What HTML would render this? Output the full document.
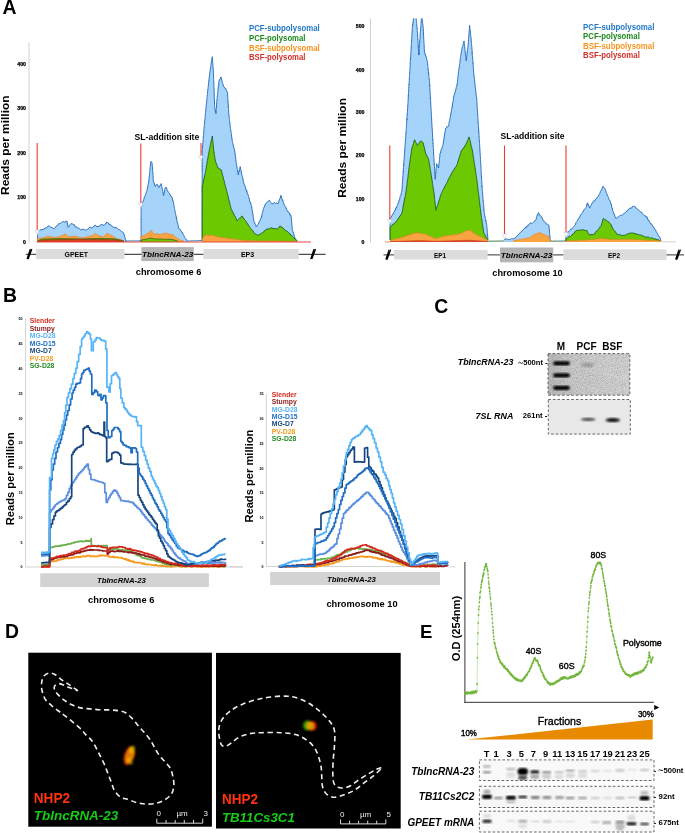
<!DOCTYPE html>
<html><head><meta charset="utf-8"><title>Figure</title>
<style>html,body{margin:0;padding:0;background:#fff;} svg{display:block;will-change:transform;} text{font-family:"Liberation Sans", sans-serif;}</style>
</head><body>
<svg width="685" height="833" viewBox="0 0 685 833" font-family='"Liberation Sans", sans-serif'>
<rect width="685" height="833" fill="#fff"/>
<text x="2.4" y="13.9" font-size="19.4" font-weight="bold" fill="#000">A</text>
<line x1="29" y1="42.5" x2="29" y2="242.5" stroke="#d0d0d0" stroke-width="1"/>
<text x="26" y="66.1" font-size="5.2" font-weight="bold" fill="#000" text-anchor="end" stroke="#000" stroke-width="0.25">400</text>
<text x="26" y="110.2" font-size="5.2" font-weight="bold" fill="#000" text-anchor="end" stroke="#000" stroke-width="0.25">300</text>
<text x="26" y="154.5" font-size="5.2" font-weight="bold" fill="#000" text-anchor="end" stroke="#000" stroke-width="0.25">200</text>
<text x="26" y="199.1" font-size="5.2" font-weight="bold" fill="#000" text-anchor="end" stroke="#000" stroke-width="0.25">100</text>
<text x="26" y="243.5" font-size="5.2" font-weight="bold" fill="#000" text-anchor="end" stroke="#000" stroke-width="0.25">0</text>
<text x="9.3" y="145.2" font-size="10.2" font-weight="bold" fill="#000" text-anchor="middle" textLength="99.5" lengthAdjust="spacingAndGlyphs" transform="rotate(-90 9.3 145.2)">Reads per million</text>
<text x="249" y="31.2" font-size="9.0" font-weight="bold" fill="#1f78c8" textLength="70.7" lengthAdjust="spacingAndGlyphs">PCF-subpolysomal</text>
<text x="249" y="40.9" font-size="9.0" font-weight="bold" fill="#1a8a1a" textLength="56.5" lengthAdjust="spacingAndGlyphs">PCF-polysomal</text>
<text x="249" y="50.599999999999994" font-size="9.0" font-weight="bold" fill="#f7941d" textLength="70.7" lengthAdjust="spacingAndGlyphs">BSF-subpolysomal</text>
<text x="249" y="60.3" font-size="9.0" font-weight="bold" fill="#d0302a" textLength="56.5" lengthAdjust="spacingAndGlyphs">BSF-polysomal</text>
<text x="134.5" y="139.5" font-size="8.6" font-weight="bold" fill="#000" textLength="64.8" lengthAdjust="spacingAndGlyphs">SL-addition site</text>
<path d="M37.5,242.0 L37.5,241.5 L37.5,239.8 L37.5,239.6 L37.5,238.4 L37.5,237.1 L37.5,235.5 L37.5,235.4 L37.5,234.3 L37.5,232.7 L37.5,231.6 L38.6,231.2 L39.7,230.3 L40.8,229.5 L41.9,229.9 L43.0,229.2 L44.1,229.1 L45.2,227.8 L46.3,228.1 L47.1,227.5 L48.0,225.9 L49.3,226.1 L50.6,227.3 L51.5,227.3 L52.4,227.5 L53.3,228.7 L54.2,228.7 L55.0,227.5 L55.9,226.9 L56.8,225.5 L57.7,225.2 L58.6,223.7 L59.4,223.6 L60.3,223.4 L61.2,222.9 L62.5,221.6 L63.8,221.7 L64.8,222.3 L65.9,221.1 L66.9,221.1 L67.1,221.5 L67.3,223.7 L67.6,223.6 L67.8,226.0 L68.0,226.2 L68.2,227.3 L68.8,226.5 L69.5,225.3 L70.2,224.6 L70.8,223.8 L72.1,223.7 L73.4,224.6 L74.3,224.6 L75.1,226.8 L76.0,226.9 L76.9,227.0 L77.8,228.4 L78.6,228.0 L79.5,229.0 L80.7,229.8 L81.8,229.7 L83.0,229.0 L84.2,229.7 L85.3,230.0 L86.5,229.9 L87.4,229.3 L88.3,228.8 L89.2,227.6 L90.5,227.2 L91.8,228.1 L92.7,227.2 L93.5,226.9 L94.4,225.5 L95.6,225.3 L96.7,226.8 L97.9,226.4 L99.1,226.5 L100.2,225.0 L101.4,224.6 L102.8,224.8 L104.1,225.5 L104.8,224.5 L105.4,223.6 L106.0,223.7 L106.7,222.0 L107.6,222.7 L108.4,222.9 L109.3,224.6 L110.5,224.5 L111.6,226.2 L112.8,226.4 L113.9,227.7 L115.0,227.2 L116.1,227.7 L117.2,228.1 L118.1,228.9 L119.0,229.9 L119.8,229.7 L120.7,230.8 L121.6,231.6 L122.4,232.0 L123.3,232.5 L123.7,233.8 L124.0,234.1 L124.4,235.1 L124.7,236.5 L125.1,237.8 L125.4,239.7 L125.7,239.9 L126.0,241.3 L126.0,242.0 Z" fill="#a6d3fa" stroke="none"/>
<path d="M37.5,241.5 L37.5,239.8 L37.5,239.6 L37.5,238.4 L37.5,237.1 L37.5,235.5 L37.5,235.4 L37.5,234.3 L37.5,232.7 L37.5,231.6 L38.6,231.2 L39.7,230.3 L40.8,229.5 L41.9,229.9 L43.0,229.2 L44.1,229.1 L45.2,227.8 L46.3,228.1 L47.1,227.5 L48.0,225.9 L49.3,226.1 L50.6,227.3 L51.5,227.3 L52.4,227.5 L53.3,228.7 L54.2,228.7 L55.0,227.5 L55.9,226.9 L56.8,225.5 L57.7,225.2 L58.6,223.7 L59.4,223.6 L60.3,223.4 L61.2,222.9 L62.5,221.6 L63.8,221.7 L64.8,222.3 L65.9,221.1 L66.9,221.1 L67.1,221.5 L67.3,223.7 L67.6,223.6 L67.8,226.0 L68.0,226.2 L68.2,227.3 L68.8,226.5 L69.5,225.3 L70.2,224.6 L70.8,223.8 L72.1,223.7 L73.4,224.6 L74.3,224.6 L75.1,226.8 L76.0,226.9 L76.9,227.0 L77.8,228.4 L78.6,228.0 L79.5,229.0 L80.7,229.8 L81.8,229.7 L83.0,229.0 L84.2,229.7 L85.3,230.0 L86.5,229.9 L87.4,229.3 L88.3,228.8 L89.2,227.6 L90.5,227.2 L91.8,228.1 L92.7,227.2 L93.5,226.9 L94.4,225.5 L95.6,225.3 L96.7,226.8 L97.9,226.4 L99.1,226.5 L100.2,225.0 L101.4,224.6 L102.8,224.8 L104.1,225.5 L104.8,224.5 L105.4,223.6 L106.0,223.7 L106.7,222.0 L107.6,222.7 L108.4,222.9 L109.3,224.6 L110.5,224.5 L111.6,226.2 L112.8,226.4 L113.9,227.7 L115.0,227.2 L116.1,227.7 L117.2,228.1 L118.1,228.9 L119.0,229.9 L119.8,229.7 L120.7,230.8 L121.6,231.6 L122.4,232.0 L123.3,232.5 L123.7,233.8 L124.0,234.1 L124.4,235.1 L124.7,236.5 L125.1,237.8 L125.4,239.7 L125.7,239.9 L126.0,241.3" fill="none" stroke="#1764b4" stroke-width="0.9" stroke-linejoin="round"/>
<path d="M37.5,242.0 L37.5,241.5 L37.5,240.1 L37.5,238.6 L38.6,238.3 L39.6,238.0 L40.7,237.8 L41.7,238.2 L42.8,237.8 L43.8,237.7 L44.9,237.0 L45.9,236.9 L47.0,236.5 L48.0,236.0 L49.0,236.5 L50.0,236.8 L51.0,236.5 L52.0,237.2 L53.0,237.4 L54.0,237.3 L55.0,237.4 L56.0,237.5 L57.0,236.9 L58.0,236.6 L59.0,236.2 L60.0,236.5 L61.0,235.7 L62.0,235.7 L63.2,234.8 L64.3,234.7 L65.5,233.9 L66.4,234.9 L67.2,235.4 L68.1,236.4 L69.0,236.9 L70.0,236.5 L71.0,236.6 L72.0,236.5 L73.0,236.5 L74.0,236.3 L75.0,236.1 L76.0,236.4 L77.0,236.5 L78.0,237.1 L79.0,237.4 L80.0,237.4 L81.0,237.4 L82.0,237.4 L83.0,237.8 L84.1,237.9 L85.1,237.3 L86.2,237.1 L87.2,236.3 L88.3,236.4 L89.5,235.9 L90.6,236.2 L91.8,235.7 L92.7,235.4 L93.5,234.9 L94.4,234.1 L95.3,233.4 L96.2,233.9 L97.0,234.6 L97.9,235.4 L98.8,235.7 L99.9,235.8 L100.9,236.2 L102.0,236.2 L103.0,236.9 L104.1,236.9 L104.8,235.6 L105.4,235.3 L106.0,234.6 L106.7,233.4 L107.8,233.4 L108.9,234.3 L110.0,234.8 L111.1,235.1 L112.0,235.9 L112.8,236.2 L113.7,236.5 L114.5,237.2 L115.4,237.8 L116.5,238.6 L117.6,239.0 L118.7,238.8 L119.8,239.5 L120.9,239.6 L122.0,240.1 L123.1,240.5 L124.2,241.3 L124.2,242.0 Z" fill="#f9a441" stroke="none"/>
<path d="M37.5,241.5 L37.5,240.1 L37.5,238.6 L38.6,238.3 L39.6,238.0 L40.7,237.8 L41.7,238.2 L42.8,237.8 L43.8,237.7 L44.9,237.0 L45.9,236.9 L47.0,236.5 L48.0,236.0 L49.0,236.5 L50.0,236.8 L51.0,236.5 L52.0,237.2 L53.0,237.4 L54.0,237.3 L55.0,237.4 L56.0,237.5 L57.0,236.9 L58.0,236.6 L59.0,236.2 L60.0,236.5 L61.0,235.7 L62.0,235.7 L63.2,234.8 L64.3,234.7 L65.5,233.9 L66.4,234.9 L67.2,235.4 L68.1,236.4 L69.0,236.9 L70.0,236.5 L71.0,236.6 L72.0,236.5 L73.0,236.5 L74.0,236.3 L75.0,236.1 L76.0,236.4 L77.0,236.5 L78.0,237.1 L79.0,237.4 L80.0,237.4 L81.0,237.4 L82.0,237.4 L83.0,237.8 L84.1,237.9 L85.1,237.3 L86.2,237.1 L87.2,236.3 L88.3,236.4 L89.5,235.9 L90.6,236.2 L91.8,235.7 L92.7,235.4 L93.5,234.9 L94.4,234.1 L95.3,233.4 L96.2,233.9 L97.0,234.6 L97.9,235.4 L98.8,235.7 L99.9,235.8 L100.9,236.2 L102.0,236.2 L103.0,236.9 L104.1,236.9 L104.8,235.6 L105.4,235.3 L106.0,234.6 L106.7,233.4 L107.8,233.4 L108.9,234.3 L110.0,234.8 L111.1,235.1 L112.0,235.9 L112.8,236.2 L113.7,236.5 L114.5,237.2 L115.4,237.8 L116.5,238.6 L117.6,239.0 L118.7,238.8 L119.8,239.5 L120.9,239.6 L122.0,240.1 L123.1,240.5 L124.2,241.3" fill="none" stroke="#e0802a" stroke-width="0.6" stroke-linejoin="round"/>
<path d="M37.5,242.0 L37.5,241.0 L42.0,239.0 L60.0,238.6 L80.0,239.0 L100.0,238.4 L115.0,238.8 L124.0,241.0 L124.0,242.0 Z" fill="#6cc800" stroke="none"/>
<path d="M37.5,241.0 L42.0,239.0 L60.0,238.6 L80.0,239.0 L100.0,238.4 L115.0,238.8 L124.0,241.0" fill="none" stroke="#0d4d1a" stroke-width="0.6" stroke-linejoin="round"/>
<path d="M37.5,242.0 L37.5,241.5 L42.0,240.0 L60.0,239.5 L80.0,239.3 L100.0,239.4 L115.0,239.8 L124.0,241.5 L124.0,242.0 Z" fill="#d9431f" stroke="none"/>
<path d="M37.5,241.5 L42.0,240.0 L60.0,239.5 L80.0,239.3 L100.0,239.4 L115.0,239.8 L124.0,241.5" fill="none" stroke="#8a2a10" stroke-width="0.6" stroke-linejoin="round"/>
<path d="M141.1,242.0 L141.1,242.0 L141.1,240.9 L141.1,239.4 L141.1,239.6 L141.1,238.3 L141.1,236.4 L141.1,236.0 L141.1,234.7 L141.1,234.0 L141.1,232.5 L141.1,231.4 L141.1,230.4 L141.1,229.8 L141.1,229.3 L141.1,228.0 L141.1,226.2 L141.1,226.3 L141.1,225.6 L141.1,224.4 L141.1,223.4 L141.1,221.1 L141.1,220.9 L141.1,219.2 L141.1,219.4 L141.1,217.4 L141.1,217.3 L141.1,215.5 L141.1,215.3 L141.1,213.6 L141.1,212.1 L141.1,211.7 L141.1,210.6 L141.1,210.6 L141.1,208.6 L141.1,207.9 L141.1,207.0 L141.1,205.9 L141.5,205.7 L141.9,203.3 L142.2,203.2 L142.6,202.1 L143.0,201.5 L143.4,200.2 L143.8,199.8 L144.2,197.6 L144.7,197.1 L145.1,195.6 L145.5,194.5 L145.9,193.4 L146.4,191.4 L146.8,191.0 L147.0,190.5 L147.2,189.8 L147.4,187.8 L147.7,186.7 L147.9,186.9 L148.1,184.4 L148.3,183.4 L148.5,183.1 L148.6,181.3 L148.7,181.6 L148.9,180.5 L149.0,178.9 L149.1,178.2 L149.2,176.1 L149.3,176.1 L149.5,174.8 L149.6,173.9 L149.7,172.8 L149.8,171.6 L149.9,170.6 L150.0,169.2 L150.1,167.9 L150.2,167.5 L150.3,166.2 L150.4,165.9 L150.5,165.0 L150.6,163.9 L150.7,162.4 L150.8,161.4 L152.0,162.5 L152.1,163.1 L152.2,164.4 L152.3,165.6 L152.4,166.8 L152.4,168.4 L152.5,168.0 L152.6,169.7 L152.7,170.7 L152.8,172.1 L152.9,172.8 L153.0,174.5 L153.0,175.3 L153.1,176.0 L153.1,177.2 L153.2,178.1 L153.2,179.4 L153.2,180.1 L153.3,180.8 L153.7,182.2 L154.1,182.6 L154.5,184.2 L154.9,186.1 L155.4,186.5 L155.9,185.2 L156.5,184.2 L157.7,184.8 L158.1,185.9 L158.4,187.2 L158.8,187.6 L159.4,187.2 L160.0,185.3 L160.6,185.3 L161.1,183.6 L161.3,183.8 L161.5,185.4 L161.8,186.4 L162.0,187.6 L162.2,188.8 L162.4,189.3 L162.7,191.2 L162.9,191.5 L163.1,193.0 L163.4,195.2 L163.6,195.6 L163.8,195.0 L164.0,193.4 L164.2,191.8 L164.5,192.1 L164.7,190.7 L164.9,188.8 L165.1,188.2 L166.2,187.1 L166.6,188.0 L167.0,189.6 L167.4,190.5 L168.2,192.0 L169.1,192.8 L169.6,193.5 L170.2,195.0 L171.1,196.7 L171.9,196.8 L172.1,197.5 L172.4,198.3 L172.6,200.3 L172.9,200.1 L173.1,202.0 L173.4,202.1 L173.6,203.6 L173.8,204.8 L174.0,205.2 L174.2,206.4 L174.4,208.4 L174.5,208.6 L174.7,209.6 L174.9,210.9 L175.1,211.3 L175.3,212.7 L175.5,213.1 L175.7,214.5 L175.9,215.3 L176.2,216.2 L176.4,218.5 L176.6,217.9 L176.8,220.2 L177.0,220.7 L177.2,222.4 L177.4,223.0 L177.7,222.9 L177.9,224.7 L178.1,224.9 L178.4,226.9 L178.6,228.0 L178.8,228.7 L179.5,229.0 L180.3,229.4 L181.0,231.0 L181.6,231.9 L182.2,232.0 L182.7,233.2 L183.3,234.4 L183.9,235.5 L184.4,237.3 L185.0,237.8 L185.6,238.5 L186.1,239.0 L186.7,240.6 L187.0,241.5 L187.0,242.0 Z" fill="#a6d3fa" stroke="none"/>
<path d="M141.1,242.0 L141.1,240.9 L141.1,239.4 L141.1,239.6 L141.1,238.3 L141.1,236.4 L141.1,236.0 L141.1,234.7 L141.1,234.0 L141.1,232.5 L141.1,231.4 L141.1,230.4 L141.1,229.8 L141.1,229.3 L141.1,228.0 L141.1,226.2 L141.1,226.3 L141.1,225.6 L141.1,224.4 L141.1,223.4 L141.1,221.1 L141.1,220.9 L141.1,219.2 L141.1,219.4 L141.1,217.4 L141.1,217.3 L141.1,215.5 L141.1,215.3 L141.1,213.6 L141.1,212.1 L141.1,211.7 L141.1,210.6 L141.1,210.6 L141.1,208.6 L141.1,207.9 L141.1,207.0 L141.1,205.9 L141.5,205.7 L141.9,203.3 L142.2,203.2 L142.6,202.1 L143.0,201.5 L143.4,200.2 L143.8,199.8 L144.2,197.6 L144.7,197.1 L145.1,195.6 L145.5,194.5 L145.9,193.4 L146.4,191.4 L146.8,191.0 L147.0,190.5 L147.2,189.8 L147.4,187.8 L147.7,186.7 L147.9,186.9 L148.1,184.4 L148.3,183.4 L148.5,183.1 L148.6,181.3 L148.7,181.6 L148.9,180.5 L149.0,178.9 L149.1,178.2 L149.2,176.1 L149.3,176.1 L149.5,174.8 L149.6,173.9 L149.7,172.8 L149.8,171.6 L149.9,170.6 L150.0,169.2 L150.1,167.9 L150.2,167.5 L150.3,166.2 L150.4,165.9 L150.5,165.0 L150.6,163.9 L150.7,162.4 L150.8,161.4 L152.0,162.5 L152.1,163.1 L152.2,164.4 L152.3,165.6 L152.4,166.8 L152.4,168.4 L152.5,168.0 L152.6,169.7 L152.7,170.7 L152.8,172.1 L152.9,172.8 L153.0,174.5 L153.0,175.3 L153.1,176.0 L153.1,177.2 L153.2,178.1 L153.2,179.4 L153.2,180.1 L153.3,180.8 L153.7,182.2 L154.1,182.6 L154.5,184.2 L154.9,186.1 L155.4,186.5 L155.9,185.2 L156.5,184.2 L157.7,184.8 L158.1,185.9 L158.4,187.2 L158.8,187.6 L159.4,187.2 L160.0,185.3 L160.6,185.3 L161.1,183.6 L161.3,183.8 L161.5,185.4 L161.8,186.4 L162.0,187.6 L162.2,188.8 L162.4,189.3 L162.7,191.2 L162.9,191.5 L163.1,193.0 L163.4,195.2 L163.6,195.6 L163.8,195.0 L164.0,193.4 L164.2,191.8 L164.5,192.1 L164.7,190.7 L164.9,188.8 L165.1,188.2 L166.2,187.1 L166.6,188.0 L167.0,189.6 L167.4,190.5 L168.2,192.0 L169.1,192.8 L169.6,193.5 L170.2,195.0 L171.1,196.7 L171.9,196.8 L172.1,197.5 L172.4,198.3 L172.6,200.3 L172.9,200.1 L173.1,202.0 L173.4,202.1 L173.6,203.6 L173.8,204.8 L174.0,205.2 L174.2,206.4 L174.4,208.4 L174.5,208.6 L174.7,209.6 L174.9,210.9 L175.1,211.3 L175.3,212.7 L175.5,213.1 L175.7,214.5 L175.9,215.3 L176.2,216.2 L176.4,218.5 L176.6,217.9 L176.8,220.2 L177.0,220.7 L177.2,222.4 L177.4,223.0 L177.7,222.9 L177.9,224.7 L178.1,224.9 L178.4,226.9 L178.6,228.0 L178.8,228.7 L179.5,229.0 L180.3,229.4 L181.0,231.0 L181.6,231.9 L182.2,232.0 L182.7,233.2 L183.3,234.4 L183.9,235.5 L184.4,237.3 L185.0,237.8 L185.6,238.5 L186.1,239.0 L186.7,240.6 L187.0,241.5" fill="none" stroke="#1764b4" stroke-width="0.9" stroke-linejoin="round"/>
<path d="M141.1,242.0 L141.1,242.0 L141.1,241.2 L141.1,240.1 L141.1,238.8 L141.1,237.4 L141.1,236.7 L142.1,236.0 L143.1,235.7 L144.1,235.4 L145.1,234.9 L145.9,234.1 L146.8,234.0 L147.7,233.5 L148.5,232.7 L149.3,232.3 L150.0,231.5 L150.8,230.4 L151.7,230.9 L152.5,232.1 L153.3,233.3 L154.2,234.4 L155.2,233.8 L156.1,234.1 L157.1,233.5 L158.2,234.0 L159.4,234.3 L160.5,234.4 L161.9,233.9 L163.4,233.8 L164.8,233.0 L166.2,233.0 L167.2,233.6 L168.2,233.8 L169.2,234.1 L170.2,234.4 L171.6,234.4 L173.1,234.4 L173.8,235.6 L174.6,236.1 L175.3,237.2 L176.3,237.6 L177.3,238.2 L178.3,238.8 L179.3,239.5 L180.5,240.1 L181.6,240.7 L182.8,240.5 L183.9,241.3 L183.9,242.0 Z" fill="#f9a441" stroke="none"/>
<path d="M141.1,242.0 L141.1,241.2 L141.1,240.1 L141.1,238.8 L141.1,237.4 L141.1,236.7 L142.1,236.0 L143.1,235.7 L144.1,235.4 L145.1,234.9 L145.9,234.1 L146.8,234.0 L147.7,233.5 L148.5,232.7 L149.3,232.3 L150.0,231.5 L150.8,230.4 L151.7,230.9 L152.5,232.1 L153.3,233.3 L154.2,234.4 L155.2,233.8 L156.1,234.1 L157.1,233.5 L158.2,234.0 L159.4,234.3 L160.5,234.4 L161.9,233.9 L163.4,233.8 L164.8,233.0 L166.2,233.0 L167.2,233.6 L168.2,233.8 L169.2,234.1 L170.2,234.4 L171.6,234.4 L173.1,234.4 L173.8,235.6 L174.6,236.1 L175.3,237.2 L176.3,237.6 L177.3,238.2 L178.3,238.8 L179.3,239.5 L180.5,240.1 L181.6,240.7 L182.8,240.5 L183.9,241.3" fill="none" stroke="#e0802a" stroke-width="0.6" stroke-linejoin="round"/>
<path d="M141.1,242.0 L141.1,242.0 L141.1,240.1 L147.4,238.9 L150.8,238.0 L154.2,238.9 L164.5,239.2 L172.5,239.5 L178.2,241.3 L178.2,242.0 Z" fill="#6cc800" stroke="none"/>
<path d="M141.1,242.0 L141.1,240.1 L147.4,238.9 L150.8,238.0 L154.2,238.9 L164.5,239.2 L172.5,239.5 L178.2,241.3" fill="none" stroke="#0d4d1a" stroke-width="0.6" stroke-linejoin="round"/>
<path d="M125.3,241 L141.1,240.8 M186.9,241 L202.2,240.6" stroke="#1764b4" stroke-width="0.8" fill="none"/>
<path d="M202.2,242.0 L202.2,241.0 L202.2,239.3 L202.2,239.0 L202.2,238.3 L202.2,236.5 L202.2,235.6 L202.2,234.2 L202.2,233.2 L202.2,233.0 L202.2,232.3 L202.2,231.2 L202.2,229.4 L202.2,228.3 L202.2,228.7 L202.2,227.0 L202.2,225.8 L202.2,225.3 L202.2,224.4 L202.2,223.0 L202.2,221.3 L202.2,221.5 L202.2,219.5 L202.2,218.2 L202.2,217.7 L202.2,217.0 L202.2,216.2 L202.2,214.4 L202.2,214.3 L202.2,213.0 L202.2,211.4 L202.2,211.6 L202.2,210.5 L202.2,209.7 L202.2,208.3 L202.2,206.5 L202.2,206.4 L202.2,205.6 L202.2,204.0 L202.2,203.7 L202.2,202.8 L202.2,200.8 L202.2,200.7 L202.2,199.7 L202.2,198.5 L202.2,196.1 L202.2,195.7 L202.2,195.1 L202.2,194.1 L202.2,193.4 L202.2,192.2 L202.2,190.4 L202.2,190.7 L202.2,189.0 L202.2,188.6 L202.2,186.4 L202.2,186.8 L202.2,185.0 L202.2,184.4 L202.2,183.3 L202.2,182.6 L202.2,180.7 L202.2,179.2 L202.2,178.8 L202.2,177.4 L202.2,177.0 L202.2,176.5 L202.2,174.7 L202.2,173.3 L202.2,172.1 L202.2,171.8 L202.2,171.1 L202.2,169.1 L202.2,169.2 L202.2,167.4 L202.2,166.2 L202.2,166.6 L202.2,165.0 L202.2,164.6 L202.2,162.9 L202.2,161.3 L202.2,160.5 L202.2,159.8 L202.2,159.1 L202.2,158.4 L202.2,157.3 L202.2,156.2 L202.2,154.5 L202.2,153.8 L202.2,152.7 L202.2,151.9 L202.2,150.9 L202.3,149.5 L202.4,148.9 L202.5,147.7 L202.5,146.0 L202.6,146.3 L202.7,144.9 L202.8,144.2 L202.9,143.1 L203.0,142.0 L203.1,141.5 L203.1,139.4 L203.2,138.4 L203.3,136.7 L203.4,136.8 L203.5,135.6 L203.6,134.6 L203.7,134.3 L203.7,131.9 L203.8,130.9 L203.9,130.7 L204.0,129.8 L204.1,128.2 L204.2,126.5 L204.3,126.0 L204.3,125.7 L204.4,124.2 L204.5,123.1 L204.6,122.1 L204.7,120.9 L204.8,120.3 L204.9,119.3 L205.0,118.4 L205.1,117.7 L205.2,116.5 L205.3,114.9 L205.4,113.7 L205.5,113.6 L205.6,112.6 L205.7,111.9 L205.8,109.6 L205.9,109.7 L206.0,108.8 L206.1,106.4 L206.2,105.8 L206.3,105.4 L206.4,103.6 L206.5,103.7 L206.6,101.8 L206.7,101.5 L206.8,99.8 L206.9,98.7 L207.0,97.7 L207.1,97.2 L207.2,96.6 L207.3,94.7 L207.4,94.5 L207.5,93.2 L207.6,91.9 L207.7,91.4 L207.8,89.9 L208.0,88.6 L208.1,87.4 L208.2,86.3 L208.3,86.3 L208.4,84.8 L208.5,83.3 L208.6,83.6 L208.8,82.1 L208.9,80.0 L209.0,80.2 L209.1,79.0 L209.2,77.7 L209.3,76.7 L209.4,76.5 L209.6,74.5 L209.7,73.9 L209.8,72.9 L209.9,71.6 L210.1,70.4 L210.2,69.4 L210.4,69.1 L210.5,67.9 L210.7,66.6 L210.9,65.7 L211.0,64.2 L211.2,64.1 L211.3,61.8 L211.5,61.9 L211.7,60.6 L211.8,59.2 L212.0,58.8 L212.1,57.8 L212.3,56.7 L212.4,57.0 L212.4,58.7 L212.5,59.2 L212.6,61.3 L212.7,61.5 L212.7,62.5 L212.8,63.3 L212.9,64.1 L212.9,65.3 L213.0,66.3 L213.1,68.1 L213.1,69.5 L213.2,69.5 L213.3,70.3 L213.4,72.0 L213.4,72.3 L213.5,74.0 L213.5,74.9 L213.6,76.5 L213.6,76.6 L213.6,78.4 L213.7,79.2 L213.7,79.4 L213.8,80.7 L213.8,82.3 L213.8,82.5 L213.9,83.7 L213.9,85.4 L213.9,86.8 L214.0,87.3 L214.0,88.6 L214.0,88.5 L214.1,90.0 L214.1,91.1 L214.2,93.1 L214.2,93.2 L214.2,94.9 L214.3,94.7 L214.3,96.5 L214.3,98.2 L214.4,99.0 L214.4,99.7 L214.4,100.0 L214.5,102.3 L214.5,101.9 L214.6,104.4 L214.6,105.1 L214.6,106.0 L214.7,106.7 L214.7,107.7 L214.9,108.1 L215.1,109.4 L215.3,111.0 L215.5,112.0 L215.7,112.5 L215.9,113.7 L216.0,113.2 L216.1,110.9 L216.1,110.2 L216.2,108.8 L216.3,108.2 L216.4,108.0 L216.5,106.9 L216.5,104.8 L216.6,104.0 L216.7,102.6 L216.8,102.5 L216.9,101.1 L216.9,99.7 L217.0,98.9 L217.1,98.1 L217.2,97.7 L217.3,96.0 L217.4,95.4 L217.5,94.3 L217.7,93.1 L217.8,92.2 L217.9,90.9 L218.0,89.6 L218.1,89.1 L218.2,87.8 L218.3,86.9 L218.4,85.6 L218.6,85.9 L218.7,84.1 L218.8,82.7 L218.9,81.4 L219.0,81.2 L219.5,79.6 L220.0,79.7 L220.5,77.7 L221.0,76.9 L221.3,78.2 L221.5,78.5 L221.8,80.2 L222.1,80.9 L222.3,82.4 L222.6,83.1 L222.9,83.8 L223.1,84.7 L223.4,86.1 L224.2,87.1 L225.0,88.3 L225.8,88.5 L226.2,90.0 L226.7,90.8 L227.1,91.7 L227.5,93.2 L227.6,94.9 L227.6,95.8 L227.7,95.6 L227.8,97.6 L227.8,98.7 L227.9,99.6 L227.9,101.1 L228.0,102.0 L228.1,101.9 L228.1,104.2 L228.2,104.1 L228.3,105.2 L228.3,107.2 L228.4,106.9 L228.4,108.3 L228.5,109.7 L228.6,110.1 L228.6,111.1 L228.7,112.5 L228.8,114.1 L228.9,114.8 L229.1,116.1 L229.2,117.2 L229.3,118.4 L229.4,119.5 L229.5,120.4 L229.6,121.7 L229.8,121.9 L229.9,123.3 L230.0,124.1 L230.1,125.9 L230.2,126.4 L230.4,127.1 L230.5,128.5 L230.6,129.3 L230.7,130.0 L230.9,130.7 L231.0,132.1 L231.2,132.7 L231.3,133.5 L231.4,134.6 L231.6,136.2 L231.7,137.7 L231.9,137.5 L232.0,139.5 L232.2,139.6 L232.3,141.3 L232.6,142.5 L232.9,143.4 L233.2,144.8 L233.5,146.1 L233.8,147.7 L234.1,148.4 L234.4,149.5 L234.7,150.9 L234.8,152.3 L235.0,152.3 L235.1,153.7 L235.2,155.3 L235.4,156.5 L235.5,157.8 L235.6,157.5 L235.8,159.2 L235.9,159.7 L236.0,161.3 L236.2,162.6 L236.3,163.0 L236.5,163.4 L236.6,164.7 L236.8,166.7 L237.0,166.7 L237.1,168.2 L237.3,169.5 L237.5,169.6 L237.6,171.5 L237.8,171.2 L238.0,172.7 L238.1,173.4 L238.3,175.0 L238.5,173.7 L238.8,172.4 L239.0,171.0 L239.2,171.3 L239.5,169.2 L239.7,168.8 L240.0,167.7 L240.2,166.6 L240.4,168.2 L240.6,169.3 L240.8,170.0 L241.1,170.2 L241.3,172.3 L241.5,172.2 L241.7,174.7 L241.9,175.0 L242.2,175.7 L242.4,176.7 L242.7,177.7 L243.0,179.1 L243.2,180.8 L243.5,182.0 L243.8,182.9 L244.0,183.9 L244.3,184.6 L244.7,185.1 L245.0,186.2 L245.4,187.1 L245.7,188.3 L246.1,190.0 L246.5,191.2 L246.8,190.6 L247.2,193.1 L247.5,194.0 L247.9,194.2 L248.2,195.1 L248.5,196.5 L248.8,197.7 L249.1,197.7 L249.4,199.4 L249.7,201.0 L250.0,201.8 L250.3,202.9 L250.6,202.5 L250.9,204.6 L251.2,205.2 L251.5,206.2 L251.7,207.9 L251.8,207.7 L252.0,209.4 L252.2,209.7 L252.4,211.9 L252.5,212.8 L252.7,212.7 L252.9,214.2 L253.0,214.9 L253.2,216.8 L253.4,217.8 L253.6,217.9 L253.7,220.4 L253.9,220.7 L254.3,222.5 L254.7,222.6 L255.1,223.8 L255.5,224.5 L255.9,225.9 L256.3,226.7 L256.9,225.6 L257.5,224.8 L258.1,224.4 L258.7,223.1 L259.2,221.6 L259.7,220.8 L260.1,220.7 L260.6,218.8 L261.1,218.3 L261.4,216.5 L261.6,216.9 L261.9,214.5 L262.2,213.9 L262.4,212.6 L262.7,211.5 L263.0,210.6 L263.2,209.8 L263.5,208.7 L264.0,207.1 L264.5,206.8 L264.9,205.0 L265.4,204.1 L265.9,203.8 L266.6,202.6 L267.3,201.9 L268.1,201.4 L268.8,200.6 L269.5,200.2 L270.1,201.7 L270.7,202.3 L271.3,202.9 L271.9,203.8 L273.1,203.7 L274.3,202.6 L275.5,203.3 L276.7,203.1 L277.9,203.8 L278.3,202.9 L278.7,202.1 L279.1,200.7 L279.4,200.0 L279.8,198.8 L280.2,198.2 L280.6,196.0 L281.0,195.4 L281.4,196.7 L281.7,198.3 L282.1,198.6 L282.4,200.3 L282.8,200.0 L283.2,202.1 L283.5,202.4 L283.9,203.8 L284.3,205.1 L284.8,205.5 L285.2,206.6 L285.7,207.0 L286.1,207.9 L286.6,209.8 L287.1,210.3 L287.5,211.0 L288.1,212.0 L288.7,212.0 L289.3,213.1 L289.9,215.1 L290.5,214.6 L291.1,215.9 L291.2,217.0 L291.3,218.3 L291.4,219.0 L291.5,220.1 L291.6,221.8 L291.7,222.5 L291.8,222.7 L291.8,224.0 L291.9,225.0 L292.0,226.5 L292.1,227.5 L292.2,227.8 L292.3,229.6 L292.4,230.3 L292.7,231.2 L293.1,231.5 L293.4,233.0 L293.8,234.2 L294.1,234.9 L294.5,236.8 L294.8,237.5 L295.4,239.2 L296.0,240.0 L296.6,240.3 L297.2,241.0 L297.2,242.0 Z" fill="#a6d3fa" stroke="none"/>
<path d="M202.2,241.0 L202.2,239.3 L202.2,239.0 L202.2,238.3 L202.2,236.5 L202.2,235.6 L202.2,234.2 L202.2,233.2 L202.2,233.0 L202.2,232.3 L202.2,231.2 L202.2,229.4 L202.2,228.3 L202.2,228.7 L202.2,227.0 L202.2,225.8 L202.2,225.3 L202.2,224.4 L202.2,223.0 L202.2,221.3 L202.2,221.5 L202.2,219.5 L202.2,218.2 L202.2,217.7 L202.2,217.0 L202.2,216.2 L202.2,214.4 L202.2,214.3 L202.2,213.0 L202.2,211.4 L202.2,211.6 L202.2,210.5 L202.2,209.7 L202.2,208.3 L202.2,206.5 L202.2,206.4 L202.2,205.6 L202.2,204.0 L202.2,203.7 L202.2,202.8 L202.2,200.8 L202.2,200.7 L202.2,199.7 L202.2,198.5 L202.2,196.1 L202.2,195.7 L202.2,195.1 L202.2,194.1 L202.2,193.4 L202.2,192.2 L202.2,190.4 L202.2,190.7 L202.2,189.0 L202.2,188.6 L202.2,186.4 L202.2,186.8 L202.2,185.0 L202.2,184.4 L202.2,183.3 L202.2,182.6 L202.2,180.7 L202.2,179.2 L202.2,178.8 L202.2,177.4 L202.2,177.0 L202.2,176.5 L202.2,174.7 L202.2,173.3 L202.2,172.1 L202.2,171.8 L202.2,171.1 L202.2,169.1 L202.2,169.2 L202.2,167.4 L202.2,166.2 L202.2,166.6 L202.2,165.0 L202.2,164.6 L202.2,162.9 L202.2,161.3 L202.2,160.5 L202.2,159.8 L202.2,159.1 L202.2,158.4 L202.2,157.3 L202.2,156.2 L202.2,154.5 L202.2,153.8 L202.2,152.7 L202.2,151.9 L202.2,150.9 L202.3,149.5 L202.4,148.9 L202.5,147.7 L202.5,146.0 L202.6,146.3 L202.7,144.9 L202.8,144.2 L202.9,143.1 L203.0,142.0 L203.1,141.5 L203.1,139.4 L203.2,138.4 L203.3,136.7 L203.4,136.8 L203.5,135.6 L203.6,134.6 L203.7,134.3 L203.7,131.9 L203.8,130.9 L203.9,130.7 L204.0,129.8 L204.1,128.2 L204.2,126.5 L204.3,126.0 L204.3,125.7 L204.4,124.2 L204.5,123.1 L204.6,122.1 L204.7,120.9 L204.8,120.3 L204.9,119.3 L205.0,118.4 L205.1,117.7 L205.2,116.5 L205.3,114.9 L205.4,113.7 L205.5,113.6 L205.6,112.6 L205.7,111.9 L205.8,109.6 L205.9,109.7 L206.0,108.8 L206.1,106.4 L206.2,105.8 L206.3,105.4 L206.4,103.6 L206.5,103.7 L206.6,101.8 L206.7,101.5 L206.8,99.8 L206.9,98.7 L207.0,97.7 L207.1,97.2 L207.2,96.6 L207.3,94.7 L207.4,94.5 L207.5,93.2 L207.6,91.9 L207.7,91.4 L207.8,89.9 L208.0,88.6 L208.1,87.4 L208.2,86.3 L208.3,86.3 L208.4,84.8 L208.5,83.3 L208.6,83.6 L208.8,82.1 L208.9,80.0 L209.0,80.2 L209.1,79.0 L209.2,77.7 L209.3,76.7 L209.4,76.5 L209.6,74.5 L209.7,73.9 L209.8,72.9 L209.9,71.6 L210.1,70.4 L210.2,69.4 L210.4,69.1 L210.5,67.9 L210.7,66.6 L210.9,65.7 L211.0,64.2 L211.2,64.1 L211.3,61.8 L211.5,61.9 L211.7,60.6 L211.8,59.2 L212.0,58.8 L212.1,57.8 L212.3,56.7 L212.4,57.0 L212.4,58.7 L212.5,59.2 L212.6,61.3 L212.7,61.5 L212.7,62.5 L212.8,63.3 L212.9,64.1 L212.9,65.3 L213.0,66.3 L213.1,68.1 L213.1,69.5 L213.2,69.5 L213.3,70.3 L213.4,72.0 L213.4,72.3 L213.5,74.0 L213.5,74.9 L213.6,76.5 L213.6,76.6 L213.6,78.4 L213.7,79.2 L213.7,79.4 L213.8,80.7 L213.8,82.3 L213.8,82.5 L213.9,83.7 L213.9,85.4 L213.9,86.8 L214.0,87.3 L214.0,88.6 L214.0,88.5 L214.1,90.0 L214.1,91.1 L214.2,93.1 L214.2,93.2 L214.2,94.9 L214.3,94.7 L214.3,96.5 L214.3,98.2 L214.4,99.0 L214.4,99.7 L214.4,100.0 L214.5,102.3 L214.5,101.9 L214.6,104.4 L214.6,105.1 L214.6,106.0 L214.7,106.7 L214.7,107.7 L214.9,108.1 L215.1,109.4 L215.3,111.0 L215.5,112.0 L215.7,112.5 L215.9,113.7 L216.0,113.2 L216.1,110.9 L216.1,110.2 L216.2,108.8 L216.3,108.2 L216.4,108.0 L216.5,106.9 L216.5,104.8 L216.6,104.0 L216.7,102.6 L216.8,102.5 L216.9,101.1 L216.9,99.7 L217.0,98.9 L217.1,98.1 L217.2,97.7 L217.3,96.0 L217.4,95.4 L217.5,94.3 L217.7,93.1 L217.8,92.2 L217.9,90.9 L218.0,89.6 L218.1,89.1 L218.2,87.8 L218.3,86.9 L218.4,85.6 L218.6,85.9 L218.7,84.1 L218.8,82.7 L218.9,81.4 L219.0,81.2 L219.5,79.6 L220.0,79.7 L220.5,77.7 L221.0,76.9 L221.3,78.2 L221.5,78.5 L221.8,80.2 L222.1,80.9 L222.3,82.4 L222.6,83.1 L222.9,83.8 L223.1,84.7 L223.4,86.1 L224.2,87.1 L225.0,88.3 L225.8,88.5 L226.2,90.0 L226.7,90.8 L227.1,91.7 L227.5,93.2 L227.6,94.9 L227.6,95.8 L227.7,95.6 L227.8,97.6 L227.8,98.7 L227.9,99.6 L227.9,101.1 L228.0,102.0 L228.1,101.9 L228.1,104.2 L228.2,104.1 L228.3,105.2 L228.3,107.2 L228.4,106.9 L228.4,108.3 L228.5,109.7 L228.6,110.1 L228.6,111.1 L228.7,112.5 L228.8,114.1 L228.9,114.8 L229.1,116.1 L229.2,117.2 L229.3,118.4 L229.4,119.5 L229.5,120.4 L229.6,121.7 L229.8,121.9 L229.9,123.3 L230.0,124.1 L230.1,125.9 L230.2,126.4 L230.4,127.1 L230.5,128.5 L230.6,129.3 L230.7,130.0 L230.9,130.7 L231.0,132.1 L231.2,132.7 L231.3,133.5 L231.4,134.6 L231.6,136.2 L231.7,137.7 L231.9,137.5 L232.0,139.5 L232.2,139.6 L232.3,141.3 L232.6,142.5 L232.9,143.4 L233.2,144.8 L233.5,146.1 L233.8,147.7 L234.1,148.4 L234.4,149.5 L234.7,150.9 L234.8,152.3 L235.0,152.3 L235.1,153.7 L235.2,155.3 L235.4,156.5 L235.5,157.8 L235.6,157.5 L235.8,159.2 L235.9,159.7 L236.0,161.3 L236.2,162.6 L236.3,163.0 L236.5,163.4 L236.6,164.7 L236.8,166.7 L237.0,166.7 L237.1,168.2 L237.3,169.5 L237.5,169.6 L237.6,171.5 L237.8,171.2 L238.0,172.7 L238.1,173.4 L238.3,175.0 L238.5,173.7 L238.8,172.4 L239.0,171.0 L239.2,171.3 L239.5,169.2 L239.7,168.8 L240.0,167.7 L240.2,166.6 L240.4,168.2 L240.6,169.3 L240.8,170.0 L241.1,170.2 L241.3,172.3 L241.5,172.2 L241.7,174.7 L241.9,175.0 L242.2,175.7 L242.4,176.7 L242.7,177.7 L243.0,179.1 L243.2,180.8 L243.5,182.0 L243.8,182.9 L244.0,183.9 L244.3,184.6 L244.7,185.1 L245.0,186.2 L245.4,187.1 L245.7,188.3 L246.1,190.0 L246.5,191.2 L246.8,190.6 L247.2,193.1 L247.5,194.0 L247.9,194.2 L248.2,195.1 L248.5,196.5 L248.8,197.7 L249.1,197.7 L249.4,199.4 L249.7,201.0 L250.0,201.8 L250.3,202.9 L250.6,202.5 L250.9,204.6 L251.2,205.2 L251.5,206.2 L251.7,207.9 L251.8,207.7 L252.0,209.4 L252.2,209.7 L252.4,211.9 L252.5,212.8 L252.7,212.7 L252.9,214.2 L253.0,214.9 L253.2,216.8 L253.4,217.8 L253.6,217.9 L253.7,220.4 L253.9,220.7 L254.3,222.5 L254.7,222.6 L255.1,223.8 L255.5,224.5 L255.9,225.9 L256.3,226.7 L256.9,225.6 L257.5,224.8 L258.1,224.4 L258.7,223.1 L259.2,221.6 L259.7,220.8 L260.1,220.7 L260.6,218.8 L261.1,218.3 L261.4,216.5 L261.6,216.9 L261.9,214.5 L262.2,213.9 L262.4,212.6 L262.7,211.5 L263.0,210.6 L263.2,209.8 L263.5,208.7 L264.0,207.1 L264.5,206.8 L264.9,205.0 L265.4,204.1 L265.9,203.8 L266.6,202.6 L267.3,201.9 L268.1,201.4 L268.8,200.6 L269.5,200.2 L270.1,201.7 L270.7,202.3 L271.3,202.9 L271.9,203.8 L273.1,203.7 L274.3,202.6 L275.5,203.3 L276.7,203.1 L277.9,203.8 L278.3,202.9 L278.7,202.1 L279.1,200.7 L279.4,200.0 L279.8,198.8 L280.2,198.2 L280.6,196.0 L281.0,195.4 L281.4,196.7 L281.7,198.3 L282.1,198.6 L282.4,200.3 L282.8,200.0 L283.2,202.1 L283.5,202.4 L283.9,203.8 L284.3,205.1 L284.8,205.5 L285.2,206.6 L285.7,207.0 L286.1,207.9 L286.6,209.8 L287.1,210.3 L287.5,211.0 L288.1,212.0 L288.7,212.0 L289.3,213.1 L289.9,215.1 L290.5,214.6 L291.1,215.9 L291.2,217.0 L291.3,218.3 L291.4,219.0 L291.5,220.1 L291.6,221.8 L291.7,222.5 L291.8,222.7 L291.8,224.0 L291.9,225.0 L292.0,226.5 L292.1,227.5 L292.2,227.8 L292.3,229.6 L292.4,230.3 L292.7,231.2 L293.1,231.5 L293.4,233.0 L293.8,234.2 L294.1,234.9 L294.5,236.8 L294.8,237.5 L295.4,239.2 L296.0,240.0 L296.6,240.3 L297.2,241.0" fill="none" stroke="#1764b4" stroke-width="0.9" stroke-linejoin="round"/>
<path d="M202.2,242.0 L202.2,241.0 L202.2,240.4 L202.2,239.0 L202.2,238.1 L202.2,237.4 L202.2,235.6 L202.2,234.9 L202.2,233.9 L202.2,232.8 L202.2,231.9 L202.2,230.6 L202.2,230.2 L202.2,229.5 L202.2,227.7 L202.2,226.7 L202.2,225.8 L202.2,225.3 L202.2,223.7 L202.2,223.3 L202.2,221.7 L202.2,221.1 L202.2,220.2 L202.2,219.2 L202.2,217.6 L202.2,217.5 L202.2,216.3 L202.2,215.0 L202.2,214.4 L202.2,213.1 L202.2,211.7 L202.2,210.9 L202.2,210.3 L202.2,209.0 L202.2,207.5 L202.2,206.7 L202.2,205.7 L202.2,205.1 L202.2,204.1 L202.2,202.9 L202.2,201.9 L202.2,201.5 L202.2,199.8 L202.2,199.2 L202.2,197.7 L202.2,197.0 L202.2,195.7 L202.2,194.6 L202.2,193.8 L202.2,192.6 L202.2,191.9 L202.2,191.2 L202.2,190.0 L202.2,189.3 L202.2,188.0 L202.2,187.0 L202.4,185.6 L202.6,185.3 L202.8,183.9 L203.0,183.3 L203.3,182.5 L203.5,181.1 L203.7,179.8 L203.9,179.0 L204.1,178.1 L204.3,176.9 L204.5,175.7 L204.7,175.0 L205.0,174.3 L205.2,173.5 L205.4,172.4 L205.6,171.6 L205.8,170.2 L206.0,169.5 L206.1,168.1 L206.3,167.3 L206.5,165.6 L206.7,165.4 L206.8,164.2 L207.0,162.8 L207.2,161.9 L207.3,160.7 L207.5,160.2 L207.7,158.8 L207.9,158.1 L208.0,157.3 L208.2,155.8 L208.4,155.1 L208.6,153.7 L208.8,152.6 L209.0,152.2 L209.2,151.2 L209.4,149.5 L209.6,148.7 L209.8,148.1 L210.0,147.1 L210.2,145.6 L210.4,144.7 L210.6,143.8 L210.8,143.1 L211.1,141.2 L211.3,140.2 L211.6,139.5 L211.8,138.6 L212.1,137.6 L212.3,136.0 L212.4,137.0 L212.5,138.3 L212.6,139.5 L212.7,139.8 L212.8,140.7 L212.9,141.8 L213.0,143.3 L213.1,143.6 L213.2,145.0 L213.3,146.4 L213.4,146.7 L213.5,148.1 L213.6,149.0 L213.7,150.5 L213.8,151.0 L214.0,152.1 L214.2,153.1 L214.3,154.6 L214.5,155.5 L214.7,156.0 L214.9,157.7 L215.0,158.4 L215.2,160.0 L215.4,160.6 L215.7,162.1 L216.1,162.7 L216.4,163.6 L216.8,164.4 L217.1,165.5 L217.5,166.5 L217.8,167.8 L218.7,168.1 L219.6,169.2 L220.5,169.2 L221.4,170.2 L221.7,171.4 L221.9,172.4 L222.2,173.6 L222.5,174.5 L222.7,176.0 L223.0,176.4 L223.3,177.3 L223.5,178.8 L223.8,179.8 L224.1,180.6 L224.4,182.4 L224.6,183.4 L224.9,184.3 L225.2,185.5 L225.5,185.9 L225.7,187.3 L226.0,188.2 L226.3,189.4 L226.6,190.3 L226.8,191.4 L227.1,192.6 L227.4,193.8 L227.6,194.3 L227.9,195.8 L228.2,196.5 L228.4,198.4 L228.7,199.0 L229.0,200.1 L229.2,201.2 L229.5,202.0 L229.8,203.5 L230.0,204.6 L230.3,205.9 L230.6,206.6 L230.8,207.4 L231.1,208.7 L231.5,209.7 L232.0,210.1 L232.4,211.6 L232.9,212.1 L233.3,213.4 L233.8,213.7 L234.2,215.1 L234.7,215.9 L235.2,216.5 L235.7,217.4 L236.1,218.5 L236.6,220.1 L237.1,220.7 L237.9,219.8 L238.7,219.1 L239.5,218.3 L240.3,217.8 L241.1,217.2 L241.9,215.9 L242.6,216.6 L243.3,218.0 L244.1,219.1 L244.8,220.0 L245.5,220.7 L246.1,221.4 L246.7,222.5 L247.3,223.7 L247.9,224.1 L248.5,225.2 L249.1,226.2 L249.7,227.4 L250.3,227.9 L251.0,228.5 L251.7,229.8 L252.4,230.2 L253.0,231.0 L253.7,232.2 L254.4,233.2 L255.1,233.9 L256.3,234.4 L257.5,235.1 L258.7,235.1 L259.6,234.2 L260.5,233.9 L261.4,233.3 L262.3,232.7 L263.1,231.9 L263.9,231.9 L264.7,230.5 L265.5,230.1 L266.3,229.2 L267.1,229.1 L268.3,228.9 L269.5,228.7 L270.7,227.9 L271.9,227.9 L273.1,228.6 L274.3,228.6 L275.5,228.5 L276.7,229.1 L277.6,228.7 L278.5,227.9 L279.4,226.5 L280.3,225.9 L281.2,227.1 L282.1,227.1 L283.0,228.1 L283.9,229.1 L284.7,229.6 L285.5,230.8 L286.3,230.7 L287.1,231.4 L287.9,231.8 L288.7,232.7 L289.5,233.8 L290.3,234.0 L291.1,235.4 L292.0,235.7 L292.8,236.7 L293.6,237.5 L294.3,238.6 L295.0,238.7 L295.8,239.6 L296.5,240.4 L297.2,241.0 L297.2,242.0 Z" fill="#6cc800" stroke="none"/>
<path d="M202.2,241.0 L202.2,240.4 L202.2,239.0 L202.2,238.1 L202.2,237.4 L202.2,235.6 L202.2,234.9 L202.2,233.9 L202.2,232.8 L202.2,231.9 L202.2,230.6 L202.2,230.2 L202.2,229.5 L202.2,227.7 L202.2,226.7 L202.2,225.8 L202.2,225.3 L202.2,223.7 L202.2,223.3 L202.2,221.7 L202.2,221.1 L202.2,220.2 L202.2,219.2 L202.2,217.6 L202.2,217.5 L202.2,216.3 L202.2,215.0 L202.2,214.4 L202.2,213.1 L202.2,211.7 L202.2,210.9 L202.2,210.3 L202.2,209.0 L202.2,207.5 L202.2,206.7 L202.2,205.7 L202.2,205.1 L202.2,204.1 L202.2,202.9 L202.2,201.9 L202.2,201.5 L202.2,199.8 L202.2,199.2 L202.2,197.7 L202.2,197.0 L202.2,195.7 L202.2,194.6 L202.2,193.8 L202.2,192.6 L202.2,191.9 L202.2,191.2 L202.2,190.0 L202.2,189.3 L202.2,188.0 L202.2,187.0 L202.4,185.6 L202.6,185.3 L202.8,183.9 L203.0,183.3 L203.3,182.5 L203.5,181.1 L203.7,179.8 L203.9,179.0 L204.1,178.1 L204.3,176.9 L204.5,175.7 L204.7,175.0 L205.0,174.3 L205.2,173.5 L205.4,172.4 L205.6,171.6 L205.8,170.2 L206.0,169.5 L206.1,168.1 L206.3,167.3 L206.5,165.6 L206.7,165.4 L206.8,164.2 L207.0,162.8 L207.2,161.9 L207.3,160.7 L207.5,160.2 L207.7,158.8 L207.9,158.1 L208.0,157.3 L208.2,155.8 L208.4,155.1 L208.6,153.7 L208.8,152.6 L209.0,152.2 L209.2,151.2 L209.4,149.5 L209.6,148.7 L209.8,148.1 L210.0,147.1 L210.2,145.6 L210.4,144.7 L210.6,143.8 L210.8,143.1 L211.1,141.2 L211.3,140.2 L211.6,139.5 L211.8,138.6 L212.1,137.6 L212.3,136.0 L212.4,137.0 L212.5,138.3 L212.6,139.5 L212.7,139.8 L212.8,140.7 L212.9,141.8 L213.0,143.3 L213.1,143.6 L213.2,145.0 L213.3,146.4 L213.4,146.7 L213.5,148.1 L213.6,149.0 L213.7,150.5 L213.8,151.0 L214.0,152.1 L214.2,153.1 L214.3,154.6 L214.5,155.5 L214.7,156.0 L214.9,157.7 L215.0,158.4 L215.2,160.0 L215.4,160.6 L215.7,162.1 L216.1,162.7 L216.4,163.6 L216.8,164.4 L217.1,165.5 L217.5,166.5 L217.8,167.8 L218.7,168.1 L219.6,169.2 L220.5,169.2 L221.4,170.2 L221.7,171.4 L221.9,172.4 L222.2,173.6 L222.5,174.5 L222.7,176.0 L223.0,176.4 L223.3,177.3 L223.5,178.8 L223.8,179.8 L224.1,180.6 L224.4,182.4 L224.6,183.4 L224.9,184.3 L225.2,185.5 L225.5,185.9 L225.7,187.3 L226.0,188.2 L226.3,189.4 L226.6,190.3 L226.8,191.4 L227.1,192.6 L227.4,193.8 L227.6,194.3 L227.9,195.8 L228.2,196.5 L228.4,198.4 L228.7,199.0 L229.0,200.1 L229.2,201.2 L229.5,202.0 L229.8,203.5 L230.0,204.6 L230.3,205.9 L230.6,206.6 L230.8,207.4 L231.1,208.7 L231.5,209.7 L232.0,210.1 L232.4,211.6 L232.9,212.1 L233.3,213.4 L233.8,213.7 L234.2,215.1 L234.7,215.9 L235.2,216.5 L235.7,217.4 L236.1,218.5 L236.6,220.1 L237.1,220.7 L237.9,219.8 L238.7,219.1 L239.5,218.3 L240.3,217.8 L241.1,217.2 L241.9,215.9 L242.6,216.6 L243.3,218.0 L244.1,219.1 L244.8,220.0 L245.5,220.7 L246.1,221.4 L246.7,222.5 L247.3,223.7 L247.9,224.1 L248.5,225.2 L249.1,226.2 L249.7,227.4 L250.3,227.9 L251.0,228.5 L251.7,229.8 L252.4,230.2 L253.0,231.0 L253.7,232.2 L254.4,233.2 L255.1,233.9 L256.3,234.4 L257.5,235.1 L258.7,235.1 L259.6,234.2 L260.5,233.9 L261.4,233.3 L262.3,232.7 L263.1,231.9 L263.9,231.9 L264.7,230.5 L265.5,230.1 L266.3,229.2 L267.1,229.1 L268.3,228.9 L269.5,228.7 L270.7,227.9 L271.9,227.9 L273.1,228.6 L274.3,228.6 L275.5,228.5 L276.7,229.1 L277.6,228.7 L278.5,227.9 L279.4,226.5 L280.3,225.9 L281.2,227.1 L282.1,227.1 L283.0,228.1 L283.9,229.1 L284.7,229.6 L285.5,230.8 L286.3,230.7 L287.1,231.4 L287.9,231.8 L288.7,232.7 L289.5,233.8 L290.3,234.0 L291.1,235.4 L292.0,235.7 L292.8,236.7 L293.6,237.5 L294.3,238.6 L295.0,238.7 L295.8,239.6 L296.5,240.4 L297.2,241.0" fill="none" stroke="#0d4d1a" stroke-width="0.8" stroke-linejoin="round"/>
<path d="M202.2,242.0 L202.2,241.0 L202.2,239.9 L202.2,238.7 L203.0,237.6 L203.8,236.8 L204.6,235.6 L205.6,235.4 L206.7,235.2 L207.7,235.0 L208.7,235.4 L209.7,235.3 L210.8,235.4 L211.8,235.1 L212.8,235.1 L213.9,235.8 L214.9,235.9 L215.9,236.2 L216.9,236.7 L218.0,236.7 L219.0,237.0 L220.0,237.1 L221.0,237.4 L222.0,237.1 L223.0,237.9 L224.0,237.7 L225.1,237.5 L226.1,238.0 L227.1,238.5 L228.1,238.7 L229.1,238.4 L230.1,238.4 L231.1,238.7 L232.1,239.2 L233.1,238.8 L234.1,238.7 L235.1,239.1 L236.1,239.4 L237.1,239.7 L238.1,239.3 L239.1,239.7 L240.1,240.2 L241.1,240.0 L242.1,240.0 L243.1,240.4 L244.1,240.6 L245.1,240.4 L246.2,240.6 L247.2,240.5 L248.2,240.8 L249.2,240.5 L250.2,240.9 L251.2,240.8 L252.3,240.8 L253.3,240.6 L254.3,240.7 L255.3,240.6 L256.3,240.3 L257.3,241.0 L258.4,241.0 L259.4,240.9 L260.4,241.0 L261.4,240.8 L262.4,241.2 L263.4,240.8 L264.5,241.2 L265.5,240.5 L266.5,240.8 L267.5,241.0 L268.5,241.2 L269.5,241.0 L270.6,241.2 L271.6,240.9 L272.6,241.1 L273.6,241.3 L274.6,241.1 L275.6,240.7 L276.7,241.2 L277.7,240.7 L278.7,241.0 L279.7,240.8 L280.7,241.4 L281.7,240.9 L282.8,241.4 L283.8,240.9 L284.8,241.0 L285.8,241.4 L286.8,241.6 L287.8,241.0 L288.9,241.4 L289.9,241.3 L290.9,241.5 L291.9,241.1 L292.9,241.0 L293.9,241.1 L295.0,241.8 L296.0,241.5 L297.0,241.5 L297.0,242.0 Z" fill="#f9a441" stroke="none"/>
<path d="M202.2,241.0 L202.2,239.9 L202.2,238.7 L203.0,237.6 L203.8,236.8 L204.6,235.6 L205.6,235.4 L206.7,235.2 L207.7,235.0 L208.7,235.4 L209.7,235.3 L210.8,235.4 L211.8,235.1 L212.8,235.1 L213.9,235.8 L214.9,235.9 L215.9,236.2 L216.9,236.7 L218.0,236.7 L219.0,237.0 L220.0,237.1 L221.0,237.4 L222.0,237.1 L223.0,237.9 L224.0,237.7 L225.1,237.5 L226.1,238.0 L227.1,238.5 L228.1,238.7 L229.1,238.4 L230.1,238.4 L231.1,238.7 L232.1,239.2 L233.1,238.8 L234.1,238.7 L235.1,239.1 L236.1,239.4 L237.1,239.7 L238.1,239.3 L239.1,239.7 L240.1,240.2 L241.1,240.0 L242.1,240.0 L243.1,240.4 L244.1,240.6 L245.1,240.4 L246.2,240.6 L247.2,240.5 L248.2,240.8 L249.2,240.5 L250.2,240.9 L251.2,240.8 L252.3,240.8 L253.3,240.6 L254.3,240.7 L255.3,240.6 L256.3,240.3 L257.3,241.0 L258.4,241.0 L259.4,240.9 L260.4,241.0 L261.4,240.8 L262.4,241.2 L263.4,240.8 L264.5,241.2 L265.5,240.5 L266.5,240.8 L267.5,241.0 L268.5,241.2 L269.5,241.0 L270.6,241.2 L271.6,240.9 L272.6,241.1 L273.6,241.3 L274.6,241.1 L275.6,240.7 L276.7,241.2 L277.7,240.7 L278.7,241.0 L279.7,240.8 L280.7,241.4 L281.7,240.9 L282.8,241.4 L283.8,240.9 L284.8,241.0 L285.8,241.4 L286.8,241.6 L287.8,241.0 L288.9,241.4 L289.9,241.3 L290.9,241.5 L291.9,241.1 L292.9,241.0 L293.9,241.1 L295.0,241.8 L296.0,241.5 L297.0,241.5" fill="none" stroke="#e0802a" stroke-width="0.6" stroke-linejoin="round"/>
<line x1="36.7" y1="242" x2="311" y2="242" stroke="#e2372a" stroke-width="0.9"/>
<line x1="37.2" y1="143" x2="37.2" y2="230" stroke="#ee3b30" stroke-width="1.1"/>
<path d="M35.0,230 L39.400000000000006,230 L37.2,235 Z" fill="#fff" stroke="#bbb" stroke-width="0.4"/>
<line x1="140.8" y1="143.5" x2="140.8" y2="203" stroke="#ee3b30" stroke-width="1.1"/>
<path d="M138.60000000000002,203 L143.0,203 L140.8,208 Z" fill="#fff" stroke="#bbb" stroke-width="0.4"/>
<line x1="201" y1="143" x2="201" y2="155.8" stroke="#ee3b30" stroke-width="1.1"/>
<path d="M198.8,155.8 L203.2,155.8 L201,160.8 Z" fill="#fff" stroke="#bbb" stroke-width="0.4"/>
<line x1="25.8" y1="254.3" x2="325.6" y2="254.3" stroke="#222" stroke-width="1"/>
<path d="M27.2,258.6 L30.2,249.5 M28.3,258.6 L31.7,249.5" stroke="#000" stroke-width="1.25" stroke-linecap="round"/>
<path d="M310.9,258.6 L313.9,249.5 M312.0,258.6 L315.4,249.5" stroke="#000" stroke-width="1.25" stroke-linecap="round"/>
<rect x="36" y="249" width="88.5" height="10" fill="#dcdcdc"/>
<rect x="141.3" y="247.1" width="52.5" height="14" fill="#b4b4b4"/>
<rect x="203.3" y="249" width="95.5" height="10" fill="#dcdcdc"/>
<text x="76.3" y="256.7" font-size="8.0" font-weight="bold" fill="#000" text-anchor="middle" textLength="23.4" lengthAdjust="spacingAndGlyphs">GPEET</text>
<text x="167.6" y="257.1" font-size="8.1" font-weight="bold" font-style="italic" fill="#000" text-anchor="middle" textLength="51.4" lengthAdjust="spacingAndGlyphs">TbIncRNA-23</text>
<text x="247.5" y="256.7" font-size="8.0" font-weight="bold" fill="#000" text-anchor="middle" textLength="13.2" lengthAdjust="spacingAndGlyphs">EP3</text>
<text x="168.6" y="275.3" font-size="9.2" font-weight="bold" fill="#000" text-anchor="middle" textLength="65.7" lengthAdjust="spacingAndGlyphs">chromosome 6</text>
<line x1="370.5" y1="18.6" x2="370.5" y2="242.5" stroke="#d0d0d0" stroke-width="1"/>
<text x="364.5" y="28.3" font-size="5.2" font-weight="bold" fill="#000" text-anchor="end" stroke="#000" stroke-width="0.25">500</text>
<text x="364.5" y="71.7" font-size="5.2" font-weight="bold" fill="#000" text-anchor="end" stroke="#000" stroke-width="0.25">400</text>
<text x="364.5" y="114.4" font-size="5.2" font-weight="bold" fill="#000" text-anchor="end" stroke="#000" stroke-width="0.25">300</text>
<text x="364.5" y="157.1" font-size="5.2" font-weight="bold" fill="#000" text-anchor="end" stroke="#000" stroke-width="0.25">200</text>
<text x="364.5" y="200.5" font-size="5.2" font-weight="bold" fill="#000" text-anchor="end" stroke="#000" stroke-width="0.25">100</text>
<text x="364.5" y="243.7" font-size="5.2" font-weight="bold" fill="#000" text-anchor="end" stroke="#000" stroke-width="0.25">0</text>
<text x="346.1" y="147.9" font-size="10.2" font-weight="bold" fill="#000" text-anchor="middle" textLength="99.8" lengthAdjust="spacingAndGlyphs" transform="rotate(-90 346.1 147.9)">Reads per million</text>
<text x="583.1" y="29.8" font-size="9.0" font-weight="bold" fill="#1f78c8" textLength="71.3" lengthAdjust="spacingAndGlyphs">PCF-subpolysomal</text>
<text x="583.1" y="39.3" font-size="9.0" font-weight="bold" fill="#1a8a1a" textLength="56.7" lengthAdjust="spacingAndGlyphs">PCF-polysomal</text>
<text x="583.1" y="48.8" font-size="9.0" font-weight="bold" fill="#f7941d" textLength="71.3" lengthAdjust="spacingAndGlyphs">BSF-subpolysomal</text>
<text x="583.1" y="58.3" font-size="9.0" font-weight="bold" fill="#d0302a" textLength="56.7" lengthAdjust="spacingAndGlyphs">BSF-polysomal</text>
<text x="500.5" y="139.2" font-size="8.6" font-weight="bold" fill="#000" textLength="64.1" lengthAdjust="spacingAndGlyphs">SL-addition site</text>
<clipPath id="cpA"><rect x="371" y="18.6" width="310" height="230"/></clipPath>
<g clip-path="url(#cpA)">
<path d="M390.1,242.0 L390.1,239.9 L390.1,239.1 L390.1,237.3 L390.1,237.2 L390.1,236.5 L390.1,234.3 L390.1,234.3 L390.1,233.4 L390.1,232.7 L390.1,230.9 L390.1,230.1 L390.1,228.5 L390.1,228.3 L390.1,226.5 L390.1,226.0 L390.1,225.0 L390.1,224.6 L390.1,223.2 L390.1,221.0 L390.1,220.2 L390.1,219.5 L390.1,218.7 L390.7,217.6 L391.2,217.2 L391.8,215.5 L392.4,215.1 L392.9,214.0 L393.5,213.1 L394.0,211.8 L394.4,211.5 L394.9,210.2 L395.4,210.1 L395.8,207.7 L396.3,208.1 L396.8,206.7 L397.2,205.5 L397.7,204.6 L398.1,202.8 L398.4,202.7 L398.8,202.0 L399.1,200.1 L399.4,199.7 L399.8,198.4 L400.1,196.6 L400.5,196.2 L400.8,195.7 L401.1,193.6 L401.3,192.7 L401.6,192.1 L401.9,190.5 L402.0,190.1 L402.0,189.1 L402.1,187.2 L402.2,187.0 L402.3,184.8 L402.3,184.5 L402.4,183.3 L402.5,183.0 L402.5,181.8 L402.6,180.6 L402.7,179.9 L402.8,178.1 L402.8,177.2 L402.9,175.6 L403.0,175.1 L403.0,173.8 L403.1,173.7 L403.2,171.6 L403.3,172.0 L403.3,170.4 L403.4,169.1 L403.5,167.6 L403.6,167.1 L403.6,166.3 L403.7,164.6 L403.8,165.0 L403.8,162.9 L403.9,162.0 L404.0,160.8 L404.1,159.9 L404.1,158.7 L404.2,158.7 L404.3,156.3 L404.3,155.8 L404.4,155.2 L404.5,154.0 L404.6,152.7 L404.6,152.0 L404.7,151.0 L404.8,149.2 L404.8,148.7 L404.9,147.9 L405.0,147.4 L405.0,145.8 L405.1,144.8 L405.2,144.2 L405.3,142.6 L405.3,142.0 L405.4,140.4 L405.5,140.1 L405.5,139.0 L405.6,138.2 L405.7,137.5 L405.7,136.4 L405.8,135.7 L405.9,133.4 L405.9,133.6 L406.0,131.8 L406.1,130.6 L406.1,129.8 L406.2,129.6 L406.3,128.6 L406.4,127.3 L406.4,125.5 L406.5,124.2 L406.6,123.3 L406.6,123.1 L406.7,122.1 L406.8,120.0 L406.8,118.9 L406.9,119.6 L407.0,117.5 L407.0,116.0 L407.1,115.7 L407.2,114.1 L407.3,114.3 L407.3,112.8 L407.4,111.9 L407.5,111.4 L407.5,109.1 L407.6,108.7 L407.7,107.2 L407.7,107.1 L407.8,105.8 L407.8,104.5 L407.9,103.4 L408.0,102.8 L408.0,102.3 L408.1,101.3 L408.1,100.2 L408.2,99.3 L408.3,96.9 L408.3,95.7 L408.4,96.0 L408.4,94.0 L408.5,93.4 L408.6,92.3 L408.6,92.2 L408.7,90.3 L408.7,88.7 L408.8,87.8 L408.9,88.0 L408.9,86.8 L409.0,84.6 L409.0,85.0 L409.1,83.0 L409.1,82.6 L409.2,81.3 L409.3,80.8 L409.3,79.1 L409.4,77.3 L409.4,77.2 L409.5,76.7 L409.6,74.9 L409.6,74.6 L409.7,72.9 L409.7,71.8 L409.8,70.8 L409.9,69.5 L409.9,69.0 L410.0,68.7 L410.0,67.1 L410.1,66.4 L410.2,64.3 L410.2,63.6 L410.3,63.0 L410.3,61.6 L410.4,60.8 L410.5,58.9 L410.5,59.4 L410.6,57.1 L410.6,57.0 L410.7,56.5 L410.8,54.3 L410.8,53.2 L410.9,52.3 L410.9,51.6 L411.0,51.3 L411.1,48.9 L411.1,48.0 L411.2,48.1 L411.2,46.0 L411.3,45.7 L411.4,44.7 L411.4,42.5 L411.5,41.5 L411.6,41.7 L411.6,41.0 L411.7,39.6 L411.7,38.1 L411.8,36.5 L411.9,36.2 L411.9,34.5 L412.0,33.8 L412.0,32.3 L412.1,32.1 L412.2,31.0 L412.2,29.6 L412.3,28.5 L412.3,27.2 L412.4,26.9 L412.5,25.1 L412.7,24.3 L412.8,24.7 L413.0,22.1 L413.1,22.3 L413.2,20.9 L413.4,20.1 L413.5,18.6 L413.7,18.8 L413.8,17.5 L414.0,15.8 L414.1,15.0 L416.0,15.0 L416.1,15.9 L416.2,17.8 L416.2,17.5 L416.3,19.8 L416.4,20.4 L416.5,21.3 L416.6,22.3 L416.7,23.4 L416.7,23.6 L416.8,24.9 L416.9,26.1 L417.0,26.9 L417.1,27.8 L417.2,29.9 L417.2,30.4 L417.3,32.0 L417.4,32.6 L417.5,33.4 L417.5,35.4 L417.6,35.2 L417.7,36.7 L417.7,37.6 L417.8,39.2 L417.9,39.1 L417.9,40.9 L418.0,41.7 L418.1,43.0 L418.1,43.4 L418.2,44.9 L418.3,46.7 L418.4,46.2 L418.4,48.7 L418.5,49.8 L418.6,49.9 L418.6,50.3 L418.7,52.0 L418.8,53.8 L418.8,53.2 L418.9,55.1 L419.0,54.5 L419.0,53.5 L419.1,51.4 L419.2,51.2 L419.2,49.4 L419.3,48.3 L419.3,48.0 L419.4,46.6 L419.5,46.2 L419.5,44.9 L419.6,43.4 L419.7,43.5 L419.7,41.0 L419.8,41.3 L419.9,39.4 L419.9,39.4 L420.0,37.9 L420.0,36.6 L420.1,35.2 L420.2,35.3 L420.2,34.2 L420.3,32.6 L420.4,32.3 L420.5,30.7 L420.5,30.2 L420.6,29.1 L420.7,27.7 L420.8,26.1 L420.9,25.5 L421.0,24.1 L421.0,23.8 L421.1,22.3 L421.2,21.8 L421.3,20.8 L421.4,19.6 L421.5,17.6 L421.5,16.8 L421.6,15.3 L421.7,15.0 L421.8,15.8 L422.0,16.6 L422.1,17.9 L422.2,19.8 L422.3,19.8 L422.5,22.2 L422.6,23.3 L422.7,24.1 L422.8,24.3 L423.0,25.5 L423.1,26.9 L423.2,27.8 L423.2,29.1 L423.3,30.7 L423.3,30.1 L423.4,31.3 L423.4,33.5 L423.5,33.2 L423.5,35.7 L423.6,35.5 L423.7,37.9 L423.7,38.0 L423.8,39.3 L423.8,40.7 L423.9,41.7 L423.9,42.0 L424.0,43.1 L424.1,44.7 L424.1,44.8 L424.2,45.9 L424.2,47.9 L424.3,48.9 L424.3,49.8 L424.4,50.0 L424.4,51.0 L424.5,52.3 L424.9,52.7 L425.2,55.0 L425.6,54.7 L425.9,56.0 L426.2,56.8 L426.6,58.6 L426.9,60.6 L427.3,60.8 L427.4,61.1 L427.5,62.4 L427.6,63.5 L427.7,65.2 L427.8,65.7 L427.9,66.4 L428.0,68.3 L428.1,69.7 L428.2,69.4 L428.3,70.3 L428.5,71.9 L428.6,73.8 L428.7,73.3 L428.8,74.5 L428.9,76.4 L429.0,77.6 L429.1,78.1 L429.2,78.4 L429.3,80.3 L429.4,80.6 L429.5,81.6 L429.6,83.3 L429.7,83.6 L429.7,86.1 L429.8,85.7 L429.8,87.4 L429.9,89.0 L429.9,89.0 L430.0,90.3 L430.1,92.0 L430.1,92.7 L430.2,93.1 L430.2,94.7 L430.3,96.5 L430.3,97.2 L430.4,98.5 L430.5,97.9 L430.5,99.0 L430.6,100.8 L430.6,101.0 L430.7,103.6 L430.8,103.5 L430.8,105.0 L430.9,106.5 L430.9,106.8 L431.0,108.4 L431.0,108.4 L431.1,109.9 L431.2,111.4 L431.2,112.0 L431.3,112.6 L431.3,114.7 L431.4,114.9 L431.4,116.9 L431.5,117.2 L431.6,117.9 L431.6,119.8 L431.7,119.6 L431.7,121.6 L431.8,123.1 L431.9,123.6 L431.9,124.2 L432.0,126.2 L432.0,127.2 L432.1,128.0 L432.2,128.0 L432.2,128.8 L432.3,130.7 L432.3,130.9 L432.4,131.8 L432.5,133.7 L432.5,135.4 L432.6,135.2 L432.7,137.2 L432.7,138.5 L432.8,139.5 L432.8,139.0 L432.9,140.1 L433.0,142.6 L433.0,143.6 L433.1,143.3 L433.1,144.3 L433.2,146.2 L433.3,146.2 L433.3,147.3 L433.4,148.4 L433.4,150.1 L433.5,151.0 L433.6,151.8 L433.6,153.6 L433.7,153.4 L433.7,155.7 L433.8,156.5 L433.9,156.9 L433.9,158.3 L434.0,159.4 L434.0,159.5 L434.1,161.8 L434.2,162.0 L434.2,163.2 L434.3,164.7 L434.4,164.3 L434.4,165.8 L434.5,166.4 L434.5,168.6 L434.6,168.7 L434.7,170.6 L434.7,171.6 L434.8,173.1 L434.8,172.7 L434.9,174.1 L435.0,175.7 L435.0,176.2 L435.1,176.7 L435.1,178.6 L435.2,179.3 L435.3,178.8 L435.4,177.1 L435.5,176.0 L435.6,174.5 L435.7,173.9 L435.8,173.6 L435.9,171.8 L435.9,171.8 L436.0,169.7 L436.1,168.9 L436.2,168.3 L436.3,167.5 L436.4,166.4 L436.5,164.6 L436.6,163.7 L437.1,164.7 L437.6,165.2 L438.1,167.0 L438.6,168.0 L438.7,167.5 L438.8,165.5 L438.9,164.7 L439.0,163.2 L439.1,162.9 L439.2,161.9 L439.3,161.8 L439.4,160.2 L439.5,159.6 L439.6,157.4 L439.7,156.8 L439.8,156.3 L439.9,154.2 L440.0,153.9 L440.4,153.0 L440.7,152.0 L441.1,149.9 L441.4,149.1 L441.8,149.1 L442.1,147.0 L442.4,146.7 L442.8,145.4 L443.0,144.3 L443.1,143.2 L443.3,143.1 L443.5,141.2 L443.6,141.1 L443.8,140.0 L444.0,138.5 L444.1,136.8 L444.3,136.2 L444.4,136.2 L444.6,134.1 L444.8,133.6 L444.9,132.0 L445.1,131.9 L445.3,130.8 L445.4,130.2 L445.6,128.5 L446.3,128.0 L447.1,126.4 L447.8,126.9 L448.5,125.7 L448.7,124.8 L448.9,124.4 L449.1,122.7 L449.3,121.4 L449.5,120.6 L449.7,119.8 L449.9,119.0 L450.1,117.9 L450.3,117.3 L450.5,115.7 L450.7,114.1 L450.9,114.2 L451.1,113.0 L451.3,111.6 L451.5,110.0 L451.6,109.5 L451.8,109.2 L452.0,107.7 L452.1,106.0 L452.3,106.2 L452.5,105.0 L452.6,103.1 L452.8,102.9 L452.9,102.2 L453.1,100.7 L453.3,100.4 L453.4,98.7 L453.6,96.8 L453.8,96.9 L453.9,96.2 L454.1,94.6 L454.5,94.3 L454.8,92.9 L455.1,92.2 L455.5,90.9 L455.9,89.3 L456.2,87.6 L456.5,86.7 L456.9,86.2 L457.0,84.4 L457.1,84.9 L457.3,83.7 L457.4,82.9 L457.5,81.7 L457.6,80.1 L457.7,79.3 L457.8,77.4 L458.0,76.6 L458.1,76.0 L458.2,74.4 L458.3,73.9 L458.4,73.2 L458.5,71.6 L458.7,70.7 L458.8,69.5 L458.9,69.2 L459.0,68.1 L459.2,67.7 L459.3,66.0 L459.5,65.4 L459.6,64.4 L459.8,63.5 L459.9,62.4 L460.1,60.9 L460.2,59.1 L460.4,58.3 L460.5,57.4 L460.7,56.5 L460.8,55.9 L461.0,54.7 L461.1,53.3 L461.3,52.0 L461.4,52.0 L461.6,51.4 L461.7,49.5 L462.0,48.8 L462.3,46.8 L462.6,46.6 L462.9,45.8 L463.1,44.3 L463.4,43.4 L463.7,42.7 L464.0,41.0 L464.1,42.0 L464.2,43.4 L464.3,43.6 L464.5,45.7 L464.6,46.3 L464.7,46.7 L464.8,48.5 L464.9,49.9 L465.0,50.3 L465.2,51.1 L465.3,52.8 L465.4,54.3 L465.5,55.3 L465.6,55.3 L465.7,56.6 L465.9,57.5 L466.0,58.1 L466.1,59.8 L466.2,60.8 L466.3,59.4 L466.4,58.8 L466.6,58.4 L466.7,56.9 L466.8,56.7 L466.9,54.3 L467.0,53.3 L467.1,52.1 L467.3,52.2 L467.4,50.5 L467.5,49.4 L467.6,49.1 L467.7,48.7 L467.8,47.3 L468.0,46.7 L468.1,45.6 L468.2,43.9 L468.3,42.9 L468.4,41.4 L468.4,41.3 L468.5,39.3 L468.6,38.1 L468.7,37.6 L468.7,37.2 L468.8,35.9 L468.9,34.5 L469.0,33.0 L469.1,32.1 L469.1,31.8 L469.2,30.6 L469.3,29.7 L469.4,29.0 L469.4,27.7 L469.5,27.1 L469.6,25.5 L469.7,27.2 L469.8,27.6 L469.9,28.4 L470.1,29.6 L470.2,30.2 L470.3,31.1 L470.4,33.1 L470.5,33.7 L470.6,34.0 L470.7,35.7 L470.8,36.6 L471.0,37.2 L471.1,38.1 L471.2,40.2 L471.3,41.0 L471.4,42.5 L471.5,43.6 L471.5,44.2 L471.6,44.6 L471.7,46.4 L471.8,46.8 L471.9,47.7 L471.9,48.9 L472.0,49.6 L472.1,50.6 L472.2,53.1 L472.2,52.6 L472.3,55.2 L472.4,55.7 L472.5,56.8 L472.6,56.8 L472.6,58.8 L472.7,59.0 L472.8,60.5 L472.9,61.5 L473.0,63.3 L473.0,62.9 L473.1,63.8 L473.2,65.8 L473.3,66.7 L473.3,68.0 L473.4,68.0 L473.5,69.5 L473.6,71.2 L473.7,72.0 L473.7,72.5 L473.8,73.0 L473.9,74.9 L474.0,75.1 L474.1,77.6 L474.2,77.6 L474.4,78.2 L474.5,79.6 L474.6,80.5 L474.7,82.1 L474.8,82.3 L474.9,84.1 L475.1,85.3 L475.2,86.1 L475.3,87.3 L475.4,87.7 L475.5,88.9 L475.6,90.6 L475.8,90.8 L475.9,92.7 L476.0,92.7 L476.1,94.2 L476.2,95.9 L476.3,96.5 L476.5,96.9 L476.6,98.0 L476.7,98.9 L476.8,100.3 L476.9,101.7 L476.9,102.1 L477.0,103.9 L477.1,104.7 L477.1,105.9 L477.2,106.4 L477.2,107.0 L477.3,108.7 L477.4,109.3 L477.4,109.6 L477.5,111.3 L477.6,111.9 L477.6,112.7 L477.7,114.0 L477.8,116.2 L477.8,116.7 L477.9,117.3 L478.0,118.6 L478.0,119.2 L478.1,120.6 L478.1,121.0 L478.2,123.1 L478.3,124.0 L478.3,124.4 L478.4,125.6 L478.5,126.3 L478.5,128.0 L478.6,129.1 L478.7,130.2 L478.7,129.8 L478.8,132.2 L478.9,132.0 L478.9,132.9 L479.0,134.4 L479.1,135.8 L479.1,135.9 L479.2,137.8 L479.2,139.4 L479.3,140.1 L479.4,141.1 L479.4,141.0 L479.5,142.6 L479.6,143.3 L479.6,144.2 L479.7,145.4 L479.7,147.3 L479.8,148.5 L479.9,148.3 L479.9,149.8 L480.0,150.9 L480.0,152.6 L480.1,152.7 L480.2,153.2 L480.2,154.1 L480.3,155.2 L480.3,156.8 L480.4,157.2 L480.5,159.2 L480.5,159.4 L480.6,160.2 L480.6,162.3 L480.7,162.9 L480.8,164.4 L480.8,165.2 L480.9,165.8 L480.9,166.3 L481.0,168.7 L481.0,169.4 L481.1,169.7 L481.2,170.4 L481.2,172.4 L481.3,173.9 L481.3,174.6 L481.4,175.9 L481.5,177.1 L481.5,176.6 L481.6,177.7 L481.6,179.2 L481.7,179.6 L481.8,181.3 L481.8,182.9 L481.9,183.0 L481.9,184.9 L482.0,185.0 L482.1,187.0 L482.1,186.7 L482.2,187.8 L482.2,188.7 L482.3,190.5 L482.4,191.7 L482.5,191.7 L482.6,193.9 L482.7,194.5 L482.8,196.3 L482.8,196.5 L482.9,198.3 L483.0,199.1 L483.1,199.5 L483.2,201.2 L483.3,202.0 L483.4,203.0 L483.5,203.7 L483.6,204.3 L483.7,205.9 L483.8,207.0 L483.8,207.8 L483.9,209.8 L484.0,209.5 L484.1,211.7 L484.2,212.2 L484.3,213.1 L484.5,213.4 L484.7,215.3 L484.9,215.7 L485.1,217.2 L485.3,218.2 L485.6,219.7 L485.8,221.0 L486.0,220.6 L486.2,223.0 L486.4,224.1 L486.6,224.4 L486.7,224.8 L486.8,225.8 L486.9,227.4 L487.0,227.7 L487.1,228.9 L487.2,230.6 L487.3,231.1 L487.3,232.8 L487.4,233.2 L487.5,235.0 L487.6,236.0 L487.7,236.1 L487.8,238.1 L487.9,239.6 L488.0,239.9 L488.0,242.0 Z" fill="#a6d3fa" stroke="none"/>
<path d="M390.1,239.9 L390.1,239.1 L390.1,237.3 L390.1,237.2 L390.1,236.5 L390.1,234.3 L390.1,234.3 L390.1,233.4 L390.1,232.7 L390.1,230.9 L390.1,230.1 L390.1,228.5 L390.1,228.3 L390.1,226.5 L390.1,226.0 L390.1,225.0 L390.1,224.6 L390.1,223.2 L390.1,221.0 L390.1,220.2 L390.1,219.5 L390.1,218.7 L390.7,217.6 L391.2,217.2 L391.8,215.5 L392.4,215.1 L392.9,214.0 L393.5,213.1 L394.0,211.8 L394.4,211.5 L394.9,210.2 L395.4,210.1 L395.8,207.7 L396.3,208.1 L396.8,206.7 L397.2,205.5 L397.7,204.6 L398.1,202.8 L398.4,202.7 L398.8,202.0 L399.1,200.1 L399.4,199.7 L399.8,198.4 L400.1,196.6 L400.5,196.2 L400.8,195.7 L401.1,193.6 L401.3,192.7 L401.6,192.1 L401.9,190.5 L402.0,190.1 L402.0,189.1 L402.1,187.2 L402.2,187.0 L402.3,184.8 L402.3,184.5 L402.4,183.3 L402.5,183.0 L402.5,181.8 L402.6,180.6 L402.7,179.9 L402.8,178.1 L402.8,177.2 L402.9,175.6 L403.0,175.1 L403.0,173.8 L403.1,173.7 L403.2,171.6 L403.3,172.0 L403.3,170.4 L403.4,169.1 L403.5,167.6 L403.6,167.1 L403.6,166.3 L403.7,164.6 L403.8,165.0 L403.8,162.9 L403.9,162.0 L404.0,160.8 L404.1,159.9 L404.1,158.7 L404.2,158.7 L404.3,156.3 L404.3,155.8 L404.4,155.2 L404.5,154.0 L404.6,152.7 L404.6,152.0 L404.7,151.0 L404.8,149.2 L404.8,148.7 L404.9,147.9 L405.0,147.4 L405.0,145.8 L405.1,144.8 L405.2,144.2 L405.3,142.6 L405.3,142.0 L405.4,140.4 L405.5,140.1 L405.5,139.0 L405.6,138.2 L405.7,137.5 L405.7,136.4 L405.8,135.7 L405.9,133.4 L405.9,133.6 L406.0,131.8 L406.1,130.6 L406.1,129.8 L406.2,129.6 L406.3,128.6 L406.4,127.3 L406.4,125.5 L406.5,124.2 L406.6,123.3 L406.6,123.1 L406.7,122.1 L406.8,120.0 L406.8,118.9 L406.9,119.6 L407.0,117.5 L407.0,116.0 L407.1,115.7 L407.2,114.1 L407.3,114.3 L407.3,112.8 L407.4,111.9 L407.5,111.4 L407.5,109.1 L407.6,108.7 L407.7,107.2 L407.7,107.1 L407.8,105.8 L407.8,104.5 L407.9,103.4 L408.0,102.8 L408.0,102.3 L408.1,101.3 L408.1,100.2 L408.2,99.3 L408.3,96.9 L408.3,95.7 L408.4,96.0 L408.4,94.0 L408.5,93.4 L408.6,92.3 L408.6,92.2 L408.7,90.3 L408.7,88.7 L408.8,87.8 L408.9,88.0 L408.9,86.8 L409.0,84.6 L409.0,85.0 L409.1,83.0 L409.1,82.6 L409.2,81.3 L409.3,80.8 L409.3,79.1 L409.4,77.3 L409.4,77.2 L409.5,76.7 L409.6,74.9 L409.6,74.6 L409.7,72.9 L409.7,71.8 L409.8,70.8 L409.9,69.5 L409.9,69.0 L410.0,68.7 L410.0,67.1 L410.1,66.4 L410.2,64.3 L410.2,63.6 L410.3,63.0 L410.3,61.6 L410.4,60.8 L410.5,58.9 L410.5,59.4 L410.6,57.1 L410.6,57.0 L410.7,56.5 L410.8,54.3 L410.8,53.2 L410.9,52.3 L410.9,51.6 L411.0,51.3 L411.1,48.9 L411.1,48.0 L411.2,48.1 L411.2,46.0 L411.3,45.7 L411.4,44.7 L411.4,42.5 L411.5,41.5 L411.6,41.7 L411.6,41.0 L411.7,39.6 L411.7,38.1 L411.8,36.5 L411.9,36.2 L411.9,34.5 L412.0,33.8 L412.0,32.3 L412.1,32.1 L412.2,31.0 L412.2,29.6 L412.3,28.5 L412.3,27.2 L412.4,26.9 L412.5,25.1 L412.7,24.3 L412.8,24.7 L413.0,22.1 L413.1,22.3 L413.2,20.9 L413.4,20.1 L413.5,18.6 L413.7,18.8 L413.8,17.5 L414.0,15.8 L414.1,15.0 L416.0,15.0 L416.1,15.9 L416.2,17.8 L416.2,17.5 L416.3,19.8 L416.4,20.4 L416.5,21.3 L416.6,22.3 L416.7,23.4 L416.7,23.6 L416.8,24.9 L416.9,26.1 L417.0,26.9 L417.1,27.8 L417.2,29.9 L417.2,30.4 L417.3,32.0 L417.4,32.6 L417.5,33.4 L417.5,35.4 L417.6,35.2 L417.7,36.7 L417.7,37.6 L417.8,39.2 L417.9,39.1 L417.9,40.9 L418.0,41.7 L418.1,43.0 L418.1,43.4 L418.2,44.9 L418.3,46.7 L418.4,46.2 L418.4,48.7 L418.5,49.8 L418.6,49.9 L418.6,50.3 L418.7,52.0 L418.8,53.8 L418.8,53.2 L418.9,55.1 L419.0,54.5 L419.0,53.5 L419.1,51.4 L419.2,51.2 L419.2,49.4 L419.3,48.3 L419.3,48.0 L419.4,46.6 L419.5,46.2 L419.5,44.9 L419.6,43.4 L419.7,43.5 L419.7,41.0 L419.8,41.3 L419.9,39.4 L419.9,39.4 L420.0,37.9 L420.0,36.6 L420.1,35.2 L420.2,35.3 L420.2,34.2 L420.3,32.6 L420.4,32.3 L420.5,30.7 L420.5,30.2 L420.6,29.1 L420.7,27.7 L420.8,26.1 L420.9,25.5 L421.0,24.1 L421.0,23.8 L421.1,22.3 L421.2,21.8 L421.3,20.8 L421.4,19.6 L421.5,17.6 L421.5,16.8 L421.6,15.3 L421.7,15.0 L421.8,15.8 L422.0,16.6 L422.1,17.9 L422.2,19.8 L422.3,19.8 L422.5,22.2 L422.6,23.3 L422.7,24.1 L422.8,24.3 L423.0,25.5 L423.1,26.9 L423.2,27.8 L423.2,29.1 L423.3,30.7 L423.3,30.1 L423.4,31.3 L423.4,33.5 L423.5,33.2 L423.5,35.7 L423.6,35.5 L423.7,37.9 L423.7,38.0 L423.8,39.3 L423.8,40.7 L423.9,41.7 L423.9,42.0 L424.0,43.1 L424.1,44.7 L424.1,44.8 L424.2,45.9 L424.2,47.9 L424.3,48.9 L424.3,49.8 L424.4,50.0 L424.4,51.0 L424.5,52.3 L424.9,52.7 L425.2,55.0 L425.6,54.7 L425.9,56.0 L426.2,56.8 L426.6,58.6 L426.9,60.6 L427.3,60.8 L427.4,61.1 L427.5,62.4 L427.6,63.5 L427.7,65.2 L427.8,65.7 L427.9,66.4 L428.0,68.3 L428.1,69.7 L428.2,69.4 L428.3,70.3 L428.5,71.9 L428.6,73.8 L428.7,73.3 L428.8,74.5 L428.9,76.4 L429.0,77.6 L429.1,78.1 L429.2,78.4 L429.3,80.3 L429.4,80.6 L429.5,81.6 L429.6,83.3 L429.7,83.6 L429.7,86.1 L429.8,85.7 L429.8,87.4 L429.9,89.0 L429.9,89.0 L430.0,90.3 L430.1,92.0 L430.1,92.7 L430.2,93.1 L430.2,94.7 L430.3,96.5 L430.3,97.2 L430.4,98.5 L430.5,97.9 L430.5,99.0 L430.6,100.8 L430.6,101.0 L430.7,103.6 L430.8,103.5 L430.8,105.0 L430.9,106.5 L430.9,106.8 L431.0,108.4 L431.0,108.4 L431.1,109.9 L431.2,111.4 L431.2,112.0 L431.3,112.6 L431.3,114.7 L431.4,114.9 L431.4,116.9 L431.5,117.2 L431.6,117.9 L431.6,119.8 L431.7,119.6 L431.7,121.6 L431.8,123.1 L431.9,123.6 L431.9,124.2 L432.0,126.2 L432.0,127.2 L432.1,128.0 L432.2,128.0 L432.2,128.8 L432.3,130.7 L432.3,130.9 L432.4,131.8 L432.5,133.7 L432.5,135.4 L432.6,135.2 L432.7,137.2 L432.7,138.5 L432.8,139.5 L432.8,139.0 L432.9,140.1 L433.0,142.6 L433.0,143.6 L433.1,143.3 L433.1,144.3 L433.2,146.2 L433.3,146.2 L433.3,147.3 L433.4,148.4 L433.4,150.1 L433.5,151.0 L433.6,151.8 L433.6,153.6 L433.7,153.4 L433.7,155.7 L433.8,156.5 L433.9,156.9 L433.9,158.3 L434.0,159.4 L434.0,159.5 L434.1,161.8 L434.2,162.0 L434.2,163.2 L434.3,164.7 L434.4,164.3 L434.4,165.8 L434.5,166.4 L434.5,168.6 L434.6,168.7 L434.7,170.6 L434.7,171.6 L434.8,173.1 L434.8,172.7 L434.9,174.1 L435.0,175.7 L435.0,176.2 L435.1,176.7 L435.1,178.6 L435.2,179.3 L435.3,178.8 L435.4,177.1 L435.5,176.0 L435.6,174.5 L435.7,173.9 L435.8,173.6 L435.9,171.8 L435.9,171.8 L436.0,169.7 L436.1,168.9 L436.2,168.3 L436.3,167.5 L436.4,166.4 L436.5,164.6 L436.6,163.7 L437.1,164.7 L437.6,165.2 L438.1,167.0 L438.6,168.0 L438.7,167.5 L438.8,165.5 L438.9,164.7 L439.0,163.2 L439.1,162.9 L439.2,161.9 L439.3,161.8 L439.4,160.2 L439.5,159.6 L439.6,157.4 L439.7,156.8 L439.8,156.3 L439.9,154.2 L440.0,153.9 L440.4,153.0 L440.7,152.0 L441.1,149.9 L441.4,149.1 L441.8,149.1 L442.1,147.0 L442.4,146.7 L442.8,145.4 L443.0,144.3 L443.1,143.2 L443.3,143.1 L443.5,141.2 L443.6,141.1 L443.8,140.0 L444.0,138.5 L444.1,136.8 L444.3,136.2 L444.4,136.2 L444.6,134.1 L444.8,133.6 L444.9,132.0 L445.1,131.9 L445.3,130.8 L445.4,130.2 L445.6,128.5 L446.3,128.0 L447.1,126.4 L447.8,126.9 L448.5,125.7 L448.7,124.8 L448.9,124.4 L449.1,122.7 L449.3,121.4 L449.5,120.6 L449.7,119.8 L449.9,119.0 L450.1,117.9 L450.3,117.3 L450.5,115.7 L450.7,114.1 L450.9,114.2 L451.1,113.0 L451.3,111.6 L451.5,110.0 L451.6,109.5 L451.8,109.2 L452.0,107.7 L452.1,106.0 L452.3,106.2 L452.5,105.0 L452.6,103.1 L452.8,102.9 L452.9,102.2 L453.1,100.7 L453.3,100.4 L453.4,98.7 L453.6,96.8 L453.8,96.9 L453.9,96.2 L454.1,94.6 L454.5,94.3 L454.8,92.9 L455.1,92.2 L455.5,90.9 L455.9,89.3 L456.2,87.6 L456.5,86.7 L456.9,86.2 L457.0,84.4 L457.1,84.9 L457.3,83.7 L457.4,82.9 L457.5,81.7 L457.6,80.1 L457.7,79.3 L457.8,77.4 L458.0,76.6 L458.1,76.0 L458.2,74.4 L458.3,73.9 L458.4,73.2 L458.5,71.6 L458.7,70.7 L458.8,69.5 L458.9,69.2 L459.0,68.1 L459.2,67.7 L459.3,66.0 L459.5,65.4 L459.6,64.4 L459.8,63.5 L459.9,62.4 L460.1,60.9 L460.2,59.1 L460.4,58.3 L460.5,57.4 L460.7,56.5 L460.8,55.9 L461.0,54.7 L461.1,53.3 L461.3,52.0 L461.4,52.0 L461.6,51.4 L461.7,49.5 L462.0,48.8 L462.3,46.8 L462.6,46.6 L462.9,45.8 L463.1,44.3 L463.4,43.4 L463.7,42.7 L464.0,41.0 L464.1,42.0 L464.2,43.4 L464.3,43.6 L464.5,45.7 L464.6,46.3 L464.7,46.7 L464.8,48.5 L464.9,49.9 L465.0,50.3 L465.2,51.1 L465.3,52.8 L465.4,54.3 L465.5,55.3 L465.6,55.3 L465.7,56.6 L465.9,57.5 L466.0,58.1 L466.1,59.8 L466.2,60.8 L466.3,59.4 L466.4,58.8 L466.6,58.4 L466.7,56.9 L466.8,56.7 L466.9,54.3 L467.0,53.3 L467.1,52.1 L467.3,52.2 L467.4,50.5 L467.5,49.4 L467.6,49.1 L467.7,48.7 L467.8,47.3 L468.0,46.7 L468.1,45.6 L468.2,43.9 L468.3,42.9 L468.4,41.4 L468.4,41.3 L468.5,39.3 L468.6,38.1 L468.7,37.6 L468.7,37.2 L468.8,35.9 L468.9,34.5 L469.0,33.0 L469.1,32.1 L469.1,31.8 L469.2,30.6 L469.3,29.7 L469.4,29.0 L469.4,27.7 L469.5,27.1 L469.6,25.5 L469.7,27.2 L469.8,27.6 L469.9,28.4 L470.1,29.6 L470.2,30.2 L470.3,31.1 L470.4,33.1 L470.5,33.7 L470.6,34.0 L470.7,35.7 L470.8,36.6 L471.0,37.2 L471.1,38.1 L471.2,40.2 L471.3,41.0 L471.4,42.5 L471.5,43.6 L471.5,44.2 L471.6,44.6 L471.7,46.4 L471.8,46.8 L471.9,47.7 L471.9,48.9 L472.0,49.6 L472.1,50.6 L472.2,53.1 L472.2,52.6 L472.3,55.2 L472.4,55.7 L472.5,56.8 L472.6,56.8 L472.6,58.8 L472.7,59.0 L472.8,60.5 L472.9,61.5 L473.0,63.3 L473.0,62.9 L473.1,63.8 L473.2,65.8 L473.3,66.7 L473.3,68.0 L473.4,68.0 L473.5,69.5 L473.6,71.2 L473.7,72.0 L473.7,72.5 L473.8,73.0 L473.9,74.9 L474.0,75.1 L474.1,77.6 L474.2,77.6 L474.4,78.2 L474.5,79.6 L474.6,80.5 L474.7,82.1 L474.8,82.3 L474.9,84.1 L475.1,85.3 L475.2,86.1 L475.3,87.3 L475.4,87.7 L475.5,88.9 L475.6,90.6 L475.8,90.8 L475.9,92.7 L476.0,92.7 L476.1,94.2 L476.2,95.9 L476.3,96.5 L476.5,96.9 L476.6,98.0 L476.7,98.9 L476.8,100.3 L476.9,101.7 L476.9,102.1 L477.0,103.9 L477.1,104.7 L477.1,105.9 L477.2,106.4 L477.2,107.0 L477.3,108.7 L477.4,109.3 L477.4,109.6 L477.5,111.3 L477.6,111.9 L477.6,112.7 L477.7,114.0 L477.8,116.2 L477.8,116.7 L477.9,117.3 L478.0,118.6 L478.0,119.2 L478.1,120.6 L478.1,121.0 L478.2,123.1 L478.3,124.0 L478.3,124.4 L478.4,125.6 L478.5,126.3 L478.5,128.0 L478.6,129.1 L478.7,130.2 L478.7,129.8 L478.8,132.2 L478.9,132.0 L478.9,132.9 L479.0,134.4 L479.1,135.8 L479.1,135.9 L479.2,137.8 L479.2,139.4 L479.3,140.1 L479.4,141.1 L479.4,141.0 L479.5,142.6 L479.6,143.3 L479.6,144.2 L479.7,145.4 L479.7,147.3 L479.8,148.5 L479.9,148.3 L479.9,149.8 L480.0,150.9 L480.0,152.6 L480.1,152.7 L480.2,153.2 L480.2,154.1 L480.3,155.2 L480.3,156.8 L480.4,157.2 L480.5,159.2 L480.5,159.4 L480.6,160.2 L480.6,162.3 L480.7,162.9 L480.8,164.4 L480.8,165.2 L480.9,165.8 L480.9,166.3 L481.0,168.7 L481.0,169.4 L481.1,169.7 L481.2,170.4 L481.2,172.4 L481.3,173.9 L481.3,174.6 L481.4,175.9 L481.5,177.1 L481.5,176.6 L481.6,177.7 L481.6,179.2 L481.7,179.6 L481.8,181.3 L481.8,182.9 L481.9,183.0 L481.9,184.9 L482.0,185.0 L482.1,187.0 L482.1,186.7 L482.2,187.8 L482.2,188.7 L482.3,190.5 L482.4,191.7 L482.5,191.7 L482.6,193.9 L482.7,194.5 L482.8,196.3 L482.8,196.5 L482.9,198.3 L483.0,199.1 L483.1,199.5 L483.2,201.2 L483.3,202.0 L483.4,203.0 L483.5,203.7 L483.6,204.3 L483.7,205.9 L483.8,207.0 L483.8,207.8 L483.9,209.8 L484.0,209.5 L484.1,211.7 L484.2,212.2 L484.3,213.1 L484.5,213.4 L484.7,215.3 L484.9,215.7 L485.1,217.2 L485.3,218.2 L485.6,219.7 L485.8,221.0 L486.0,220.6 L486.2,223.0 L486.4,224.1 L486.6,224.4 L486.7,224.8 L486.8,225.8 L486.9,227.4 L487.0,227.7 L487.1,228.9 L487.2,230.6 L487.3,231.1 L487.3,232.8 L487.4,233.2 L487.5,235.0 L487.6,236.0 L487.7,236.1 L487.8,238.1 L487.9,239.6 L488.0,239.9" fill="none" stroke="#1764b4" stroke-width="0.9" stroke-linejoin="round"/>
<path d="M390.1,242.0 L390.1,239.9 L390.1,239.3 L390.1,237.3 L390.1,236.9 L390.1,235.5 L390.1,234.5 L390.1,233.5 L390.1,232.0 L390.1,231.6 L390.1,230.0 L390.1,229.7 L390.1,227.9 L390.1,227.2 L390.9,226.6 L391.7,225.9 L392.4,224.6 L393.2,224.0 L394.0,223.7 L394.8,222.9 L395.5,222.0 L396.3,221.6 L396.9,220.4 L397.4,219.6 L398.0,219.4 L398.5,217.8 L399.1,217.6 L399.7,216.1 L400.2,216.0 L400.8,215.1 L401.3,214.3 L401.9,213.1 L402.1,212.0 L402.3,211.6 L402.5,210.1 L402.6,209.3 L402.8,208.5 L403.0,206.9 L403.2,205.8 L403.4,205.4 L403.6,204.0 L403.8,203.0 L404.0,202.3 L404.1,201.0 L404.3,200.1 L404.5,199.0 L404.7,198.0 L404.9,197.7 L405.1,196.7 L405.3,195.6 L405.5,194.4 L405.6,193.9 L405.8,192.5 L406.0,191.5 L406.2,190.5 L406.3,189.0 L406.5,188.3 L406.6,187.1 L406.7,186.6 L406.8,185.8 L407.0,184.5 L407.1,183.2 L407.2,182.7 L407.3,180.9 L407.5,180.6 L407.6,178.8 L407.7,178.7 L407.9,177.5 L408.0,176.7 L408.1,175.1 L408.2,174.3 L408.4,173.0 L408.5,172.3 L408.6,171.1 L408.7,170.0 L408.9,169.3 L409.0,168.0 L409.1,167.4 L409.3,165.7 L409.4,164.6 L409.6,164.3 L409.7,162.6 L409.9,161.6 L410.0,160.8 L410.2,159.5 L410.3,158.6 L410.5,157.4 L410.6,156.5 L410.8,155.8 L410.9,154.7 L411.1,153.8 L411.2,152.8 L411.4,151.1 L411.5,150.6 L411.7,149.4 L411.8,148.2 L412.2,147.3 L412.5,146.1 L412.9,145.5 L413.2,144.1 L413.6,143.4 L413.9,141.5 L414.2,140.7 L414.6,139.8 L415.1,140.4 L415.5,141.9 L416.0,142.6 L416.5,143.4 L416.9,144.3 L417.4,145.4 L418.0,144.5 L418.6,143.5 L419.1,142.9 L419.7,142.2 L420.3,141.2 L421.2,141.2 L422.2,141.9 L423.1,142.6 L423.4,143.7 L423.6,144.8 L423.9,145.8 L424.1,146.9 L424.4,147.7 L424.6,149.2 L424.9,150.1 L425.1,150.8 L425.4,151.9 L425.6,153.2 L425.9,153.9 L426.4,154.6 L426.8,155.5 L427.3,156.7 L427.8,157.6 L428.2,158.1 L428.7,159.5 L428.9,160.5 L429.0,161.9 L429.2,162.8 L429.4,163.5 L429.5,164.7 L429.7,165.3 L429.9,166.0 L430.0,167.8 L430.2,168.5 L430.3,169.6 L430.5,170.5 L430.7,171.9 L430.8,172.2 L431.0,173.5 L431.2,174.6 L431.3,175.6 L431.5,176.4 L431.6,177.8 L431.8,177.9 L431.9,179.7 L432.1,179.9 L432.2,181.2 L432.4,182.2 L432.5,183.6 L432.7,184.7 L432.8,185.4 L432.9,186.4 L433.1,187.5 L433.2,187.8 L433.4,189.1 L433.5,190.2 L433.7,190.8 L433.8,192.0 L434.0,193.0 L434.1,193.8 L434.3,194.9 L434.4,196.2 L434.5,197.1 L434.6,198.4 L434.7,199.6 L434.8,200.0 L434.9,201.5 L435.0,202.5 L435.1,202.9 L435.2,204.0 L435.3,205.6 L435.4,205.9 L435.5,207.4 L435.6,208.4 L435.7,209.6 L435.8,210.3 L436.2,209.5 L436.5,208.5 L436.9,206.7 L437.2,206.3 L437.6,205.4 L437.9,204.1 L438.2,203.3 L438.6,201.8 L439.0,200.3 L439.3,199.7 L439.6,199.1 L440.0,197.4 L440.4,196.4 L440.7,195.3 L441.0,194.3 L441.4,193.4 L441.9,192.4 L442.3,191.5 L442.8,190.3 L443.3,189.6 L443.7,189.1 L444.2,187.6 L444.7,186.5 L445.1,186.3 L445.6,184.9 L446.1,184.2 L446.6,183.3 L447.0,182.5 L447.5,181.6 L448.0,180.0 L448.5,178.8 L448.9,178.5 L449.4,177.5 L449.9,176.3 L450.4,175.9 L450.8,174.8 L451.3,173.6 L451.9,172.8 L452.4,172.0 L453.0,171.0 L453.5,169.9 L454.1,169.1 L454.7,168.7 L455.2,167.6 L455.8,166.8 L456.3,166.1 L456.9,165.1 L457.2,164.5 L457.5,162.7 L457.8,161.7 L458.1,161.3 L458.4,159.8 L458.7,159.1 L459.0,158.1 L459.4,157.2 L459.7,156.2 L460.0,154.9 L460.3,154.1 L460.6,153.4 L460.9,152.3 L461.2,151.0 L461.9,150.0 L462.6,149.4 L463.3,148.0 L464.0,147.7 L464.7,145.8 L465.4,145.4 L465.8,144.5 L466.2,143.8 L466.6,143.0 L467.0,141.7 L467.5,140.7 L467.9,139.8 L468.3,139.0 L468.7,137.7 L469.1,136.9 L469.3,138.0 L469.6,138.7 L469.8,139.5 L470.1,140.5 L470.3,141.6 L470.6,142.8 L470.8,143.6 L471.0,145.2 L471.3,146.2 L471.5,146.9 L471.8,147.7 L472.0,148.9 L472.3,150.4 L472.5,151.0 L472.7,152.3 L472.8,153.2 L473.0,153.9 L473.1,155.4 L473.3,156.1 L473.4,156.9 L473.6,158.5 L473.7,159.3 L473.9,159.7 L474.0,160.7 L474.2,162.1 L474.3,163.4 L474.5,164.1 L474.6,165.2 L474.8,165.8 L475.0,167.3 L475.1,168.1 L475.3,169.1 L475.4,169.9 L475.6,171.3 L475.7,172.6 L475.9,173.3 L476.0,174.4 L476.2,175.3 L476.3,176.5 L476.5,177.5 L476.6,177.8 L476.8,179.3 L476.9,180.8 L477.0,181.3 L477.2,181.8 L477.3,183.5 L477.4,184.5 L477.5,185.1 L477.6,186.4 L477.8,186.8 L477.9,188.5 L478.0,189.4 L478.1,190.5 L478.2,191.2 L478.4,192.6 L478.5,193.1 L478.6,193.7 L478.7,194.8 L478.9,196.0 L479.0,196.9 L479.1,197.9 L479.2,198.8 L479.3,200.3 L479.5,201.6 L479.6,202.6 L479.7,203.0 L479.8,204.2 L479.9,205.2 L480.1,206.2 L480.2,207.4 L480.3,208.1 L480.4,208.6 L480.5,209.9 L480.7,210.6 L480.8,212.3 L480.9,213.1 L481.0,214.6 L481.2,215.2 L481.3,216.4 L481.5,217.3 L481.6,218.8 L481.8,219.0 L481.9,220.4 L482.1,221.2 L482.2,222.4 L482.4,223.2 L482.5,224.8 L482.7,225.4 L482.8,226.3 L483.0,228.0 L483.1,228.2 L483.3,229.4 L483.4,231.2 L483.6,231.9 L483.7,232.8 L484.2,233.4 L484.8,234.2 L485.3,235.6 L485.9,236.7 L486.4,237.7 L486.9,238.6 L487.5,239.3 L488.0,239.9 L488.0,242.0 Z" fill="#6cc800" stroke="none"/>
<path d="M390.1,239.9 L390.1,239.3 L390.1,237.3 L390.1,236.9 L390.1,235.5 L390.1,234.5 L390.1,233.5 L390.1,232.0 L390.1,231.6 L390.1,230.0 L390.1,229.7 L390.1,227.9 L390.1,227.2 L390.9,226.6 L391.7,225.9 L392.4,224.6 L393.2,224.0 L394.0,223.7 L394.8,222.9 L395.5,222.0 L396.3,221.6 L396.9,220.4 L397.4,219.6 L398.0,219.4 L398.5,217.8 L399.1,217.6 L399.7,216.1 L400.2,216.0 L400.8,215.1 L401.3,214.3 L401.9,213.1 L402.1,212.0 L402.3,211.6 L402.5,210.1 L402.6,209.3 L402.8,208.5 L403.0,206.9 L403.2,205.8 L403.4,205.4 L403.6,204.0 L403.8,203.0 L404.0,202.3 L404.1,201.0 L404.3,200.1 L404.5,199.0 L404.7,198.0 L404.9,197.7 L405.1,196.7 L405.3,195.6 L405.5,194.4 L405.6,193.9 L405.8,192.5 L406.0,191.5 L406.2,190.5 L406.3,189.0 L406.5,188.3 L406.6,187.1 L406.7,186.6 L406.8,185.8 L407.0,184.5 L407.1,183.2 L407.2,182.7 L407.3,180.9 L407.5,180.6 L407.6,178.8 L407.7,178.7 L407.9,177.5 L408.0,176.7 L408.1,175.1 L408.2,174.3 L408.4,173.0 L408.5,172.3 L408.6,171.1 L408.7,170.0 L408.9,169.3 L409.0,168.0 L409.1,167.4 L409.3,165.7 L409.4,164.6 L409.6,164.3 L409.7,162.6 L409.9,161.6 L410.0,160.8 L410.2,159.5 L410.3,158.6 L410.5,157.4 L410.6,156.5 L410.8,155.8 L410.9,154.7 L411.1,153.8 L411.2,152.8 L411.4,151.1 L411.5,150.6 L411.7,149.4 L411.8,148.2 L412.2,147.3 L412.5,146.1 L412.9,145.5 L413.2,144.1 L413.6,143.4 L413.9,141.5 L414.2,140.7 L414.6,139.8 L415.1,140.4 L415.5,141.9 L416.0,142.6 L416.5,143.4 L416.9,144.3 L417.4,145.4 L418.0,144.5 L418.6,143.5 L419.1,142.9 L419.7,142.2 L420.3,141.2 L421.2,141.2 L422.2,141.9 L423.1,142.6 L423.4,143.7 L423.6,144.8 L423.9,145.8 L424.1,146.9 L424.4,147.7 L424.6,149.2 L424.9,150.1 L425.1,150.8 L425.4,151.9 L425.6,153.2 L425.9,153.9 L426.4,154.6 L426.8,155.5 L427.3,156.7 L427.8,157.6 L428.2,158.1 L428.7,159.5 L428.9,160.5 L429.0,161.9 L429.2,162.8 L429.4,163.5 L429.5,164.7 L429.7,165.3 L429.9,166.0 L430.0,167.8 L430.2,168.5 L430.3,169.6 L430.5,170.5 L430.7,171.9 L430.8,172.2 L431.0,173.5 L431.2,174.6 L431.3,175.6 L431.5,176.4 L431.6,177.8 L431.8,177.9 L431.9,179.7 L432.1,179.9 L432.2,181.2 L432.4,182.2 L432.5,183.6 L432.7,184.7 L432.8,185.4 L432.9,186.4 L433.1,187.5 L433.2,187.8 L433.4,189.1 L433.5,190.2 L433.7,190.8 L433.8,192.0 L434.0,193.0 L434.1,193.8 L434.3,194.9 L434.4,196.2 L434.5,197.1 L434.6,198.4 L434.7,199.6 L434.8,200.0 L434.9,201.5 L435.0,202.5 L435.1,202.9 L435.2,204.0 L435.3,205.6 L435.4,205.9 L435.5,207.4 L435.6,208.4 L435.7,209.6 L435.8,210.3 L436.2,209.5 L436.5,208.5 L436.9,206.7 L437.2,206.3 L437.6,205.4 L437.9,204.1 L438.2,203.3 L438.6,201.8 L439.0,200.3 L439.3,199.7 L439.6,199.1 L440.0,197.4 L440.4,196.4 L440.7,195.3 L441.0,194.3 L441.4,193.4 L441.9,192.4 L442.3,191.5 L442.8,190.3 L443.3,189.6 L443.7,189.1 L444.2,187.6 L444.7,186.5 L445.1,186.3 L445.6,184.9 L446.1,184.2 L446.6,183.3 L447.0,182.5 L447.5,181.6 L448.0,180.0 L448.5,178.8 L448.9,178.5 L449.4,177.5 L449.9,176.3 L450.4,175.9 L450.8,174.8 L451.3,173.6 L451.9,172.8 L452.4,172.0 L453.0,171.0 L453.5,169.9 L454.1,169.1 L454.7,168.7 L455.2,167.6 L455.8,166.8 L456.3,166.1 L456.9,165.1 L457.2,164.5 L457.5,162.7 L457.8,161.7 L458.1,161.3 L458.4,159.8 L458.7,159.1 L459.0,158.1 L459.4,157.2 L459.7,156.2 L460.0,154.9 L460.3,154.1 L460.6,153.4 L460.9,152.3 L461.2,151.0 L461.9,150.0 L462.6,149.4 L463.3,148.0 L464.0,147.7 L464.7,145.8 L465.4,145.4 L465.8,144.5 L466.2,143.8 L466.6,143.0 L467.0,141.7 L467.5,140.7 L467.9,139.8 L468.3,139.0 L468.7,137.7 L469.1,136.9 L469.3,138.0 L469.6,138.7 L469.8,139.5 L470.1,140.5 L470.3,141.6 L470.6,142.8 L470.8,143.6 L471.0,145.2 L471.3,146.2 L471.5,146.9 L471.8,147.7 L472.0,148.9 L472.3,150.4 L472.5,151.0 L472.7,152.3 L472.8,153.2 L473.0,153.9 L473.1,155.4 L473.3,156.1 L473.4,156.9 L473.6,158.5 L473.7,159.3 L473.9,159.7 L474.0,160.7 L474.2,162.1 L474.3,163.4 L474.5,164.1 L474.6,165.2 L474.8,165.8 L475.0,167.3 L475.1,168.1 L475.3,169.1 L475.4,169.9 L475.6,171.3 L475.7,172.6 L475.9,173.3 L476.0,174.4 L476.2,175.3 L476.3,176.5 L476.5,177.5 L476.6,177.8 L476.8,179.3 L476.9,180.8 L477.0,181.3 L477.2,181.8 L477.3,183.5 L477.4,184.5 L477.5,185.1 L477.6,186.4 L477.8,186.8 L477.9,188.5 L478.0,189.4 L478.1,190.5 L478.2,191.2 L478.4,192.6 L478.5,193.1 L478.6,193.7 L478.7,194.8 L478.9,196.0 L479.0,196.9 L479.1,197.9 L479.2,198.8 L479.3,200.3 L479.5,201.6 L479.6,202.6 L479.7,203.0 L479.8,204.2 L479.9,205.2 L480.1,206.2 L480.2,207.4 L480.3,208.1 L480.4,208.6 L480.5,209.9 L480.7,210.6 L480.8,212.3 L480.9,213.1 L481.0,214.6 L481.2,215.2 L481.3,216.4 L481.5,217.3 L481.6,218.8 L481.8,219.0 L481.9,220.4 L482.1,221.2 L482.2,222.4 L482.4,223.2 L482.5,224.8 L482.7,225.4 L482.8,226.3 L483.0,228.0 L483.1,228.2 L483.3,229.4 L483.4,231.2 L483.6,231.9 L483.7,232.8 L484.2,233.4 L484.8,234.2 L485.3,235.6 L485.9,236.7 L486.4,237.7 L486.9,238.6 L487.5,239.3 L488.0,239.9" fill="none" stroke="#0d4d1a" stroke-width="0.8" stroke-linejoin="round"/>
<path d="M390.0,242.0 L390.0,240.5 L391.0,239.9 L392.0,240.2 L393.0,239.7 L394.0,239.5 L395.0,238.9 L396.0,238.6 L397.0,238.8 L398.0,238.6 L399.0,238.1 L400.0,238.0 L400.9,238.0 L401.9,237.0 L402.8,237.3 L403.8,237.0 L404.7,236.0 L405.7,236.2 L406.6,235.7 L407.6,235.3 L408.5,234.9 L409.5,234.7 L410.4,234.3 L411.5,234.3 L412.6,233.9 L413.8,233.4 L414.9,233.1 L416.0,232.8 L417.1,232.7 L418.1,233.1 L419.2,233.4 L420.2,233.4 L421.3,233.4 L422.4,233.4 L423.4,234.0 L424.5,233.7 L425.4,234.4 L426.4,234.5 L427.3,235.1 L428.2,235.6 L429.2,235.6 L430.1,236.2 L431.1,236.7 L432.0,236.8 L433.0,237.6 L433.9,237.6 L434.9,238.5 L435.8,238.5 L436.8,238.4 L437.9,238.0 L438.9,237.8 L439.9,237.5 L440.9,237.0 L442.0,236.6 L443.0,236.7 L444.0,236.3 L445.0,236.2 L446.1,235.7 L447.1,235.7 L448.1,235.3 L449.1,235.8 L450.2,235.2 L451.2,235.4 L452.2,234.8 L453.2,234.6 L454.2,235.0 L455.2,234.6 L456.3,234.8 L457.3,234.0 L458.3,234.3 L459.3,233.9 L460.3,233.6 L461.2,232.9 L462.2,232.9 L463.2,232.1 L464.2,231.6 L465.2,231.3 L466.2,230.8 L467.1,230.7 L468.1,230.6 L469.1,230.0 L470.0,230.3 L470.9,231.0 L471.8,231.6 L472.7,232.1 L473.6,233.1 L474.5,233.7 L475.4,233.7 L476.3,234.7 L477.2,235.5 L478.1,235.7 L479.1,235.8 L480.1,236.6 L481.1,236.7 L482.1,237.4 L483.1,237.8 L484.1,238.5 L485.1,239.0 L486.1,239.3 L487.0,240.2 L488.0,240.5 L488.0,242.0 Z" fill="#f9a441" stroke="none"/>
<path d="M390.0,240.5 L391.0,239.9 L392.0,240.2 L393.0,239.7 L394.0,239.5 L395.0,238.9 L396.0,238.6 L397.0,238.8 L398.0,238.6 L399.0,238.1 L400.0,238.0 L400.9,238.0 L401.9,237.0 L402.8,237.3 L403.8,237.0 L404.7,236.0 L405.7,236.2 L406.6,235.7 L407.6,235.3 L408.5,234.9 L409.5,234.7 L410.4,234.3 L411.5,234.3 L412.6,233.9 L413.8,233.4 L414.9,233.1 L416.0,232.8 L417.1,232.7 L418.1,233.1 L419.2,233.4 L420.2,233.4 L421.3,233.4 L422.4,233.4 L423.4,234.0 L424.5,233.7 L425.4,234.4 L426.4,234.5 L427.3,235.1 L428.2,235.6 L429.2,235.6 L430.1,236.2 L431.1,236.7 L432.0,236.8 L433.0,237.6 L433.9,237.6 L434.9,238.5 L435.8,238.5 L436.8,238.4 L437.9,238.0 L438.9,237.8 L439.9,237.5 L440.9,237.0 L442.0,236.6 L443.0,236.7 L444.0,236.3 L445.0,236.2 L446.1,235.7 L447.1,235.7 L448.1,235.3 L449.1,235.8 L450.2,235.2 L451.2,235.4 L452.2,234.8 L453.2,234.6 L454.2,235.0 L455.2,234.6 L456.3,234.8 L457.3,234.0 L458.3,234.3 L459.3,233.9 L460.3,233.6 L461.2,232.9 L462.2,232.9 L463.2,232.1 L464.2,231.6 L465.2,231.3 L466.2,230.8 L467.1,230.7 L468.1,230.6 L469.1,230.0 L470.0,230.3 L470.9,231.0 L471.8,231.6 L472.7,232.1 L473.6,233.1 L474.5,233.7 L475.4,233.7 L476.3,234.7 L477.2,235.5 L478.1,235.7 L479.1,235.8 L480.1,236.6 L481.1,236.7 L482.1,237.4 L483.1,237.8 L484.1,238.5 L485.1,239.0 L486.1,239.3 L487.0,240.2 L488.0,240.5" fill="none" stroke="#e0802a" stroke-width="0.6" stroke-linejoin="round"/>
<path d="M390.0,242.0 L390.0,241.6 L420.0,240.6 L436.0,241.3 L470.0,240.2 L488.0,241.6 L488.0,242.0 Z" fill="#e04a2a" stroke="none"/>
<path d="M390.0,241.6 L420.0,240.6 L436.0,241.3 L470.0,240.2 L488.0,241.6" fill="none" stroke="#c0301a" stroke-width="0.5" stroke-linejoin="round"/>
<path d="M504.2,242.0 L504.2,239.6 L505.2,239.3 L506.2,238.7 L507.3,239.4 L508.3,239.2 L509.3,239.6 L510.3,239.5 L511.4,238.5 L512.4,238.7 L513.4,238.8 L514.4,238.4 L515.3,238.0 L516.3,236.6 L517.3,235.7 L518.1,235.1 L518.9,233.8 L519.7,233.2 L520.5,232.2 L521.3,231.7 L522.1,231.0 L522.9,230.0 L523.6,229.4 L524.4,228.2 L525.2,228.3 L526.0,226.7 L526.8,227.2 L527.6,225.4 L528.4,225.6 L529.2,223.9 L530.2,223.1 L531.2,223.0 L532.1,223.5 L533.1,222.5 L534.0,221.5 L534.8,221.1 L535.7,219.9 L536.1,219.3 L536.5,217.6 L536.9,216.3 L537.2,214.9 L537.6,215.3 L538.0,213.8 L538.4,212.6 L539.0,213.9 L539.7,215.1 L540.4,215.8 L541.0,216.0 L541.5,217.2 L542.0,217.4 L542.6,219.3 L543.1,220.1 L543.6,221.2 L544.5,221.4 L545.3,222.2 L546.2,223.9 L547.5,224.3 L548.9,225.2 L549.0,226.0 L549.1,227.9 L549.2,229.1 L549.3,230.0 L549.4,230.0 L549.5,232.0 L549.5,232.2 L549.6,233.2 L549.7,234.6 L549.8,234.7 L549.9,236.8 L550.0,236.8 L550.1,238.7 L550.2,239.6 L550.2,241.0 L550.2,242.0 Z" fill="#a6d3fa" stroke="none"/>
<path d="M504.2,239.6 L505.2,239.3 L506.2,238.7 L507.3,239.4 L508.3,239.2 L509.3,239.6 L510.3,239.5 L511.4,238.5 L512.4,238.7 L513.4,238.8 L514.4,238.4 L515.3,238.0 L516.3,236.6 L517.3,235.7 L518.1,235.1 L518.9,233.8 L519.7,233.2 L520.5,232.2 L521.3,231.7 L522.1,231.0 L522.9,230.0 L523.6,229.4 L524.4,228.2 L525.2,228.3 L526.0,226.7 L526.8,227.2 L527.6,225.4 L528.4,225.6 L529.2,223.9 L530.2,223.1 L531.2,223.0 L532.1,223.5 L533.1,222.5 L534.0,221.5 L534.8,221.1 L535.7,219.9 L536.1,219.3 L536.5,217.6 L536.9,216.3 L537.2,214.9 L537.6,215.3 L538.0,213.8 L538.4,212.6 L539.0,213.9 L539.7,215.1 L540.4,215.8 L541.0,216.0 L541.5,217.2 L542.0,217.4 L542.6,219.3 L543.1,220.1 L543.6,221.2 L544.5,221.4 L545.3,222.2 L546.2,223.9 L547.5,224.3 L548.9,225.2 L549.0,226.0 L549.1,227.9 L549.2,229.1 L549.3,230.0 L549.4,230.0 L549.5,232.0 L549.5,232.2 L549.6,233.2 L549.7,234.6 L549.8,234.7 L549.9,236.8 L550.0,236.8 L550.1,238.7 L550.2,239.6 L550.2,241.0" fill="none" stroke="#1764b4" stroke-width="0.9" stroke-linejoin="round"/>
<path d="M513.4,242.0 L513.4,240.5 L514.4,240.5 L515.5,239.8 L516.5,240.1 L517.6,239.8 L518.6,239.5 L519.7,239.7 L520.8,239.2 L521.8,238.9 L522.9,238.9 L523.9,238.8 L525.0,238.4 L526.1,238.5 L527.2,237.7 L528.3,237.5 L529.4,237.5 L530.5,237.0 L531.4,236.4 L532.2,235.8 L533.1,235.1 L534.0,234.7 L534.8,234.4 L535.7,233.8 L536.7,233.6 L537.7,233.4 L538.7,232.7 L539.7,232.3 L540.7,232.8 L541.7,233.6 L542.6,233.8 L543.6,234.4 L544.7,234.6 L545.7,235.4 L546.8,235.9 L547.8,235.9 L548.9,236.5 L549.2,237.9 L549.5,238.4 L549.9,239.6 L550.2,241.0 L550.2,242.0 Z" fill="#f9a441" stroke="none"/>
<path d="M513.4,240.5 L514.4,240.5 L515.5,239.8 L516.5,240.1 L517.6,239.8 L518.6,239.5 L519.7,239.7 L520.8,239.2 L521.8,238.9 L522.9,238.9 L523.9,238.8 L525.0,238.4 L526.1,238.5 L527.2,237.7 L528.3,237.5 L529.4,237.5 L530.5,237.0 L531.4,236.4 L532.2,235.8 L533.1,235.1 L534.0,234.7 L534.8,234.4 L535.7,233.8 L536.7,233.6 L537.7,233.4 L538.7,232.7 L539.7,232.3 L540.7,232.8 L541.7,233.6 L542.6,233.8 L543.6,234.4 L544.7,234.6 L545.7,235.4 L546.8,235.9 L547.8,235.9 L548.9,236.5 L549.2,237.9 L549.5,238.4 L549.9,239.6 L550.2,241.0" fill="none" stroke="#e0802a" stroke-width="0.6" stroke-linejoin="round"/>
<path d="M565.9,242.0 L565.9,241.0 L565.9,239.7 L565.9,239.4 L565.9,237.6 L565.9,236.2 L565.9,234.9 L565.9,234.2 L565.9,233.1 L566.9,232.5 L567.9,231.9 L568.9,231.7 L569.9,230.4 L570.7,229.0 L571.5,229.2 L572.2,228.8 L573.0,227.5 L573.8,226.5 L574.4,225.9 L574.9,225.1 L575.5,224.3 L576.1,222.4 L576.7,221.7 L577.2,221.4 L577.8,219.9 L578.4,218.4 L578.9,218.0 L579.5,217.9 L580.0,216.0 L580.6,215.1 L581.1,214.2 L581.7,213.4 L582.4,212.5 L583.0,212.1 L583.7,210.1 L584.3,209.8 L585.0,208.9 L585.6,208.1 L586.0,207.8 L586.4,206.6 L586.7,204.6 L587.1,203.6 L587.5,202.8 L587.9,204.7 L588.3,204.1 L588.8,206.3 L589.2,206.2 L589.6,208.1 L590.1,206.7 L590.6,206.2 L591.2,205.2 L591.7,204.1 L592.2,202.8 L593.0,201.6 L593.8,201.1 L594.6,201.1 L595.4,199.3 L596.2,198.9 L596.9,198.0 L597.5,197.0 L598.1,196.6 L598.8,195.0 L599.3,194.5 L599.8,193.4 L600.4,191.5 L600.9,191.2 L601.4,189.7 L602.0,189.2 L602.6,186.7 L603.2,186.3 L603.8,187.5 L604.3,187.9 L604.9,188.7 L605.4,189.7 L605.8,190.9 L606.1,192.1 L606.5,193.2 L606.9,194.0 L607.3,195.1 L607.6,196.0 L608.0,196.3 L608.4,197.2 L608.7,198.5 L609.1,199.8 L609.5,200.2 L609.9,200.2 L610.2,201.7 L610.6,202.8 L610.9,204.1 L611.2,204.0 L611.5,205.2 L611.8,207.5 L612.0,208.2 L612.3,208.1 L612.6,210.4 L612.9,211.2 L613.2,212.0 L613.6,212.7 L614.0,214.1 L614.4,214.1 L614.7,215.2 L615.1,217.0 L615.5,218.0 L615.9,218.6 L616.8,218.2 L617.6,217.3 L618.5,216.8 L619.5,215.8 L620.5,215.1 L621.4,216.0 L622.4,214.7 L623.4,213.7 L624.4,213.2 L625.4,212.7 L626.4,212.0 L627.2,210.4 L628.0,210.1 L628.7,209.1 L629.5,208.2 L630.3,208.1 L631.3,208.4 L632.3,206.6 L633.3,206.4 L634.3,206.3 L635.3,206.7 L636.2,208.3 L637.2,209.2 L638.2,209.4 L639.0,210.4 L639.8,211.2 L640.5,212.0 L641.3,211.8 L642.1,213.4 L643.1,214.3 L644.1,215.5 L645.1,216.0 L646.1,216.0 L646.7,217.6 L647.2,217.2 L647.8,219.1 L648.3,220.6 L648.9,220.2 L649.4,221.2 L650.0,222.5 L650.7,224.2 L651.3,223.8 L652.0,224.6 L652.7,226.3 L653.3,226.6 L654.0,227.8 L654.6,229.0 L655.1,229.3 L655.7,230.2 L656.2,231.7 L656.8,232.4 L657.3,233.7 L657.9,234.4 L658.4,235.5 L658.9,236.0 L659.5,237.0 L660.0,237.8 L660.5,239.6 L661.0,241.0 L661.0,242.0 Z" fill="#a6d3fa" stroke="none"/>
<path d="M565.9,241.0 L565.9,239.7 L565.9,239.4 L565.9,237.6 L565.9,236.2 L565.9,234.9 L565.9,234.2 L565.9,233.1 L566.9,232.5 L567.9,231.9 L568.9,231.7 L569.9,230.4 L570.7,229.0 L571.5,229.2 L572.2,228.8 L573.0,227.5 L573.8,226.5 L574.4,225.9 L574.9,225.1 L575.5,224.3 L576.1,222.4 L576.7,221.7 L577.2,221.4 L577.8,219.9 L578.4,218.4 L578.9,218.0 L579.5,217.9 L580.0,216.0 L580.6,215.1 L581.1,214.2 L581.7,213.4 L582.4,212.5 L583.0,212.1 L583.7,210.1 L584.3,209.8 L585.0,208.9 L585.6,208.1 L586.0,207.8 L586.4,206.6 L586.7,204.6 L587.1,203.6 L587.5,202.8 L587.9,204.7 L588.3,204.1 L588.8,206.3 L589.2,206.2 L589.6,208.1 L590.1,206.7 L590.6,206.2 L591.2,205.2 L591.7,204.1 L592.2,202.8 L593.0,201.6 L593.8,201.1 L594.6,201.1 L595.4,199.3 L596.2,198.9 L596.9,198.0 L597.5,197.0 L598.1,196.6 L598.8,195.0 L599.3,194.5 L599.8,193.4 L600.4,191.5 L600.9,191.2 L601.4,189.7 L602.0,189.2 L602.6,186.7 L603.2,186.3 L603.8,187.5 L604.3,187.9 L604.9,188.7 L605.4,189.7 L605.8,190.9 L606.1,192.1 L606.5,193.2 L606.9,194.0 L607.3,195.1 L607.6,196.0 L608.0,196.3 L608.4,197.2 L608.7,198.5 L609.1,199.8 L609.5,200.2 L609.9,200.2 L610.2,201.7 L610.6,202.8 L610.9,204.1 L611.2,204.0 L611.5,205.2 L611.8,207.5 L612.0,208.2 L612.3,208.1 L612.6,210.4 L612.9,211.2 L613.2,212.0 L613.6,212.7 L614.0,214.1 L614.4,214.1 L614.7,215.2 L615.1,217.0 L615.5,218.0 L615.9,218.6 L616.8,218.2 L617.6,217.3 L618.5,216.8 L619.5,215.8 L620.5,215.1 L621.4,216.0 L622.4,214.7 L623.4,213.7 L624.4,213.2 L625.4,212.7 L626.4,212.0 L627.2,210.4 L628.0,210.1 L628.7,209.1 L629.5,208.2 L630.3,208.1 L631.3,208.4 L632.3,206.6 L633.3,206.4 L634.3,206.3 L635.3,206.7 L636.2,208.3 L637.2,209.2 L638.2,209.4 L639.0,210.4 L639.8,211.2 L640.5,212.0 L641.3,211.8 L642.1,213.4 L643.1,214.3 L644.1,215.5 L645.1,216.0 L646.1,216.0 L646.7,217.6 L647.2,217.2 L647.8,219.1 L648.3,220.6 L648.9,220.2 L649.4,221.2 L650.0,222.5 L650.7,224.2 L651.3,223.8 L652.0,224.6 L652.7,226.3 L653.3,226.6 L654.0,227.8 L654.6,229.0 L655.1,229.3 L655.7,230.2 L656.2,231.7 L656.8,232.4 L657.3,233.7 L657.9,234.4 L658.4,235.5 L658.9,236.0 L659.5,237.0 L660.0,237.8 L660.5,239.6 L661.0,241.0" fill="none" stroke="#1764b4" stroke-width="0.9" stroke-linejoin="round"/>
<path d="M565.9,242.0 L565.9,241.0 L565.9,239.5 L565.9,238.8 L566.8,238.5 L567.7,237.6 L568.5,236.8 L569.4,236.3 L570.3,236.6 L571.2,235.7 L572.0,235.1 L572.7,233.9 L573.5,233.7 L574.2,233.1 L575.0,231.5 L575.7,230.8 L576.5,230.4 L577.5,230.5 L578.6,230.5 L579.6,229.9 L580.7,230.0 L581.7,229.9 L582.8,229.8 L583.8,230.0 L584.9,230.5 L585.9,230.4 L587.0,230.4 L587.5,231.5 L588.0,232.7 L588.6,233.7 L589.1,234.4 L589.6,235.2 L590.9,234.5 L592.2,234.5 L593.5,234.4 L594.3,234.1 L595.1,232.8 L595.9,231.5 L596.7,231.4 L597.5,230.4 L598.1,229.6 L598.8,228.9 L599.5,227.9 L600.1,226.7 L600.8,225.9 L601.4,225.2 L601.7,223.7 L602.0,222.9 L602.3,221.9 L602.6,220.4 L602.9,219.3 L603.2,218.6 L604.4,219.3 L605.5,219.9 L606.7,220.4 L607.5,221.4 L608.3,221.8 L609.0,222.1 L609.8,223.2 L610.6,223.9 L611.1,224.7 L611.6,226.4 L612.2,226.7 L612.7,228.4 L613.2,229.1 L613.9,230.1 L614.5,230.7 L615.2,231.8 L615.9,232.2 L616.5,233.3 L617.2,234.4 L618.3,234.7 L619.4,234.2 L620.5,234.9 L621.5,235.3 L622.6,235.5 L623.7,235.2 L624.7,235.2 L625.7,235.0 L626.7,234.2 L627.7,234.0 L628.6,233.6 L629.6,233.2 L630.6,232.9 L631.6,233.1 L632.7,232.9 L633.8,233.3 L634.9,233.6 L636.0,233.8 L637.1,234.2 L638.2,234.4 L639.2,235.0 L640.2,234.8 L641.3,235.2 L642.3,235.9 L643.3,235.8 L644.3,236.4 L645.4,236.9 L646.4,237.1 L647.4,237.0 L648.4,237.0 L649.5,237.9 L650.5,238.2 L651.6,237.8 L652.6,237.9 L653.7,238.8 L654.8,239.0 L655.8,238.8 L656.9,239.8 L657.9,239.6 L658.9,240.0 L660.0,241.0 L661.0,241.0 L661.0,242.0 Z" fill="#6cc800" stroke="none"/>
<path d="M565.9,241.0 L565.9,239.5 L565.9,238.8 L566.8,238.5 L567.7,237.6 L568.5,236.8 L569.4,236.3 L570.3,236.6 L571.2,235.7 L572.0,235.1 L572.7,233.9 L573.5,233.7 L574.2,233.1 L575.0,231.5 L575.7,230.8 L576.5,230.4 L577.5,230.5 L578.6,230.5 L579.6,229.9 L580.7,230.0 L581.7,229.9 L582.8,229.8 L583.8,230.0 L584.9,230.5 L585.9,230.4 L587.0,230.4 L587.5,231.5 L588.0,232.7 L588.6,233.7 L589.1,234.4 L589.6,235.2 L590.9,234.5 L592.2,234.5 L593.5,234.4 L594.3,234.1 L595.1,232.8 L595.9,231.5 L596.7,231.4 L597.5,230.4 L598.1,229.6 L598.8,228.9 L599.5,227.9 L600.1,226.7 L600.8,225.9 L601.4,225.2 L601.7,223.7 L602.0,222.9 L602.3,221.9 L602.6,220.4 L602.9,219.3 L603.2,218.6 L604.4,219.3 L605.5,219.9 L606.7,220.4 L607.5,221.4 L608.3,221.8 L609.0,222.1 L609.8,223.2 L610.6,223.9 L611.1,224.7 L611.6,226.4 L612.2,226.7 L612.7,228.4 L613.2,229.1 L613.9,230.1 L614.5,230.7 L615.2,231.8 L615.9,232.2 L616.5,233.3 L617.2,234.4 L618.3,234.7 L619.4,234.2 L620.5,234.9 L621.5,235.3 L622.6,235.5 L623.7,235.2 L624.7,235.2 L625.7,235.0 L626.7,234.2 L627.7,234.0 L628.6,233.6 L629.6,233.2 L630.6,232.9 L631.6,233.1 L632.7,232.9 L633.8,233.3 L634.9,233.6 L636.0,233.8 L637.1,234.2 L638.2,234.4 L639.2,235.0 L640.2,234.8 L641.3,235.2 L642.3,235.9 L643.3,235.8 L644.3,236.4 L645.4,236.9 L646.4,237.1 L647.4,237.0 L648.4,237.0 L649.5,237.9 L650.5,238.2 L651.6,237.8 L652.6,237.9 L653.7,238.8 L654.8,239.0 L655.8,238.8 L656.9,239.8 L657.9,239.6 L658.9,240.0 L660.0,241.0 L661.0,241.0" fill="none" stroke="#0d4d1a" stroke-width="0.8" stroke-linejoin="round"/>
<path d="M565.9,242.0 L565.9,241.0 L566.9,241.0 L568.0,241.1 L569.0,240.6 L570.0,241.0 L571.1,240.7 L572.1,240.5 L573.1,240.6 L574.2,240.7 L575.2,240.9 L576.2,240.7 L577.3,240.8 L578.3,240.6 L579.3,240.2 L580.3,240.0 L581.4,240.6 L582.4,240.1 L583.4,240.5 L584.5,240.2 L585.5,240.3 L586.5,240.1 L587.6,239.7 L588.6,239.9 L589.6,240.0 L590.7,239.5 L591.7,239.6 L592.7,239.9 L593.8,239.4 L594.8,239.6 L595.8,239.0 L596.8,239.1 L597.8,239.1 L598.8,238.8 L599.7,238.8 L600.7,238.4 L601.7,238.4 L602.7,238.3 L603.7,238.8 L604.7,238.9 L605.7,239.0 L606.7,238.9 L607.6,239.2 L608.6,239.5 L609.6,239.2 L610.6,239.6 L611.6,239.5 L612.6,239.3 L613.6,239.5 L614.6,239.4 L615.6,239.7 L616.6,239.4 L617.6,239.7 L618.6,239.6 L619.6,239.6 L620.6,239.4 L621.6,239.4 L622.6,239.2 L623.6,239.6 L624.6,239.3 L625.6,239.3 L626.6,239.8 L627.6,239.4 L628.6,239.1 L629.6,239.5 L630.6,239.3 L631.6,239.4 L632.6,239.4 L633.6,239.6 L634.6,239.6 L635.7,239.9 L636.7,239.5 L637.7,240.0 L638.7,240.1 L639.7,239.6 L640.7,239.5 L641.7,239.7 L642.8,240.0 L643.8,240.4 L644.8,240.1 L645.8,240.0 L646.8,240.3 L647.8,240.5 L648.8,240.7 L649.8,240.4 L650.9,240.2 L651.9,240.5 L652.9,240.6 L653.9,240.4 L654.9,240.3 L655.9,241.0 L656.9,240.6 L658.0,241.1 L659.0,240.9 L660.0,240.5 L661.0,241.0 L661.0,242.0 Z" fill="#f9a441" stroke="none"/>
<path d="M565.9,241.0 L566.9,241.0 L568.0,241.1 L569.0,240.6 L570.0,241.0 L571.1,240.7 L572.1,240.5 L573.1,240.6 L574.2,240.7 L575.2,240.9 L576.2,240.7 L577.3,240.8 L578.3,240.6 L579.3,240.2 L580.3,240.0 L581.4,240.6 L582.4,240.1 L583.4,240.5 L584.5,240.2 L585.5,240.3 L586.5,240.1 L587.6,239.7 L588.6,239.9 L589.6,240.0 L590.7,239.5 L591.7,239.6 L592.7,239.9 L593.8,239.4 L594.8,239.6 L595.8,239.0 L596.8,239.1 L597.8,239.1 L598.8,238.8 L599.7,238.8 L600.7,238.4 L601.7,238.4 L602.7,238.3 L603.7,238.8 L604.7,238.9 L605.7,239.0 L606.7,238.9 L607.6,239.2 L608.6,239.5 L609.6,239.2 L610.6,239.6 L611.6,239.5 L612.6,239.3 L613.6,239.5 L614.6,239.4 L615.6,239.7 L616.6,239.4 L617.6,239.7 L618.6,239.6 L619.6,239.6 L620.6,239.4 L621.6,239.4 L622.6,239.2 L623.6,239.6 L624.6,239.3 L625.6,239.3 L626.6,239.8 L627.6,239.4 L628.6,239.1 L629.6,239.5 L630.6,239.3 L631.6,239.4 L632.6,239.4 L633.6,239.6 L634.6,239.6 L635.7,239.9 L636.7,239.5 L637.7,240.0 L638.7,240.1 L639.7,239.6 L640.7,239.5 L641.7,239.7 L642.8,240.0 L643.8,240.4 L644.8,240.1 L645.8,240.0 L646.8,240.3 L647.8,240.5 L648.8,240.7 L649.8,240.4 L650.9,240.2 L651.9,240.5 L652.9,240.6 L653.9,240.4 L654.9,240.3 L655.9,241.0 L656.9,240.6 L658.0,241.1 L659.0,240.9 L660.0,240.5 L661.0,241.0" fill="none" stroke="#e0802a" stroke-width="0.6" stroke-linejoin="round"/>
</g>
<path d="M488,241.2 L504.2,241 M550.2,241.2 L565.9,241" stroke="#1a5a2a" stroke-width="0.8" fill="none"/>
<line x1="384.7" y1="242" x2="390" y2="242" stroke="#e0802a" stroke-width="0.8"/>
<line x1="661" y1="241.8" x2="676" y2="241.8" stroke="#c8c8c8" stroke-width="0.8"/>
<line x1="389.8" y1="145.5" x2="389.8" y2="219.5" stroke="#ee3b30" stroke-width="1.1"/>
<path d="M387.6,219.5 L392.0,219.5 L389.8,224.5 Z" fill="#fff" stroke="#bbb" stroke-width="0.4"/>
<line x1="504.5" y1="145.5" x2="504.5" y2="234" stroke="#ee3b30" stroke-width="1.1"/>
<path d="M502.3,234 L506.7,234 L504.5,239 Z" fill="#fff" stroke="#bbb" stroke-width="0.4"/>
<line x1="566" y1="145.5" x2="566" y2="232.5" stroke="#ee3b30" stroke-width="1.1"/>
<path d="M563.8,232.5 L568.2,232.5 L566,237.5 Z" fill="#fff" stroke="#bbb" stroke-width="0.4"/>
<line x1="383.5" y1="254.9" x2="684" y2="254.9" stroke="#333" stroke-width="1"/>
<path d="M386.0,259.2 L389.0,250.1 M387.1,259.2 L390.5,250.1" stroke="#000" stroke-width="1.25" stroke-linecap="round"/>
<path d="M675.8,259.2 L678.8,250.1 M676.9,259.2 L680.3,250.1" stroke="#000" stroke-width="1.25" stroke-linecap="round"/>
<rect x="394" y="249.9" width="93.6" height="9.6" fill="#dcdcdc"/>
<rect x="500" y="247.5" width="53.2" height="14.8" fill="#b4b4b4"/>
<rect x="563.4" y="249.4" width="103.1" height="10.6" fill="#dcdcdc"/>
<text x="440" y="257.8" font-size="8.0" font-weight="bold" fill="#000" text-anchor="middle" textLength="12" lengthAdjust="spacingAndGlyphs">EP1</text>
<text x="526.6" y="257.9" font-size="8.1" font-weight="bold" font-style="italic" fill="#000" text-anchor="middle" textLength="51.5" lengthAdjust="spacingAndGlyphs">TbIncRNA-23</text>
<text x="614" y="257.8" font-size="8.0" font-weight="bold" fill="#000" text-anchor="middle" textLength="12.2" lengthAdjust="spacingAndGlyphs">EP2</text>
<text x="527.5" y="276.1" font-size="9.2" font-weight="bold" fill="#000" text-anchor="middle" textLength="70.3" lengthAdjust="spacingAndGlyphs">chromosome 10</text>
<text x="3.0" y="302.3" font-size="19.4" font-weight="bold" fill="#000">B</text>
<text x="29.8" y="323.4" font-size="6.8" font-weight="bold" fill="#d42a1e">Slender</text>
<text x="29.8" y="330.83" font-size="6.8" font-weight="bold" fill="#8a1c1c">Stumpy</text>
<text x="29.8" y="338.26" font-size="6.8" font-weight="bold" fill="#55b4f8">MG-D28</text>
<text x="29.8" y="345.69" font-size="6.8" font-weight="bold" fill="#1f6ec2">MG-D15</text>
<text x="29.8" y="353.12" font-size="6.8" font-weight="bold" fill="#18477f">MG-D7</text>
<text x="29.8" y="360.54999999999995" font-size="6.8" font-weight="bold" fill="#f89a1c">PV-D28</text>
<text x="29.8" y="367.97999999999996" font-size="6.8" font-weight="bold" fill="#238b23">SG-D28</text>
<text x="271.8" y="396.7" font-size="6.8" font-weight="bold" fill="#d42a1e">Slender</text>
<text x="271.8" y="404.13" font-size="6.8" font-weight="bold" fill="#8a1c1c">Stumpy</text>
<text x="271.8" y="411.56" font-size="6.8" font-weight="bold" fill="#55b4f8">MG-D28</text>
<text x="271.8" y="418.99" font-size="6.8" font-weight="bold" fill="#1f6ec2">MG-D15</text>
<text x="271.8" y="426.41999999999996" font-size="6.8" font-weight="bold" fill="#18477f">MG-D7</text>
<text x="271.8" y="433.84999999999997" font-size="6.8" font-weight="bold" fill="#f89a1c">PV-D28</text>
<text x="271.8" y="441.28" font-size="6.8" font-weight="bold" fill="#238b23">SG-D28</text>
<line x1="25.6" y1="319" x2="25.6" y2="567" stroke="#c8c8c8" stroke-width="0.8"/>
<line x1="25.6" y1="567" x2="243" y2="567" stroke="#c8c8c8" stroke-width="0.8"/>
<text x="22.5" y="568.3" font-size="3.6" font-weight="bold" fill="#000" text-anchor="end">0</text>
<text x="22.5" y="543.5" font-size="3.6" font-weight="bold" fill="#000" text-anchor="end">5</text>
<text x="22.5" y="518.6999999999999" font-size="3.6" font-weight="bold" fill="#000" text-anchor="end">10</text>
<text x="22.5" y="493.90000000000003" font-size="3.6" font-weight="bold" fill="#000" text-anchor="end">15</text>
<text x="22.5" y="469.1" font-size="3.6" font-weight="bold" fill="#000" text-anchor="end">20</text>
<text x="22.5" y="444.3" font-size="3.6" font-weight="bold" fill="#000" text-anchor="end">25</text>
<text x="22.5" y="419.5" font-size="3.6" font-weight="bold" fill="#000" text-anchor="end">30</text>
<text x="22.5" y="394.7" font-size="3.6" font-weight="bold" fill="#000" text-anchor="end">35</text>
<text x="22.5" y="369.90000000000003" font-size="3.6" font-weight="bold" fill="#000" text-anchor="end">40</text>
<text x="22.5" y="345.09999999999997" font-size="3.6" font-weight="bold" fill="#000" text-anchor="end">45</text>
<text x="22.5" y="320.3" font-size="3.6" font-weight="bold" fill="#000" text-anchor="end">50</text>
<text x="14.3" y="478.8" font-size="10.0" font-weight="bold" fill="#000" text-anchor="middle" textLength="93" lengthAdjust="spacingAndGlyphs" transform="rotate(-90 14.3 478.8)">Reads per million</text>
<line x1="266.3" y1="394" x2="266.3" y2="567" stroke="#c8c8c8" stroke-width="0.8"/>
<line x1="266.3" y1="566.5" x2="445" y2="566.5" stroke="#c8c8c8" stroke-width="0.8"/>
<text x="263.5" y="568.3" font-size="3.6" font-weight="bold" fill="#000" text-anchor="end">0</text>
<text x="263.5" y="543.5999999999999" font-size="3.6" font-weight="bold" fill="#000" text-anchor="end">5</text>
<text x="263.5" y="518.9" font-size="3.6" font-weight="bold" fill="#000" text-anchor="end">10</text>
<text x="263.5" y="494.2" font-size="3.6" font-weight="bold" fill="#000" text-anchor="end">15</text>
<text x="263.5" y="469.5" font-size="3.6" font-weight="bold" fill="#000" text-anchor="end">20</text>
<text x="263.5" y="444.8" font-size="3.6" font-weight="bold" fill="#000" text-anchor="end">25</text>
<text x="263.5" y="420.1" font-size="3.6" font-weight="bold" fill="#000" text-anchor="end">30</text>
<text x="263.5" y="395.40000000000003" font-size="3.6" font-weight="bold" fill="#000" text-anchor="end">35</text>
<text x="253.4" y="476.1" font-size="10.0" font-weight="bold" fill="#000" text-anchor="middle" textLength="93" lengthAdjust="spacingAndGlyphs" transform="rotate(-90 253.4 476.1)">Reads per million</text>
<clipPath id="cpBL"><rect x="26" y="300" width="205" height="268"/></clipPath>
<g clip-path="url(#cpBL)">
<path d="M41.0,566.3 L42.2,566.3 L42.2,566.4 L43.5,566.4 L43.5,566.4 L44.7,566.4 L44.7,566.4 L45.9,566.4 L45.9,566.5 L47.1,566.5 L47.1,566.3 L48.4,566.3 L48.4,566.4 L49.6,566.4 L49.6,566.0 L49.6,562.0 L50.9,562.0 L50.9,561.3 L52.2,561.3 L52.2,561.4 L53.5,561.4 L53.5,561.5 L54.7,561.5 L54.7,561.0 L56.0,561.0 L56.0,560.9 L57.3,560.9 L57.3,559.9 L58.6,559.9 L58.6,559.9 L59.9,559.9 L59.9,559.4 L61.1,559.4 L61.1,559.4 L62.4,559.4 L62.4,559.1 L63.7,559.1 L63.7,558.4 L65.0,558.4 L65.0,558.5 L66.2,558.5 L66.2,558.1 L67.5,558.1 L67.5,558.0 L68.8,558.0 L68.8,558.4 L70.0,558.4 L70.0,558.2 L71.2,558.2 L71.2,557.5 L72.5,557.5 L72.5,557.9 L73.8,557.9 L73.8,557.2 L75.0,557.2 L75.0,557.5 L76.2,557.5 L76.2,556.9 L77.5,556.9 L77.5,556.6 L78.8,556.6 L78.8,557.3 L80.0,557.3 L80.0,556.8 L81.4,556.8 L81.4,556.3 L82.8,556.3 L82.8,556.1 L84.2,556.1 L84.2,556.6 L85.6,556.6 L85.6,556.3 L87.0,556.3 L87.0,555.7 L88.3,555.7 L88.3,555.6 L89.7,555.6 L89.7,556.4 L91.0,556.4 L91.0,556.1 L92.3,556.1 L92.3,556.4 L93.7,556.4 L93.7,556.1 L95.0,556.1 L95.0,556.5 L96.2,556.5 L96.2,556.5 L97.5,556.5 L97.5,555.9 L98.8,555.9 L98.8,555.8 L100.0,555.8 L100.0,555.0 L101.2,555.0 L101.2,555.6 L102.5,555.6 L102.5,555.3 L103.8,555.3 L103.8,555.6 L105.0,555.6 L105.0,555.7 L106.2,555.7 L106.2,555.9 L107.5,555.9 L107.5,556.1 L108.8,556.1 L108.8,556.6 L110.0,556.6 L110.0,557.0 L111.2,557.0 L111.2,557.2 L112.5,557.2 L112.5,556.7 L113.8,556.7 L113.8,557.4 L115.0,557.4 L115.0,557.2 L116.2,557.2 L116.2,557.2 L117.5,557.2 L117.5,557.7 L118.8,557.7 L118.8,557.5 L120.0,557.5 L120.0,557.6 L121.3,557.6 L121.3,557.9 L122.6,557.9 L122.6,558.5 L123.9,558.5 L123.9,559.1 L125.2,559.1 L125.2,558.9 L126.5,558.9 L126.5,560.2 L127.9,560.2 L127.9,559.8 L129.2,559.8 L129.2,560.9 L130.5,560.9 L130.5,561.4 L131.8,561.4 L131.8,561.1 L133.1,561.1 L133.1,562.2 L134.4,562.2 L134.4,562.4 L135.7,562.4 L135.7,562.5 L137.0,562.5 L137.0,562.8 L138.3,562.8 L138.3,562.5 L139.6,562.5 L139.6,562.7 L140.9,562.7 L140.9,563.0 L142.2,563.0 L142.2,563.9 L143.4,563.9 L143.4,563.4 L144.7,563.4 L144.7,564.1 L146.0,564.1 L146.0,564.4 L147.3,564.4 L147.3,564.6 L148.6,564.6 L148.6,564.3 L149.9,564.3 L149.9,564.5 L151.2,564.5 L151.2,564.8 L152.5,564.8 L152.5,565.0 L153.8,565.0 L153.8,565.3 L155.1,565.3 L155.1,564.8 L156.4,564.8 L156.4,565.5 L157.7,565.5 L157.7,565.7 L159.0,565.7 L159.0,565.9 L160.2,565.9 L160.2,565.3 L161.5,565.3 L161.5,566.2 L162.8,566.2 L162.8,565.6 L164.1,565.6 L164.1,566.0 L165.4,566.0 L165.4,566.3 L166.7,566.3 L166.7,566.7 L168.0,566.7 L168.0,566.5 L169.3,566.5 L169.3,566.4 L170.6,566.4 L170.6,566.9 L171.9,566.9 L171.9,566.5 L173.2,566.5 L173.2,566.3 L174.5,566.3 L174.5,566.3 L175.9,566.3 L175.9,566.2 L177.2,566.2 L177.2,566.1 L178.5,566.1 L178.5,566.2 L179.8,566.2 L179.8,566.7 L181.1,566.7 L181.1,566.9 L182.4,566.9 L182.4,566.2 L183.7,566.2 L183.7,566.1 L185.0,566.1 L185.0,566.9 L186.3,566.9 L186.3,566.5 L187.6,566.5 L187.6,566.4 L188.9,566.4 L188.9,566.3 L190.3,566.3 L190.3,566.6 L191.6,566.6 L191.6,566.8 L192.9,566.8 L192.9,566.5 L194.2,566.5 L194.2,566.4 L195.5,566.4 L195.5,566.1 L196.8,566.1 L196.8,566.9 L198.1,566.9 L198.1,566.1 L199.4,566.1 L199.4,566.5 L200.7,566.5 L200.7,566.8 L202.0,566.8 L202.0,566.2 L203.3,566.2 L203.3,566.7 L204.7,566.7 L204.7,566.9 L206.0,566.9 L206.0,566.6 L207.3,566.6 L207.3,566.8 L208.6,566.8 L208.6,566.1 L209.9,566.1 L209.9,566.4 L211.2,566.4 L211.2,566.2 L212.5,566.2 L212.5,566.8 L213.8,566.8 L213.8,566.3 L215.1,566.3 L215.1,566.5 L216.4,566.5 L216.4,566.9 L217.7,566.9 L217.7,566.8 L219.1,566.8 L219.1,566.9 L220.4,566.9 L220.4,566.5 L221.7,566.5 L221.7,566.5 L223.0,566.5 L223.0,566.7 L224.3,566.7 L224.3,566.5 L225.6,566.5 L225.6,566.5" fill="none" stroke="#f89a1c" stroke-width="1.7" stroke-linejoin="round"/>
<path d="M41.0,565.0 L42.2,565.0 L42.2,564.7 L43.5,564.7 L43.5,564.8 L44.7,564.8 L44.7,564.5 L45.9,564.5 L45.9,564.6 L47.1,564.6 L47.1,565.1 L48.4,565.1 L48.4,565.0 L49.6,565.0 L49.6,564.5 L49.6,547.6 L51.0,547.6 L51.0,547.4 L52.3,547.4 L52.3,547.1 L53.7,547.1 L53.7,546.6 L55.1,546.6 L55.1,546.1 L56.5,546.1 L56.5,546.0 L57.8,546.0 L57.8,546.2 L59.2,546.2 L59.2,545.7 L60.6,545.7 L60.6,545.8 L61.9,545.8 L61.9,545.0 L63.3,545.0 L63.3,545.1 L64.7,545.1 L64.7,544.9 L66.1,544.9 L66.1,544.5 L67.4,544.5 L67.4,544.2 L68.8,544.2 L68.8,543.8 L70.2,543.8 L70.2,543.7 L71.5,543.7 L71.5,543.0 L72.9,543.0 L72.9,542.9 L74.3,542.9 L74.3,542.2 L75.7,542.2 L75.7,542.0 L77.0,542.0 L77.0,541.9 L78.4,541.9 L78.4,541.3 L79.7,541.3 L79.7,541.4 L80.9,541.4 L80.9,541.0 L82.2,541.0 L82.2,541.6 L83.4,541.6 L83.4,541.3 L84.7,541.3 L84.7,541.2 L85.9,541.2 L85.9,540.6 L87.2,540.6 L87.2,541.1 L88.4,541.1 L88.4,540.8 L89.7,540.8 L89.7,541.1 L90.9,541.1 L90.9,540.9 L91.2,538.5 L91.4,545.7 L92.7,545.7 L92.7,545.7 L93.9,545.7 L93.9,546.0 L95.2,546.0 L95.2,545.8 L96.5,545.8 L96.5,546.0 L97.7,546.0 L97.7,545.6 L99.0,545.6 L99.0,545.8 L100.2,545.8 L100.2,545.9 L101.5,545.9 L101.5,546.0 L102.8,546.0 L102.8,545.6 L104.0,545.6 L104.0,546.0 L105.3,546.0 L105.3,545.7 L107.2,545.7 L107.2,548.6 L108.5,548.6 L108.5,549.0 L109.8,549.0 L109.8,548.9 L111.1,548.9 L111.1,549.2 L112.4,549.2 L112.4,549.3 L113.7,549.3 L113.7,548.9 L115.0,548.9 L115.0,549.0 L116.2,549.0 L116.2,549.2 L117.5,549.2 L117.5,549.0 L118.8,549.0 L118.8,549.8 L120.0,549.8 L120.0,550.1 L121.2,550.1 L121.2,549.8 L122.5,549.8 L122.5,550.2 L123.8,550.2 L123.8,550.4 L125.0,550.4 L125.0,550.5 L126.2,550.5 L126.2,550.2 L127.5,550.2 L127.5,550.9 L128.8,550.9 L128.8,550.9 L130.0,550.9 L130.0,551.0 L131.3,551.0 L131.3,551.9 L132.6,551.9 L132.6,552.4 L133.9,552.4 L133.9,553.3 L135.2,553.3 L135.2,554.2 L136.4,554.2 L136.4,554.8 L137.7,554.8 L137.7,555.6 L139.0,555.6 L139.0,555.7 L140.3,555.7 L140.3,556.6 L141.6,556.6 L141.6,557.6 L142.9,557.6 L142.9,557.9 L144.2,557.9 L144.2,558.4 L145.5,558.4 L145.5,558.3 L146.8,558.3 L146.8,559.1 L148.1,559.1 L148.1,559.4 L149.5,559.4 L149.5,559.2 L150.8,559.2 L150.8,559.9 L152.1,559.9 L152.1,560.0 L153.4,560.0 L153.4,560.1 L154.7,560.1 L154.7,560.5 L156.0,560.5 L156.0,561.2 L157.3,561.2 L157.3,561.5 L158.7,561.5 L158.7,561.8 L160.0,561.8 L160.0,562.2 L161.3,562.2 L161.3,562.5 L162.7,562.5 L162.7,563.3 L164.0,563.3 L164.0,563.6 L165.3,563.6 L165.3,564.3 L166.7,564.3 L166.7,564.7 L168.0,564.7 L168.0,565.0 L169.3,565.0 L169.3,564.8 L170.6,564.8 L170.6,565.4 L171.9,565.4 L171.9,564.6 L173.2,564.6 L173.2,565.0 L174.5,565.0 L174.5,564.9 L175.9,564.9 L175.9,565.1 L177.2,565.1 L177.2,564.8 L178.5,564.8 L178.5,565.5 L179.8,565.5 L179.8,565.1 L181.1,565.1 L181.1,564.8 L182.4,564.8 L182.4,565.4 L183.7,565.4 L183.7,564.9 L185.0,564.9 L185.0,565.3 L186.3,565.3 L186.3,565.2 L187.6,565.2 L187.6,565.4 L188.9,565.4 L188.9,565.8 L190.3,565.8 L190.3,565.7 L191.6,565.7 L191.6,565.3 L192.9,565.3 L192.9,565.7 L194.2,565.7 L194.2,565.6 L195.5,565.6 L195.5,565.4 L196.8,565.4 L196.8,565.2 L198.1,565.2 L198.1,565.6 L199.4,565.6 L199.4,565.6 L200.7,565.6 L200.7,566.0 L202.0,566.0 L202.0,566.0 L203.3,566.0 L203.3,565.7 L204.7,565.7 L204.7,565.5 L206.0,565.5 L206.0,566.0 L207.3,566.0 L207.3,565.2 L208.6,565.2 L208.6,565.4 L209.9,565.4 L209.9,565.8 L211.2,565.8 L211.2,565.9 L212.5,565.9 L212.5,565.4 L213.8,565.4 L213.8,565.9 L215.1,565.9 L215.1,566.2 L216.4,566.2 L216.4,565.7 L217.7,565.7 L217.7,565.8 L219.1,565.8 L219.1,565.6 L220.4,565.6 L220.4,565.7 L221.7,565.7 L221.7,566.4 L223.0,566.4 L223.0,565.8 L224.3,565.8 L224.3,566.4 L225.6,566.4 L225.6,566.0" fill="none" stroke="#6ab04c" stroke-width="1.7" stroke-linejoin="round"/>
<path d="M41.0,566.5 L42.2,566.5 L42.2,566.8 L43.5,566.8 L43.5,566.5 L44.7,566.5 L44.7,566.2 L45.9,566.2 L45.9,566.8 L47.1,566.8 L47.1,566.3 L48.4,566.3 L48.4,566.2 L49.6,566.2 L49.6,566.2 L49.6,560.0 L50.8,560.0 L50.8,559.4 L52.1,559.4 L52.1,559.6 L53.3,559.6 L53.3,558.7 L54.5,558.7 L54.5,558.1 L55.8,558.1 L55.8,557.9 L57.0,557.9 L57.0,557.5 L58.3,557.5 L58.3,557.0 L59.7,557.0 L59.7,557.3 L61.0,557.3 L61.0,556.9 L62.3,556.9 L62.3,556.6 L63.7,556.6 L63.7,556.9 L65.0,556.9 L65.0,556.5 L66.2,556.5 L66.2,556.4 L67.5,556.4 L67.5,555.3 L68.8,555.3 L68.8,555.4 L70.0,555.4 L70.0,554.8 L71.2,554.8 L71.2,555.0 L72.5,555.0 L72.5,554.5 L73.8,554.5 L73.8,553.6 L75.0,553.6 L75.0,553.5 L76.3,553.5 L76.3,552.9 L77.7,552.9 L77.7,552.4 L79.0,552.4 L79.0,552.8 L80.3,552.8 L80.3,551.8 L81.7,551.8 L81.7,551.7 L83.0,551.7 L83.0,551.1 L84.3,551.1 L84.3,550.9 L85.7,550.9 L85.7,550.5 L87.0,550.5 L87.0,550.0 L88.3,550.0 L88.3,550.2 L89.7,550.2 L89.7,549.7 L91.0,549.7 L91.0,550.2 L92.3,550.2 L92.3,549.8 L93.7,549.8 L93.7,550.0 L95.0,550.0 L95.0,550.0 L96.3,550.0 L96.3,550.0 L97.6,550.0 L97.6,550.1 L98.9,550.1 L98.9,550.4 L100.2,550.4 L100.2,550.5 L101.4,550.5 L101.4,550.5 L102.7,550.5 L102.7,551.0 L104.0,551.0 L104.0,551.0 L105.3,551.0 L105.3,551.0 L107.2,551.0 L107.2,554.0 L108.6,554.0 L108.6,552.2 L110.0,552.2 L110.0,551.2 L111.2,551.2 L111.2,551.0 L112.5,551.0 L112.5,551.2 L113.8,551.2 L113.8,551.6 L115.0,551.6 L115.0,551.5 L116.2,551.5 L116.2,551.2 L117.5,551.2 L117.5,550.8 L118.8,550.8 L118.8,551.5 L120.0,551.5 L120.0,551.2 L121.3,551.2 L121.3,551.3 L122.6,551.3 L122.6,551.6 L123.9,551.6 L123.9,551.9 L125.2,551.9 L125.2,552.0 L126.5,552.0 L126.5,552.0 L127.9,552.0 L127.9,552.6 L129.2,552.6 L129.2,552.2 L130.5,552.2 L130.5,552.4 L131.8,552.4 L131.8,553.0 L133.1,553.0 L133.1,552.6 L134.4,552.6 L134.4,553.0 L135.7,553.0 L135.7,553.2 L137.0,553.2 L137.0,554.0 L138.3,554.0 L138.3,553.6 L139.6,553.6 L139.6,554.7 L140.9,554.7 L140.9,554.9 L142.2,554.9 L142.2,555.0 L143.4,555.0 L143.4,555.2 L144.7,555.2 L144.7,556.0 L146.0,556.0 L146.0,556.5 L147.3,556.5 L147.3,556.1 L148.6,556.1 L148.6,556.8 L149.9,556.8 L149.9,557.2 L151.2,557.2 L151.2,557.5 L152.5,557.5 L152.5,558.0 L153.8,558.0 L153.8,558.3 L155.1,558.3 L155.1,558.6 L156.4,558.6 L156.4,559.4 L157.7,559.4 L157.7,560.1 L159.0,560.1 L159.0,559.9 L160.2,559.9 L160.2,560.5 L161.5,560.5 L161.5,561.5 L162.8,561.5 L162.8,561.9 L164.1,561.9 L164.1,562.3 L165.4,562.3 L165.4,562.1 L166.7,562.1 L166.7,563.2 L168.0,563.2 L168.0,563.5 L169.3,563.5 L169.3,564.1 L170.5,564.1 L170.5,564.3 L171.8,564.3 L171.8,564.2 L173.1,564.2 L173.1,563.8 L174.3,563.8 L174.3,564.7 L175.6,564.7 L175.6,564.3 L176.9,564.3 L176.9,564.9 L178.1,564.9 L178.1,565.3 L179.4,565.3 L179.4,565.3 L180.7,565.3 L180.7,565.0 L181.9,565.0 L181.9,565.3 L183.2,565.3 L183.2,566.0 L184.5,566.0 L184.5,565.5 L185.7,565.5 L185.7,566.1 L187.0,566.1 L187.0,566.2 L188.3,566.2 L188.3,566.1 L189.6,566.1 L189.6,565.9 L190.9,565.9 L190.9,566.3 L192.1,566.3 L192.1,565.8 L193.4,565.8 L193.4,565.8 L194.7,565.8 L194.7,566.1 L196.0,566.1 L196.0,565.8 L197.3,565.8 L197.3,565.7 L198.6,565.7 L198.6,566.2 L199.9,566.2 L199.9,566.4 L201.2,566.4 L201.2,566.5 L202.4,566.5 L202.4,565.8 L203.7,565.8 L203.7,566.1 L205.0,566.1 L205.0,565.9 L206.3,565.9 L206.3,566.2 L207.6,566.2 L207.6,566.1 L208.9,566.1 L208.9,566.5 L210.2,566.5 L210.2,566.0 L211.4,566.0 L211.4,565.7 L212.7,565.7 L212.7,566.2 L214.0,566.2 L214.0,565.7 L215.3,565.7 L215.3,566.2 L216.6,566.2 L216.6,566.1 L217.9,566.1 L217.9,566.4 L219.2,566.4 L219.2,566.1 L220.5,566.1 L220.5,566.1 L221.7,566.1 L221.7,565.8 L223.0,565.8 L223.0,566.1 L224.3,566.1 L224.3,565.8 L225.6,565.8 L225.6,566.0" fill="none" stroke="#8a1c1c" stroke-width="1.7" stroke-linejoin="round"/>
<path d="M41.0,566.8 L42.2,566.8 L42.2,567.0 L43.5,567.0 L43.5,566.7 L44.7,566.7 L44.7,566.3 L45.9,566.3 L45.9,566.4 L47.1,566.4 L47.1,566.5 L48.4,566.5 L48.4,566.8 L49.6,566.8 L49.6,566.5 L49.6,559.0 L51.0,559.0 L51.0,558.2 L52.5,558.2 L52.5,558.2 L54.0,558.2 L54.0,557.6 L55.4,557.6 L55.4,557.0 L56.8,557.0 L56.8,556.3 L58.1,556.3 L58.1,556.6 L59.5,556.6 L59.5,555.8 L60.9,555.8 L60.9,555.5 L62.3,555.5 L62.3,555.7 L63.6,555.7 L63.6,555.1 L65.0,555.1 L65.0,555.0 L66.3,555.0 L66.3,554.9 L67.7,554.9 L67.7,554.1 L69.0,554.1 L69.0,553.5 L70.4,553.5 L70.4,553.5 L71.7,553.5 L71.7,552.3 L73.0,552.3 L73.0,552.5 L74.4,552.5 L74.4,551.4 L75.7,551.4 L75.7,551.1 L77.1,551.1 L77.1,551.4 L78.4,551.4 L78.4,550.5 L79.6,550.5 L79.6,550.1 L80.9,550.1 L80.9,549.1 L82.1,549.1 L82.1,548.5 L83.3,548.5 L83.3,548.7 L84.5,548.7 L84.5,547.9 L85.8,547.9 L85.8,547.4 L87.0,547.4 L87.0,546.6 L88.3,546.6 L88.3,546.2 L89.7,546.2 L89.7,546.5 L91.0,546.5 L91.0,546.2 L92.3,546.2 L92.3,546.0 L93.7,546.0 L93.7,545.9 L95.0,545.9 L95.0,546.0 L96.3,546.0 L96.3,546.3 L97.6,546.3 L97.6,546.2 L98.9,546.2 L98.9,546.5 L100.2,546.5 L100.2,546.4 L101.4,546.4 L101.4,547.2 L102.7,547.2 L102.7,547.3 L104.0,547.3 L104.0,547.6 L105.3,547.6 L105.3,547.5 L107.2,547.5 L107.2,551.5 L108.6,551.5 L108.6,549.4 L110.0,549.4 L110.0,547.5 L111.2,547.5 L111.2,547.8 L112.5,547.8 L112.5,547.4 L113.8,547.4 L113.8,547.4 L115.0,547.4 L115.0,547.3 L116.2,547.3 L116.2,547.4 L117.5,547.4 L117.5,547.0 L118.8,547.0 L118.8,546.7 L120.0,546.7 L120.0,547.0 L121.3,547.0 L121.3,546.9 L122.6,546.9 L122.6,547.4 L123.9,547.4 L123.9,547.5 L125.2,547.5 L125.2,548.6 L126.5,548.6 L126.5,548.5 L127.9,548.5 L127.9,549.1 L129.2,549.1 L129.2,548.7 L130.5,548.7 L130.5,549.4 L131.8,549.4 L131.8,550.1 L133.1,550.1 L133.1,550.2 L134.4,550.2 L134.4,550.4 L135.7,550.4 L135.7,550.7 L137.0,550.7 L137.0,551.1 L138.3,551.1 L138.3,551.1 L139.6,551.1 L139.6,551.6 L140.9,551.6 L140.9,551.9 L142.2,551.9 L142.2,552.5 L143.4,552.5 L143.4,552.9 L144.7,552.9 L144.7,553.7 L146.0,553.7 L146.0,553.4 L147.3,553.4 L147.3,553.9 L148.6,553.9 L148.6,554.3 L149.9,554.3 L149.9,554.5 L151.2,554.5 L151.2,555.2 L152.5,555.2 L152.5,555.6 L153.8,555.6 L153.8,556.1 L155.1,556.1 L155.1,556.8 L156.4,556.8 L156.4,557.0 L157.7,557.0 L157.7,558.4 L159.0,558.4 L159.0,558.4 L160.2,558.4 L160.2,559.5 L161.5,559.5 L161.5,559.8 L162.8,559.8 L162.8,560.3 L164.1,560.3 L164.1,560.7 L165.4,560.7 L165.4,561.7 L166.7,561.7 L166.7,561.5 L168.0,561.5 L168.0,562.4 L169.3,562.4 L169.3,562.8 L170.6,562.8 L170.6,562.7 L171.8,562.7 L171.8,563.3 L173.1,563.3 L173.1,563.6 L174.4,563.6 L174.4,563.3 L175.7,563.3 L175.7,563.6 L177.0,563.6 L177.0,563.7 L178.2,563.7 L178.2,564.1 L179.5,564.1 L179.5,564.2 L180.8,564.2 L180.8,564.7 L182.1,564.7 L182.1,565.5 L183.4,565.5 L183.4,565.2 L184.6,565.2 L184.6,565.4 L185.9,565.4 L185.9,565.7 L187.2,565.7 L187.2,566.0 L188.5,566.0 L188.5,565.8 L189.8,565.8 L189.8,566.1 L191.0,566.1 L191.0,566.1 L192.3,566.1 L192.3,565.5 L193.6,565.5 L193.6,565.6 L194.9,565.6 L194.9,565.9 L196.2,565.9 L196.2,566.1 L197.4,566.1 L197.4,565.8 L198.7,565.8 L198.7,565.6 L200.0,565.6 L200.0,566.0 L201.3,566.0 L201.3,565.1 L202.6,565.1 L202.6,565.1 L203.8,565.1 L203.8,565.7 L205.1,565.7 L205.1,565.4 L206.4,565.4 L206.4,565.0 L207.7,565.0 L207.7,565.4 L209.0,565.4 L209.0,565.8 L210.2,565.8 L210.2,565.3 L211.5,565.3 L211.5,565.1 L212.8,565.1 L212.8,564.8 L214.1,564.8 L214.1,564.8 L215.4,564.8 L215.4,565.5 L216.6,565.5 L216.6,565.1 L217.9,565.1 L217.9,565.4 L219.2,565.4 L219.2,564.6 L220.5,564.6 L220.5,564.7 L221.8,564.7 L221.8,564.5 L223.0,564.5 L223.0,564.8 L224.3,564.8 L224.3,564.4 L225.6,564.4 L225.6,564.8" fill="none" stroke="#d42a1e" stroke-width="1.7" stroke-linejoin="round"/>
<path d="M41.0,556.0 L42.2,556.0 L42.2,555.7 L43.5,555.7 L43.5,555.8 L44.7,555.8 L44.7,555.6 L45.9,555.6 L45.9,555.3 L47.1,555.3 L47.1,555.2 L48.4,555.2 L48.4,556.0 L49.6,556.0 L49.6,555.5 L49.6,512.0 L51.0,512.0 L51.0,509.8 L52.5,509.8 L52.5,508.3 L54.0,508.3 L54.0,506.3 L55.4,506.3 L55.4,504.5 L56.8,504.5 L56.8,503.7 L58.1,503.7 L58.1,502.5 L59.5,502.5 L59.5,501.8 L60.9,501.8 L60.9,500.8 L62.3,500.8 L62.3,500.4 L63.6,500.4 L63.6,499.9 L65.0,499.9 L65.0,498.7 L66.4,498.7 L66.4,495.4 L67.8,495.4 L67.8,492.3 L69.3,492.3 L69.3,488.4 L70.7,488.4 L70.7,485.3 L72.0,485.3 L72.0,482.9 L73.3,482.9 L73.3,481.5 L74.6,481.5 L74.6,479.5 L75.8,479.5 L75.8,477.6 L77.1,477.6 L77.1,475.5 L78.4,475.5 L78.4,473.7 L79.6,473.7 L79.6,472.6 L80.7,472.6 L80.7,471.6 L81.8,471.6 L81.8,470.5 L83.0,470.5 L83.0,469.0 L84.3,469.0 L84.3,467.2 L85.7,467.2 L85.7,465.7 L87.0,465.7 L87.0,464.1 L88.3,464.1 L88.3,469.5 L89.6,469.5 L89.6,474.1 L90.9,474.1 L90.9,479.5 L92.1,479.5 L92.1,479.5 L93.3,479.5 L93.3,479.9 L94.6,479.9 L94.6,480.0 L95.8,480.0 L95.8,480.9 L97.0,480.9 L97.0,481.0 L98.3,481.0 L98.3,481.7 L99.5,481.7 L99.5,481.8 L100.8,481.8 L100.8,482.0 L102.0,482.0 L102.0,482.5 L103.3,482.5 L103.3,483.3 L104.8,483.3 L104.8,492.7 L106.2,492.7 L106.2,502.5 L107.5,502.5 L107.5,499.6 L108.7,499.6 L108.7,497.4 L110.0,497.4 L110.0,495.0 L111.3,495.0 L111.3,493.4 L112.6,493.4 L112.6,491.4 L113.9,491.4 L113.9,490.0 L115.5,490.0 L115.5,491.1 L117.0,491.1 L117.0,493.0 L118.2,493.0 L118.2,495.7 L119.4,495.7 L119.4,497.7 L120.6,497.7 L120.6,500.6 L122.0,500.6 L122.0,500.5 L123.4,500.5 L123.4,500.8 L124.8,500.8 L124.8,501.2 L126.0,501.2 L126.0,501.3 L127.2,501.3 L127.2,501.2 L128.4,501.2 L128.4,501.7 L129.6,501.7 L129.6,501.8 L130.8,501.8 L130.8,502.4 L132.0,502.4 L132.0,502.4 L133.2,502.4 L133.2,503.7 L134.4,503.7 L134.4,505.2 L135.6,505.2 L135.6,506.1 L136.8,506.1 L136.8,507.4 L138.0,507.4 L138.0,508.5 L139.2,508.5 L139.2,509.6 L140.6,509.6 L140.6,511.3 L141.9,511.3 L141.9,513.3 L143.3,513.3 L143.3,514.9 L144.7,514.9 L144.7,516.9 L146.1,516.9 L146.1,518.4 L147.4,518.4 L147.4,520.1 L148.8,520.1 L148.8,521.6 L150.1,521.6 L150.1,523.0 L151.5,523.0 L151.5,525.1 L152.8,525.1 L152.8,526.3 L154.1,526.3 L154.1,527.7 L155.5,527.7 L155.5,529.2 L156.8,529.2 L156.8,530.9 L158.1,530.9 L158.1,532.6 L159.5,532.6 L159.5,534.6 L160.8,534.6 L160.8,536.0 L162.0,536.0 L162.0,537.4 L163.2,537.4 L163.2,538.8 L164.4,538.8 L164.4,541.0 L165.6,541.0 L165.6,542.5 L166.8,542.5 L166.8,543.6 L168.0,543.6 L168.0,545.6 L169.4,545.6 L169.4,546.9 L170.7,546.9 L170.7,548.7 L172.1,548.7 L172.1,550.6 L173.5,550.6 L173.5,552.8 L174.9,552.8 L174.9,554.6 L176.2,554.6 L176.2,556.0 L177.6,556.0 L177.6,557.6 L179.0,557.6 L179.0,558.2 L180.3,558.2 L180.3,559.3 L181.7,559.3 L181.7,560.0 L183.1,560.0 L183.1,560.9 L184.5,560.9 L184.5,561.4 L185.8,561.4 L185.8,562.8 L187.2,562.8 L187.2,563.6 L188.5,563.6 L188.5,563.9 L189.8,563.9 L189.8,563.7 L191.0,563.7 L191.0,563.1 L192.3,563.1 L192.3,563.5 L193.6,563.5 L193.6,563.1 L194.9,563.1 L194.9,563.5 L196.2,563.5 L196.2,563.3 L197.4,563.3 L197.4,563.7 L198.7,563.7 L198.7,563.5 L200.0,563.5 L200.0,562.9 L201.3,562.9 L201.3,563.0 L202.6,563.0 L202.6,563.5 L203.8,563.5 L203.8,563.0 L205.1,563.0 L205.1,563.0 L206.4,563.0 L206.4,562.9 L207.7,562.9 L207.7,563.2 L209.0,563.2 L209.0,563.3 L210.2,563.3 L210.2,562.9 L211.5,562.9 L211.5,563.3 L212.8,563.3 L212.8,562.9 L214.1,562.9 L214.1,562.4 L215.4,562.4 L215.4,563.0 L216.6,563.0 L216.6,562.6 L217.9,562.6 L217.9,562.2 L219.2,562.2 L219.2,563.0 L220.5,563.0 L220.5,562.1 L221.8,562.1 L221.8,562.6 L223.0,562.6 L223.0,562.5 L224.3,562.5 L224.3,562.8 L225.6,562.8 L225.6,562.4" fill="none" stroke="#5b8ee0" stroke-width="1.7" stroke-linejoin="round"/>
<path d="M41.0,563.0 L42.2,563.0 L42.2,562.8 L43.5,562.8 L43.5,562.6 L44.7,562.6 L44.7,562.6 L45.9,562.6 L45.9,562.4 L47.1,562.4 L47.1,562.7 L48.4,562.7 L48.4,562.4 L49.6,562.4 L49.6,562.5 L49.6,527.5 L51.0,527.5 L51.0,523.9 L52.5,523.9 L52.5,519.6 L54.0,519.6 L54.0,515.8 L55.4,515.8 L55.4,512.1 L56.8,512.1 L56.8,510.8 L58.1,510.8 L58.1,510.4 L59.5,510.4 L59.5,509.1 L60.9,509.1 L60.9,508.1 L62.3,508.1 L62.3,506.8 L63.6,506.8 L63.6,505.5 L65.0,505.5 L65.0,504.5 L66.4,504.5 L66.4,502.3 L67.8,502.3 L67.8,500.9 L69.3,500.9 L69.3,498.7 L70.7,498.7 L70.7,496.8 L71.7,496.8 L71.7,454.5 L73.0,454.5 L73.0,452.2 L74.2,452.2 L74.2,450.4 L75.5,450.4 L75.5,448.8 L77.0,448.8 L77.0,447.5 L78.4,447.5 L78.4,447.1 L79.8,447.1 L79.8,446.3 L81.3,446.3 L81.3,445.0 L83.2,445.0 L83.2,428.6 L84.5,428.6 L84.5,427.4 L85.7,427.4 L85.7,427.0 L87.0,427.0 L87.0,425.8 L88.3,425.8 L88.3,427.5 L89.6,427.5 L89.6,429.8 L90.9,429.8 L90.9,431.5 L92.1,431.5 L92.1,432.3 L93.3,432.3 L93.3,432.6 L94.5,432.6 L94.5,433.2 L95.7,433.2 L95.7,433.4 L97.4,433.4 L97.4,432.9 L98.6,432.9 L98.6,433.7 L99.8,433.7 L99.8,434.7 L101.0,434.7 L101.0,434.7 L102.2,434.7 L102.2,435.5 L103.4,435.5 L103.4,435.9 L104.0,435.9 L104.0,422.0 L104.6,422.0 L104.6,436.5 L105.8,436.5 L105.8,437.7 L106.7,437.7 L106.7,461.7 L107.8,461.7 L107.8,461.0 L108.9,461.0 L108.9,459.8 L110.0,459.8 L110.0,459.3 L111.8,459.3 L111.8,453.3 L113.0,453.3 L113.0,452.6 L114.2,452.6 L114.2,452.1 L115.7,452.1 L115.7,452.2 L117.2,452.2 L117.2,452.7 L118.4,452.7 L118.4,453.5 L119.6,453.5 L119.6,455.1 L120.8,455.1 L120.8,462.9 L122.3,462.9 L122.3,463.3 L123.8,463.3 L123.8,464.1 L125.1,464.1 L125.1,464.0 L126.3,464.0 L126.3,464.1 L127.6,464.1 L127.6,464.3 L128.9,464.3 L128.9,464.0 L130.2,464.0 L130.2,464.5 L131.4,464.5 L131.4,464.4 L132.7,464.4 L132.7,464.5 L134.0,464.5 L134.0,464.3 L135.2,464.3 L135.2,464.3 L136.5,464.3 L136.5,464.1 L138.0,464.1 L138.0,495.2 L139.2,495.2 L139.2,497.6 L140.4,497.6 L140.4,500.3 L141.6,500.3 L141.6,502.3 L142.8,502.3 L142.8,504.9 L144.0,504.9 L144.0,507.2 L145.2,507.2 L145.2,509.2 L146.4,509.2 L146.4,510.8 L147.6,510.8 L147.6,512.4 L148.8,512.4 L148.8,514.4 L150.0,514.4 L150.0,515.6 L151.2,515.6 L151.2,517.2 L152.4,517.2 L152.4,519.1 L153.6,519.1 L153.6,520.9 L154.8,520.9 L154.8,522.6 L156.0,522.6 L156.0,524.0 L157.2,524.0 L157.2,530.2 L158.4,530.2 L158.4,536.0 L159.6,536.0 L159.6,538.2 L160.8,538.2 L160.8,541.2 L162.0,541.2 L162.0,543.0 L163.2,543.0 L163.2,545.6 L164.4,545.6 L164.4,548.5 L165.6,548.5 L165.6,550.6 L166.8,550.6 L166.8,553.9 L168.0,553.9 L168.0,556.4 L169.4,556.4 L169.4,557.4 L170.7,557.4 L170.7,558.5 L172.1,558.5 L172.1,559.3 L173.5,559.3 L173.5,560.0 L174.9,560.0 L174.9,561.0 L176.2,561.0 L176.2,561.8 L177.6,561.8 L177.6,562.4 L179.0,562.4 L179.0,562.8 L180.3,562.8 L180.3,562.8 L181.7,562.8 L181.7,563.4 L183.1,563.4 L183.1,564.1 L184.5,564.1 L184.5,563.9 L185.8,563.9 L185.8,564.9 L187.2,564.9 L187.2,564.8 L188.5,564.8 L188.5,564.6 L189.8,564.6 L189.8,564.3 L191.0,564.3 L191.0,563.8 L192.3,563.8 L192.3,563.9 L193.6,563.9 L193.6,563.5 L194.9,563.5 L194.9,563.7 L196.2,563.7 L196.2,563.8 L197.4,563.8 L197.4,563.6 L198.7,563.6 L198.7,563.1 L200.0,563.1 L200.0,562.7 L201.3,562.7 L201.3,562.2 L202.6,562.2 L202.6,562.6 L203.8,562.6 L203.8,562.2 L205.1,562.2 L205.1,562.2 L206.4,562.2 L206.4,561.7 L207.7,561.7 L207.7,561.9 L209.0,561.9 L209.0,561.1 L210.2,561.1 L210.2,561.0 L211.5,561.0 L211.5,560.8 L212.8,560.8 L212.8,560.9 L214.1,560.9 L214.1,561.0 L215.4,561.0 L215.4,560.1 L216.6,560.1 L216.6,560.3 L217.9,560.3 L217.9,560.2 L219.2,560.2 L219.2,559.6 L220.5,559.6 L220.5,559.2 L221.8,559.2 L221.8,559.5 L223.0,559.5 L223.0,559.5 L224.3,559.5 L224.3,559.3 L225.6,559.3 L225.6,558.8" fill="none" stroke="#18477f" stroke-width="1.7" stroke-linejoin="round"/>
<path d="M41.0,554.4 L42.2,554.4 L42.2,554.5 L43.5,554.5 L43.5,554.2 L44.7,554.2 L44.7,554.2 L45.9,554.2 L45.9,554.2 L47.1,554.2 L47.1,554.5 L48.4,554.5 L48.4,553.9 L49.6,553.9 L49.6,554.0 L49.6,490.0 L50.8,490.0 L50.8,479.8 L52.0,479.8 L52.0,470.0 L53.3,470.0 L53.3,464.1 L54.7,464.1 L54.7,458.4 L56.0,458.4 L56.0,452.0 L57.5,452.0 L57.5,447.6 L58.9,447.6 L58.9,443.4 L60.4,443.4 L60.4,439.7 L61.6,439.7 L61.6,434.5 L62.8,434.5 L62.8,430.0 L64.0,430.0 L64.0,425.2 L65.3,425.2 L65.3,419.9 L66.5,419.9 L66.5,415.1 L67.7,415.1 L67.7,410.5 L69.2,410.5 L69.2,404.8 L70.6,404.8 L70.6,399.0 L72.1,399.0 L72.1,393.0 L73.3,393.0 L73.3,390.2 L74.6,390.2 L74.6,387.3 L75.8,387.3 L75.8,384.2 L77.0,384.2 L77.0,383.3 L78.2,383.3 L78.2,383.3 L79.4,383.3 L79.4,382.8 L80.5,382.8 L80.5,378.7 L81.6,378.7 L81.6,374.0 L82.7,374.0 L82.7,372.6 L83.8,372.6 L83.8,370.4 L85.3,370.4 L85.3,369.5 L86.7,369.5 L86.7,369.2 L88.2,369.2 L88.2,368.2 L89.3,368.2 L89.3,371.2 L90.4,371.2 L90.4,374.0 L91.8,374.0 L91.8,394.5 L93.2,394.5 L93.2,392.6 L94.7,392.6 L94.7,390.0 L96.2,390.0 L96.2,391.6 L97.7,391.6 L97.7,393.7 L98.0,395.6 L99.8,395.6 L99.8,394.4 L101.0,394.4 L101.0,399.8 L102.2,399.8 L102.2,397.9 L103.4,397.9 L103.4,395.6 L104.6,395.6 L104.6,395.6 L105.8,395.6 L105.8,402.8 L107.0,402.8 L107.0,430.5 L108.2,430.5 L108.2,437.7 L110.0,437.7 L110.0,436.5 L111.8,436.5 L111.8,430.5 L113.0,430.5 L113.0,429.3 L114.2,429.3 L114.2,427.5 L115.4,427.5 L115.4,427.5 L116.6,427.5 L116.6,427.5 L118.1,427.5 L118.1,429.2 L119.6,429.2 L119.6,431.7 L120.8,431.7 L120.8,441.3 L122.0,441.3 L122.0,442.8 L123.2,442.8 L123.2,444.9 L124.8,444.9 L124.8,445.5 L126.3,445.5 L126.3,446.7 L127.8,446.7 L127.8,446.9 L129.3,446.9 L129.3,447.9 L131.0,447.9 L131.0,452.7 L132.3,452.7 L132.3,447.9 L133.8,447.9 L133.8,447.9 L135.3,447.9 L135.3,448.5 L136.5,448.5 L136.5,452.1 L137.7,452.1 L137.7,468.0 L139.2,468.0 L139.2,473.6 L140.4,473.6 L140.4,475.5 L141.6,475.5 L141.6,476.8 L142.8,476.8 L142.8,479.2 L144.0,479.2 L144.0,480.8 L145.2,480.8 L145.2,483.4 L146.4,483.4 L146.4,485.9 L147.6,485.9 L147.6,488.3 L148.8,488.3 L148.8,490.6 L150.0,490.6 L150.0,493.2 L151.2,493.2 L151.2,495.2 L152.4,495.2 L152.4,498.0 L153.6,498.0 L153.6,500.1 L154.8,500.1 L154.8,502.8 L156.0,502.8 L156.0,504.4 L157.2,504.4 L157.2,506.8 L158.4,506.8 L158.4,509.6 L159.6,509.6 L159.6,511.2 L160.8,511.2 L160.8,513.3 L162.0,513.3 L162.0,515.5 L163.2,515.5 L163.2,517.6 L164.4,517.6 L164.4,519.8 L165.6,519.8 L165.6,521.6 L166.8,521.6 L166.8,527.8 L168.0,527.8 L168.0,533.6 L169.4,533.6 L169.4,535.3 L170.7,535.3 L170.7,537.6 L172.1,537.6 L172.1,539.8 L173.5,539.8 L173.5,541.7 L174.9,541.7 L174.9,543.5 L176.2,543.5 L176.2,546.0 L177.6,546.0 L177.6,548.0 L179.0,548.0 L179.0,548.6 L180.3,548.6 L180.3,549.5 L181.7,549.5 L181.7,550.1 L183.1,550.1 L183.1,551.2 L184.5,551.2 L184.5,551.8 L185.8,551.8 L185.8,551.7 L187.2,551.7 L187.2,552.8 L188.6,552.8 L188.6,553.5 L189.9,553.5 L189.9,554.0 L191.3,554.0 L191.3,554.2 L192.7,554.2 L192.7,554.5 L194.1,554.5 L194.1,555.4 L195.4,555.4 L195.4,555.8 L196.8,555.8 L196.8,556.4 L198.1,556.4 L198.1,555.9 L199.5,555.9 L199.5,555.4 L200.8,555.4 L200.8,554.3 L202.1,554.3 L202.1,553.5 L203.5,553.5 L203.5,553.1 L204.8,553.1 L204.8,552.6 L206.1,552.6 L206.1,552.0 L207.5,552.0 L207.5,551.1 L208.8,551.1 L208.8,550.4 L210.2,550.4 L210.2,549.0 L211.5,549.0 L211.5,547.9 L212.9,547.9 L212.9,547.1 L214.3,547.1 L214.3,545.6 L215.7,545.6 L215.7,544.0 L217.0,544.0 L217.0,543.1 L218.4,543.1 L218.4,542.0 L219.6,542.0 L219.6,541.2 L220.8,541.2 L220.8,540.9 L222.0,540.9 L222.0,539.8 L223.2,539.8 L223.2,539.4 L224.4,539.4 L224.4,538.6 L225.6,538.6 L225.6,538.4" fill="none" stroke="#1f6ec2" stroke-width="1.7" stroke-linejoin="round"/>
<path d="M41.0,552.4 L42.2,552.4 L42.2,552.3 L43.5,552.3 L43.5,552.7 L44.7,552.7 L44.7,552.3 L45.9,552.3 L45.9,552.1 L47.1,552.1 L47.1,552.5 L48.4,552.5 L48.4,551.7 L49.6,551.7 L49.6,552.0 L49.6,477.6 L51.5,477.6 L51.5,458.4 L52.7,458.4 L52.7,453.8 L53.8,453.8 L53.8,449.7 L55.0,449.7 L55.0,445.0 L56.4,445.0 L56.4,441.4 L57.8,441.4 L57.8,438.8 L59.2,438.8 L59.2,435.4 L60.6,435.4 L60.6,430.4 L62.0,430.4 L62.0,425.2 L63.4,425.2 L63.4,420.7 L64.6,420.7 L64.6,412.7 L65.8,412.7 L65.8,405.1 L67.0,405.1 L67.0,397.4 L68.5,397.4 L68.5,392.9 L69.9,392.9 L69.9,388.6 L71.4,388.6 L71.4,384.2 L72.9,384.2 L72.9,378.5 L74.3,378.5 L74.3,373.3 L75.8,373.3 L75.8,368.2 L77.2,368.2 L77.2,361.7 L78.7,361.7 L78.7,354.3 L80.2,354.3 L80.2,346.6 L81.6,346.6 L81.6,339.0 L82.7,339.0 L82.7,337.5 L83.8,337.5 L83.8,336.0 L85.2,336.0 L85.2,333.5 L86.7,333.5 L86.7,331.7 L87.8,331.7 L87.8,332.6 L88.9,332.6 L88.9,333.9 L90.4,333.9 L90.4,339.0 L91.4,339.0 L91.4,350.7 L93.3,350.7 L93.3,341.9 L94.8,341.9 L94.8,340.1 L96.2,340.1 L96.2,337.5 L97.7,337.5 L97.7,338.0 L99.1,338.0 L99.1,338.2 L100.2,338.2 L100.2,339.3 L101.3,339.3 L101.3,340.4 L102.8,340.4 L102.8,340.4 L104.2,340.4 L104.2,341.2 L105.7,341.2 L105.7,349.2 L106.9,349.2 L106.9,387.2 L108.8,387.2 L108.8,392.0 L110.2,392.0 L110.2,383.7 L111.5,383.7 L111.5,375.5 L112.7,375.5 L112.7,374.8 L114.0,374.8 L114.0,373.5 L115.2,373.5 L115.2,372.6 L116.4,372.6 L116.4,374.6 L117.6,374.6 L117.6,376.8 L118.8,376.8 L118.8,378.4 L119.8,378.4 L119.8,388.3 L120.8,388.3 L120.8,398.0 L122.3,398.0 L122.3,402.9 L123.8,402.9 L123.8,407.6 L125.0,407.6 L125.0,408.8 L126.3,408.8 L126.3,410.4 L127.5,410.4 L127.5,412.5 L128.7,412.5 L128.7,413.9 L129.8,413.9 L129.8,414.8 L131.0,414.8 L131.0,416.0 L132.4,416.0 L132.4,416.6 L133.9,416.6 L133.9,416.8 L135.3,416.8 L135.3,416.7 L136.5,416.7 L136.5,421.6 L137.7,421.6 L137.7,425.7 L139.5,425.7 L139.5,425.7 L141.3,425.7 L141.3,447.3 L142.8,447.3 L142.8,451.4 L144.3,451.4 L144.3,455.7 L145.7,455.7 L145.7,460.2 L147.1,460.2 L147.1,464.1 L148.4,464.1 L148.4,468.2 L149.8,468.2 L149.8,471.6 L151.2,471.6 L151.2,476.0 L152.4,476.0 L152.4,478.7 L153.6,478.7 L153.6,480.7 L154.8,480.7 L154.8,483.6 L156.0,483.6 L156.0,486.0 L157.2,486.0 L157.2,487.7 L158.4,487.7 L158.4,490.4 L159.6,490.4 L159.6,493.5 L160.8,493.5 L160.8,496.6 L162.0,496.6 L162.0,500.0 L163.2,500.0 L163.2,503.0 L164.4,503.0 L164.4,506.5 L165.6,506.5 L165.6,509.6 L166.8,509.6 L166.8,518.9 L168.0,518.9 L168.0,528.8 L169.4,528.8 L169.4,530.9 L170.7,530.9 L170.7,533.6 L172.1,533.6 L172.1,535.6 L173.5,535.6 L173.5,538.3 L174.9,538.3 L174.9,541.2 L176.2,541.2 L176.2,543.5 L177.6,543.5 L177.6,545.6 L179.0,545.6 L179.0,547.4 L180.3,547.4 L180.3,549.3 L181.7,549.3 L181.7,552.1 L183.1,552.1 L183.1,554.2 L184.5,554.2 L184.5,556.0 L185.8,556.0 L185.8,557.6 L187.2,557.6 L187.2,560.0 L188.6,560.0 L188.6,560.3 L189.9,560.3 L189.9,561.4 L191.3,561.4 L191.3,561.9 L192.7,561.9 L192.7,561.6 L194.1,561.6 L194.1,562.3 L195.4,562.3 L195.4,563.0 L196.8,563.0 L196.8,563.6 L198.1,563.6 L198.1,563.1 L199.5,563.1 L199.5,563.3 L200.8,563.3 L200.8,562.7 L202.1,562.7 L202.1,562.8 L203.5,562.8 L203.5,562.0 L204.8,562.0 L204.8,562.0 L206.1,562.0 L206.1,562.2 L207.5,562.2 L207.5,561.6 L208.8,561.6 L208.8,561.2 L210.2,561.2 L210.2,560.0 L211.5,560.0 L211.5,559.1 L212.9,559.1 L212.9,558.8 L214.3,558.8 L214.3,557.7 L215.7,557.7 L215.7,556.8 L217.0,556.8 L217.0,556.0 L218.4,556.0 L218.4,555.2 L219.6,555.2 L219.6,555.1 L220.8,555.1 L220.8,555.2 L222.0,555.2 L222.0,554.4 L223.2,554.4 L223.2,554.5 L224.4,554.5 L224.4,554.0 L225.6,554.0 L225.6,554.0" fill="none" stroke="#55b4f8" stroke-width="1.7" stroke-linejoin="round"/>
</g>
<path d="M278.8,566.8 L280.1,566.8 L280.1,566.8 L281.4,566.8 L281.4,567.0 L282.8,567.0 L282.8,566.4 L284.1,566.4 L284.1,566.7 L285.4,566.7 L285.4,566.9 L286.7,566.9 L286.7,566.3 L288.1,566.3 L288.1,567.0 L289.4,567.0 L289.4,566.6 L290.7,566.6 L290.7,566.7 L292.0,566.7 L292.0,566.8 L293.3,566.8 L293.3,566.9 L294.7,566.9 L294.7,566.3 L296.0,566.3 L296.0,566.7 L297.3,566.7 L297.3,566.2 L298.6,566.2 L298.6,566.5 L300.0,566.5 L300.0,566.5 L301.3,566.5 L301.3,566.2 L302.6,566.2 L302.6,566.4 L303.9,566.4 L303.9,566.5 L305.2,566.5 L305.2,566.7 L306.6,566.7 L306.6,566.9 L307.9,566.9 L307.9,566.4 L309.2,566.4 L309.2,566.6 L310.5,566.6 L310.5,566.7 L311.9,566.7 L311.9,566.9 L313.2,566.9 L313.2,566.9 L314.5,566.9 L314.5,566.5 L315.8,566.5 L315.8,566.7 L317.1,566.7 L317.1,565.9 L318.4,565.9 L318.4,565.6 L319.7,565.6 L319.7,566.1 L321.0,566.1 L321.0,565.1 L322.2,565.1 L322.2,565.2 L323.5,565.2 L323.5,565.3 L324.8,565.3 L324.8,564.9 L326.1,564.9 L326.1,564.5 L327.4,564.5 L327.4,564.8 L328.7,564.8 L328.7,564.0 L330.0,564.0 L330.0,564.0 L331.2,564.0 L331.2,563.6 L332.5,563.6 L332.5,563.5 L333.8,563.5 L333.8,562.4 L335.0,562.4 L335.0,562.2 L336.2,562.2 L336.2,561.9 L337.5,561.9 L337.5,561.6 L338.8,561.6 L338.8,560.8 L340.0,560.8 L340.0,560.6 L341.2,560.6 L341.2,559.9 L342.5,559.9 L342.5,559.5 L343.8,559.5 L343.8,559.3 L345.0,559.3 L345.0,559.0 L346.2,559.0 L346.2,558.5 L347.5,558.5 L347.5,559.0 L348.8,559.0 L348.8,558.2 L350.0,558.2 L350.0,558.0 L351.2,558.0 L351.2,558.2 L352.5,558.2 L352.5,558.0 L353.8,558.0 L353.8,557.3 L355.0,557.3 L355.0,557.6 L356.2,557.6 L356.2,557.2 L357.5,557.2 L357.5,556.8 L358.8,556.8 L358.8,556.8 L360.0,556.8 L360.0,556.5 L361.2,556.5 L361.2,556.3 L362.5,556.3 L362.5,556.4 L363.8,556.4 L363.8,557.0 L365.0,557.0 L365.0,556.7 L366.2,556.7 L366.2,557.2 L367.5,557.2 L367.5,556.6 L368.8,556.6 L368.8,556.6 L370.0,556.6 L370.0,557.0 L371.2,557.0 L371.2,556.8 L372.5,556.8 L372.5,557.7 L373.8,557.7 L373.8,557.8 L375.0,557.8 L375.0,557.6 L376.2,557.6 L376.2,557.8 L377.5,557.8 L377.5,558.8 L378.8,558.8 L378.8,558.7 L380.0,558.7 L380.0,559.3 L381.2,559.3 L381.2,558.8 L382.5,558.8 L382.5,559.6 L383.8,559.6 L383.8,559.4 L385.0,559.4 L385.0,560.0 L386.2,560.0 L386.2,560.5 L387.5,560.5 L387.5,560.8 L388.8,560.8 L388.8,561.1 L390.0,561.1 L390.0,561.1 L391.2,561.1 L391.2,562.1 L392.5,562.1 L392.5,561.6 L393.8,561.6 L393.8,561.9 L395.0,561.9 L395.0,562.8 L396.2,562.8 L396.2,562.6 L397.5,562.6 L397.5,562.9 L398.8,562.9 L398.8,563.6 L400.0,563.6 L400.0,564.0 L401.3,564.0 L401.3,564.4 L402.6,564.4 L402.6,565.0 L404.0,565.0 L404.0,565.1 L405.3,565.1 L405.3,564.9 L406.6,564.9 L406.6,565.7 L408.0,565.7 L408.0,566.2 L409.3,566.2 L409.3,565.8 L410.6,565.8 L410.6,566.5 L411.9,566.5 L411.9,566.7 L413.2,566.7 L413.2,566.3 L414.4,566.3 L414.4,566.3 L415.7,566.3 L415.7,566.1 L417.0,566.1 L417.0,566.7 L418.3,566.7 L418.3,566.5 L419.5,566.5 L419.5,566.9 L420.8,566.9 L420.8,566.5 L422.1,566.5 L422.1,566.2 L423.4,566.2 L423.4,566.2 L424.7,566.2 L424.7,566.3 L425.9,566.3 L425.9,566.9 L427.2,566.9 L427.2,566.2 L428.5,566.2 L428.5,566.1 L429.8,566.1 L429.8,566.4 L431.1,566.4 L431.1,566.1 L432.3,566.1 L432.3,566.4 L433.6,566.4 L433.6,566.6 L434.9,566.6 L434.9,566.6 L436.2,566.6 L436.2,566.2 L437.4,566.2 L437.4,566.2 L438.7,566.2 L438.7,566.5 L440.0,566.5 L440.0,566.5" fill="none" stroke="#f89a1c" stroke-width="1.7" stroke-linejoin="round"/>
<path d="M314.5,566.0 L314.5,560.0 L315.8,560.0 L315.8,560.0 L317.1,560.0 L317.1,559.6 L318.4,559.6 L318.4,559.6 L319.7,559.6 L319.7,559.7 L321.0,559.7 L321.0,558.8 L322.2,558.8 L322.2,558.8 L323.5,558.8 L323.5,558.8 L324.8,558.8 L324.8,558.7 L326.1,558.7 L326.1,558.9 L327.4,558.9 L327.4,558.4 L328.7,558.4 L328.7,558.3 L330.0,558.3 L330.0,558.0 L331.2,558.0 L331.2,557.4 L332.5,557.4 L332.5,557.3 L333.8,557.3 L333.8,556.8 L335.0,556.8 L335.0,555.8 L336.2,555.8 L336.2,555.1 L337.5,555.1 L337.5,554.8 L338.8,554.8 L338.8,554.4 L340.0,554.4 L340.0,554.4 L341.2,554.4 L341.2,553.3 L342.5,553.3 L342.5,553.1 L343.8,553.1 L343.8,552.6 L345.0,552.6 L345.0,552.0 L346.2,552.0 L346.2,551.9 L347.5,551.9 L347.5,550.7 L348.8,550.7 L348.8,550.7 L350.0,550.7 L350.0,549.9 L351.2,549.9 L351.2,549.1 L352.5,549.1 L352.5,549.1 L353.8,549.1 L353.8,548.8 L355.0,548.8 L355.0,548.0 L356.3,548.0 L356.3,548.2 L357.6,548.2 L357.6,547.9 L358.9,547.9 L358.9,548.9 L360.1,548.9 L360.1,548.5 L361.4,548.5 L361.4,548.8 L362.7,548.8 L362.7,549.1 L364.0,549.1 L364.0,549.0 L365.4,549.0 L365.4,549.0 L366.8,549.0 L366.8,549.4 L368.1,549.4 L368.1,549.6 L369.5,549.6 L369.5,549.6 L370.9,549.6 L370.9,549.9 L372.2,549.9 L372.2,550.7 L373.6,550.7 L373.6,550.7 L375.0,550.7 L375.0,551.0 L376.2,551.0 L376.2,551.7 L377.5,551.7 L377.5,551.4 L378.8,551.4 L378.8,552.1 L380.0,552.1 L380.0,552.4 L381.2,552.4 L381.2,553.5 L382.5,553.5 L382.5,553.8 L383.8,553.8 L383.8,554.3 L385.0,554.3 L385.0,554.3 L386.2,554.3 L386.2,554.4 L387.5,554.4 L387.5,555.1 L388.8,555.1 L388.8,555.3 L390.0,555.3 L390.0,556.0 L391.2,556.0 L391.2,556.2 L392.5,556.2 L392.5,557.2 L393.8,557.2 L393.8,557.6 L395.0,557.6 L395.0,558.0 L396.2,558.0 L396.2,558.9 L397.5,558.9 L397.5,559.9 L398.8,559.9 L398.8,560.5 L400.0,560.5 L400.0,560.6 L401.2,560.6 L401.2,560.9 L402.5,560.9 L402.5,562.1 L403.8,562.1 L403.8,562.1 L405.0,562.1 L405.0,563.0 L406.4,563.0 L406.4,563.7 L407.8,563.7 L407.8,563.9 L409.2,563.9 L409.2,565.3 L410.6,565.3 L410.6,565.5 L411.9,565.5 L411.9,565.5 L413.2,565.5 L413.2,565.3 L414.5,565.3 L414.5,565.1 L415.8,565.1 L415.8,565.3 L417.1,565.3 L417.1,565.6 L418.4,565.6 L418.4,565.1 L419.7,565.1 L419.7,564.8 L421.0,564.8 L421.0,565.1 L422.3,565.1 L422.3,565.4 L423.6,565.4 L423.6,564.8 L424.8,564.8 L424.8,565.0 L426.1,565.0 L426.1,565.2 L427.4,565.2 L427.4,564.6 L428.7,564.6 L428.7,565.0 L430.0,565.0 L430.0,564.7 L431.3,564.7 L431.3,564.3 L432.6,564.3 L432.6,564.1 L433.9,564.1 L433.9,564.9 L435.2,564.9 L435.2,564.4 L436.5,564.4 L436.5,564.3 L437.8,564.3 L437.8,564.3" fill="none" stroke="#6ab04c" stroke-width="1.7" stroke-linejoin="round"/>
<path d="M278.8,566.8 L280.1,566.8 L280.1,567.1 L281.4,567.1 L281.4,566.7 L282.7,566.7 L282.7,566.5 L283.9,566.5 L283.9,566.3 L285.2,566.3 L285.2,566.6 L286.5,566.6 L286.5,566.1 L287.8,566.1 L287.8,566.2 L289.1,566.2 L289.1,566.3 L290.4,566.3 L290.4,566.1 L291.7,566.1 L291.7,565.6 L293.0,565.6 L293.0,565.6 L294.2,565.6 L294.2,565.9 L295.5,565.9 L295.5,565.9 L296.8,565.9 L296.8,565.2 L298.1,565.2 L298.1,565.9 L299.4,565.9 L299.4,565.1 L300.7,565.1 L300.7,565.0 L302.0,565.0 L302.0,564.9 L303.3,564.9 L303.3,565.1 L304.6,565.1 L304.6,565.2 L305.8,565.2 L305.8,565.3 L307.1,565.3 L307.1,564.6 L308.4,564.6 L308.4,565.0 L309.7,565.0 L309.7,564.3 L311.0,564.3 L311.0,564.7 L312.3,564.7 L312.3,564.3 L313.6,564.3 L313.6,564.3 L314.9,564.3 L314.9,563.9 L316.1,563.9 L316.1,564.5 L317.4,564.5 L317.4,563.8 L318.7,563.8 L318.7,564.3 L320.0,564.3 L320.0,564.0 L321.2,564.0 L321.2,563.5 L322.5,563.5 L322.5,563.4 L323.8,563.4 L323.8,563.1 L325.0,563.1 L325.0,562.7 L326.2,562.7 L326.2,562.7 L327.5,562.7 L327.5,562.4 L328.8,562.4 L328.8,561.5 L330.0,561.5 L330.0,561.2 L331.2,561.2 L331.2,561.3 L332.5,561.3 L332.5,560.3 L333.8,560.3 L333.8,560.3 L335.0,560.3 L335.0,560.0 L336.4,560.0 L336.4,559.4 L337.8,559.4 L337.8,559.4 L339.1,559.4 L339.1,558.2 L340.5,558.2 L340.5,558.1 L341.9,558.1 L341.9,557.7 L343.2,557.7 L343.2,557.2 L344.6,557.2 L344.6,556.1 L346.0,556.1 L346.0,556.0 L347.3,556.0 L347.3,556.0 L348.5,556.0 L348.5,555.1 L349.8,555.1 L349.8,555.2 L351.1,555.2 L351.1,554.7 L352.4,554.7 L352.4,554.1 L353.6,554.1 L353.6,554.1 L354.9,554.1 L354.9,553.6 L356.2,553.6 L356.2,552.9 L357.5,552.9 L357.5,552.9 L358.7,552.9 L358.7,552.4 L360.0,552.4 L360.0,552.0 L361.2,552.0 L361.2,551.8 L362.4,551.8 L362.4,551.3 L363.6,551.3 L363.6,551.1 L364.8,551.1 L364.8,550.1 L366.0,550.1 L366.0,550.0 L367.3,550.0 L367.3,550.4 L368.5,550.4 L368.5,550.3 L369.8,550.3 L369.8,551.4 L371.1,551.4 L371.1,551.7 L372.4,551.7 L372.4,552.1 L373.6,552.1 L373.6,551.8 L374.9,551.8 L374.9,552.6 L376.2,552.6 L376.2,552.9 L377.5,552.9 L377.5,552.9 L378.7,552.9 L378.7,553.4 L380.0,553.4 L380.0,554.0 L381.2,554.0 L381.2,554.9 L382.5,554.9 L382.5,555.3 L383.8,555.3 L383.8,555.3 L385.0,555.3 L385.0,556.3 L386.2,556.3 L386.2,556.6 L387.5,556.6 L387.5,556.9 L388.8,556.9 L388.8,557.6 L390.0,557.6 L390.0,557.8 L391.2,557.8 L391.2,558.3 L392.5,558.3 L392.5,558.6 L393.8,558.6 L393.8,559.6 L395.0,559.6 L395.0,560.0 L396.3,560.0 L396.3,560.6 L397.6,560.6 L397.6,561.3 L398.9,561.3 L398.9,561.6 L400.2,561.6 L400.2,562.0 L401.5,562.0 L401.5,562.4 L402.8,562.4 L402.8,563.3 L404.1,563.3 L404.1,563.5 L405.4,563.5 L405.4,564.2 L406.7,564.2 L406.7,564.9 L408.0,564.9 L408.0,565.1 L409.3,565.1 L409.3,565.9 L410.6,565.9 L410.6,566.2 L411.9,566.2 L411.9,565.8 L413.2,565.8 L413.2,566.0 L414.4,566.0 L414.4,566.5 L415.7,566.5 L415.7,565.9 L417.0,565.9 L417.0,565.8 L418.3,565.8 L418.3,565.7 L419.6,565.7 L419.6,566.4 L420.8,566.4 L420.8,565.8 L422.1,565.8 L422.1,566.1 L423.4,566.1 L423.4,566.1 L424.7,566.1 L424.7,566.4 L426.0,566.4 L426.0,566.1 L427.2,566.1 L427.2,566.1 L428.5,566.1 L428.5,565.7 L429.8,565.7 L429.8,566.4 L431.1,566.4 L431.1,566.3 L432.3,566.3 L432.3,566.2 L433.6,566.2 L433.6,566.4 L434.9,566.4 L434.9,566.2 L436.2,566.2 L436.2,566.3 L437.5,566.3 L437.5,566.4 L438.7,566.4 L438.7,566.2 L440.0,566.2 L440.0,565.6 L441.3,565.6 L441.3,566.4 L442.6,566.4 L442.6,566.5 L443.9,566.5 L443.9,565.8 L445.1,565.8 L445.1,565.6 L446.4,565.6 L446.4,565.9 L447.7,565.9 L447.7,566.0" fill="none" stroke="#8a1c1c" stroke-width="1.7" stroke-linejoin="round"/>
<path d="M278.8,566.5 L280.1,566.5 L280.1,566.1 L281.4,566.1 L281.4,566.3 L282.7,566.3 L282.7,566.0 L284.0,566.0 L284.0,566.1 L285.3,566.1 L285.3,565.8 L286.6,565.8 L286.6,566.2 L287.9,566.2 L287.9,566.0 L289.2,566.0 L289.2,566.4 L290.5,566.4 L290.5,566.0 L291.8,566.0 L291.8,565.8 L293.1,565.8 L293.1,566.4 L294.4,566.4 L294.4,566.4 L295.7,566.4 L295.7,566.1 L297.0,566.1 L297.0,565.7 L298.3,565.7 L298.3,565.8 L299.6,565.8 L299.6,565.8 L300.9,565.8 L300.9,565.7 L302.2,565.7 L302.2,565.3 L303.5,565.3 L303.5,565.7 L304.8,565.7 L304.8,565.9 L306.1,565.9 L306.1,565.8 L307.4,565.8 L307.4,565.9 L308.7,565.9 L308.7,565.7 L310.0,565.7 L310.0,565.5 L311.3,565.5 L311.3,565.4 L312.7,565.4 L312.7,565.1 L314.0,565.1 L314.0,564.8 L315.3,564.8 L315.3,564.3 L316.7,564.3 L316.7,563.6 L318.0,563.6 L318.0,563.4 L319.3,563.4 L319.3,563.1 L320.7,563.1 L320.7,562.9 L322.0,562.9 L322.0,562.4 L323.3,562.4 L323.3,561.8 L324.7,561.8 L324.7,561.2 L326.0,561.2 L326.0,560.9 L327.3,560.9 L327.3,560.5 L328.7,560.5 L328.7,560.5 L330.0,560.5 L330.0,560.0 L331.2,560.0 L331.2,559.6 L332.5,559.6 L332.5,558.5 L333.8,558.5 L333.8,558.2 L335.0,558.2 L335.0,557.8 L336.2,557.8 L336.2,556.8 L337.5,556.8 L337.5,555.9 L338.8,555.9 L338.8,555.7 L340.0,555.7 L340.0,555.0 L341.2,555.0 L341.2,553.9 L342.4,553.9 L342.4,552.7 L343.6,552.7 L343.6,551.8 L344.8,551.8 L344.8,550.6 L346.0,550.6 L346.0,550.0 L347.3,550.0 L347.3,549.4 L348.6,549.4 L348.6,549.4 L349.9,549.4 L349.9,548.8 L351.1,548.8 L351.1,548.4 L352.4,548.4 L352.4,548.6 L353.7,548.6 L353.7,548.7 L355.0,548.7 L355.0,548.0 L356.3,548.0 L356.3,547.9 L357.6,547.9 L357.6,547.0 L358.9,547.0 L358.9,547.1 L360.1,547.1 L360.1,545.9 L361.4,545.9 L361.4,545.5 L362.7,545.5 L362.7,545.0 L364.0,545.0 L364.0,545.0 L365.3,545.0 L365.3,544.9 L366.7,544.9 L366.7,545.8 L368.0,545.8 L368.0,546.0 L369.4,546.0 L369.4,546.8 L370.8,546.8 L370.8,547.2 L372.2,547.2 L372.2,548.1 L373.6,548.1 L373.6,548.4 L375.0,548.4 L375.0,549.0 L376.2,549.0 L376.2,549.9 L377.5,549.9 L377.5,550.1 L378.8,550.1 L378.8,550.5 L380.0,550.5 L380.0,550.7 L381.2,550.7 L381.2,551.4 L382.5,551.4 L382.5,551.9 L383.8,551.9 L383.8,552.8 L385.0,552.8 L385.0,553.0 L386.2,553.0 L386.2,553.4 L387.5,553.4 L387.5,554.1 L388.8,554.1 L388.8,555.2 L390.0,555.2 L390.0,555.1 L391.2,555.1 L391.2,556.2 L392.5,556.2 L392.5,556.5 L393.8,556.5 L393.8,557.5 L395.0,557.5 L395.0,558.0 L396.2,558.0 L396.2,558.7 L397.5,558.7 L397.5,558.9 L398.8,558.9 L398.8,560.1 L400.0,560.1 L400.0,560.4 L401.2,560.4 L401.2,561.0 L402.5,561.0 L402.5,562.1 L403.8,562.1 L403.8,562.6 L405.0,562.6 L405.0,563.0 L406.4,563.0 L406.4,563.6 L407.8,563.6 L407.8,564.7 L409.2,564.7 L409.2,564.9 L410.6,564.9 L410.6,566.0 L411.9,566.0 L411.9,566.0 L413.2,566.0 L413.2,565.6 L414.5,565.6 L414.5,566.1 L415.8,566.1 L415.8,566.3 L417.1,566.3 L417.1,566.0 L418.4,566.0 L418.4,565.4 L419.7,565.4 L419.7,565.8 L421.0,565.8 L421.0,565.8 L422.3,565.8 L422.3,565.7 L423.6,565.7 L423.6,565.4 L424.8,565.4 L424.8,565.5 L426.1,565.5 L426.1,565.7 L427.4,565.7 L427.4,565.3 L428.7,565.3 L428.7,565.8 L430.0,565.8 L430.0,565.4 L431.3,565.4 L431.3,565.4 L432.6,565.4 L432.6,565.2 L433.9,565.2 L433.9,565.4 L435.2,565.4 L435.2,565.9 L436.5,565.9 L436.5,565.3 L437.8,565.3 L437.8,565.5" fill="none" stroke="#d42a1e" stroke-width="1.7" stroke-linejoin="round"/>
<path d="M278.8,566.5 L280.1,566.5 L280.1,566.1 L281.4,566.1 L281.4,566.3 L282.8,566.3 L282.8,566.8 L284.1,566.8 L284.1,566.0 L285.4,566.0 L285.4,566.2 L286.7,566.2 L286.7,566.1 L288.1,566.1 L288.1,566.5 L289.4,566.5 L289.4,566.3 L290.7,566.3 L290.7,565.9 L292.0,565.9 L292.0,566.6 L293.3,566.6 L293.3,566.1 L294.7,566.1 L294.7,566.4 L296.0,566.4 L296.0,566.1 L297.3,566.1 L297.3,566.5 L298.6,566.5 L298.6,565.7 L300.0,565.7 L300.0,565.8 L301.3,565.8 L301.3,565.9 L302.6,565.9 L302.6,565.8 L303.9,565.8 L303.9,566.3 L305.2,566.3 L305.2,566.0 L306.6,566.0 L306.6,565.8 L307.9,565.8 L307.9,565.9 L309.2,565.9 L309.2,566.2 L310.5,566.2 L310.5,565.9 L311.9,565.9 L311.9,565.8 L313.2,565.8 L313.2,566.0 L314.5,566.0 L314.5,565.8 L314.5,555.8 L315.8,555.8 L315.8,555.6 L317.1,555.6 L317.1,555.0 L318.4,555.0 L318.4,554.7 L319.8,554.7 L319.8,554.1 L321.1,554.1 L321.1,554.1 L322.4,554.1 L322.4,554.1 L323.7,554.1 L323.7,553.3 L325.0,553.3 L325.0,553.1 L326.3,553.1 L326.3,551.8 L327.6,551.8 L327.6,550.9 L329.0,550.9 L329.0,549.7 L330.3,549.7 L330.3,548.2 L331.6,548.2 L331.6,547.3 L333.0,547.3 L333.0,546.4 L334.3,546.4 L334.3,544.6 L335.6,544.6 L335.6,543.9 L336.9,543.9 L336.9,538.5 L338.2,538.5 L338.2,534.0 L339.6,534.0 L339.6,529.1 L340.9,529.1 L340.9,523.2 L342.2,523.2 L342.2,518.2 L343.5,518.2 L343.5,513.5 L344.8,513.5 L344.8,512.3 L346.1,512.3 L346.1,510.7 L347.4,510.7 L347.4,509.7 L348.8,509.7 L348.8,507.8 L350.1,507.8 L350.1,506.9 L351.4,506.9 L351.4,505.3 L352.7,505.3 L352.7,504.2 L354.0,504.2 L354.0,503.0 L355.3,503.0 L355.3,502.0 L356.7,502.0 L356.7,500.7 L358.0,500.7 L358.0,499.8 L359.3,499.8 L359.3,498.6 L360.7,498.6 L360.7,497.2 L362.0,497.2 L362.0,496.2 L363.3,496.2 L363.3,494.5 L364.7,494.5 L364.7,493.6 L366.0,493.6 L366.0,492.4 L367.4,492.4 L367.4,492.4 L368.7,492.4 L368.7,493.7 L369.9,493.7 L369.9,495.4 L371.2,495.4 L371.2,496.4 L372.4,496.4 L372.4,498.5 L373.7,498.5 L373.7,499.5 L375.0,499.5 L375.0,501.3 L376.2,501.3 L376.2,502.9 L377.5,502.9 L377.5,503.9 L378.8,503.9 L378.8,505.7 L380.0,505.7 L380.0,506.7 L381.3,506.7 L381.3,508.5 L382.6,508.5 L382.6,510.1 L383.8,510.1 L383.8,510.8 L385.1,510.8 L385.1,512.7 L386.3,512.7 L386.3,514.2 L387.6,514.2 L387.6,515.4 L388.8,515.4 L388.8,518.2 L390.0,518.2 L390.0,521.0 L391.2,521.0 L391.2,523.8 L392.4,523.8 L392.4,526.9 L393.6,526.9 L393.6,530.2 L394.8,530.2 L394.8,532.7 L396.0,532.7 L396.0,535.5 L397.2,535.5 L397.2,538.2 L398.4,538.2 L398.4,541.5 L399.6,541.5 L399.6,544.2 L400.8,544.2 L400.8,547.2 L402.0,547.2 L402.0,550.0 L403.2,550.0 L403.2,552.1 L404.5,552.1 L404.5,554.1 L405.7,554.1 L405.7,556.0 L406.9,556.0 L406.9,558.9 L408.1,558.9 L408.1,560.9 L409.4,560.9 L409.4,562.6 L410.6,562.6 L410.6,565.0 L411.8,565.0 L411.8,565.0 L413.1,565.0 L413.1,565.1 L414.3,565.1 L414.3,565.0 L415.5,565.0 L415.5,565.0 L416.8,565.0 L416.8,565.0 L418.1,565.0 L418.1,564.6 L419.4,564.6 L419.4,563.8 L420.8,563.8 L420.8,563.5 L422.1,563.5 L422.1,563.4 L423.4,563.4 L423.4,563.0 L424.7,563.0 L424.7,562.4 L426.0,562.4 L426.0,562.7 L427.3,562.7 L427.3,561.6 L428.6,561.6 L428.6,561.7 L430.0,561.7 L430.0,561.2 L431.3,561.2 L431.3,561.1 L432.6,561.1 L432.6,560.3 L433.9,560.3 L433.9,560.4 L435.2,560.4 L435.2,560.4 L436.5,560.4 L436.5,561.2 L437.8,561.2 L437.8,561.0 L437.8,564.0 L439.0,564.0 L439.0,564.3 L440.3,564.3 L440.3,563.7 L441.5,563.7 L441.5,564.0 L442.8,564.0 L442.8,563.6 L444.0,563.6 L444.0,563.7 L445.2,563.7 L445.2,563.7 L446.5,563.7 L446.5,564.4 L447.7,564.4 L447.7,564.0" fill="none" stroke="#5b8ee0" stroke-width="1.7" stroke-linejoin="round"/>
<path d="M278.8,566.0 L280.1,566.0 L280.1,565.8 L281.4,565.8 L281.4,565.7 L282.8,565.7 L282.8,565.6 L284.1,565.6 L284.1,565.6 L285.4,565.6 L285.4,566.4 L286.7,566.4 L286.7,566.1 L288.1,566.1 L288.1,566.2 L289.4,566.2 L289.4,566.2 L290.7,566.2 L290.7,566.1 L292.0,566.1 L292.0,565.6 L293.3,565.6 L293.3,565.5 L294.7,565.5 L294.7,565.6 L296.0,565.6 L296.0,565.4 L297.3,565.4 L297.3,565.4 L298.6,565.4 L298.6,565.9 L300.0,565.9 L300.0,565.7 L301.3,565.7 L301.3,565.2 L302.6,565.2 L302.6,565.5 L303.9,565.5 L303.9,566.0 L305.2,566.0 L305.2,565.9 L306.6,565.9 L306.6,565.8 L307.9,565.8 L307.9,565.8 L309.2,565.8 L309.2,565.9 L310.5,565.9 L310.5,565.6 L311.9,565.6 L311.9,565.4 L313.2,565.4 L313.2,565.6 L314.5,565.6 L314.5,565.5 L315.0,565.5 L315.0,529.4 L316.2,529.4 L316.2,529.2 L317.4,529.2 L317.4,529.0 L318.6,529.0 L318.6,529.2 L319.8,529.2 L319.8,529.4 L321.0,529.4 L321.0,529.4 L321.0,514.0 L322.3,514.0 L322.3,513.2 L323.7,513.2 L323.7,512.6 L325.0,512.6 L325.0,512.3 L326.3,512.3 L326.3,511.9 L327.7,511.9 L327.7,512.0 L329.0,512.0 L329.0,511.1 L330.3,511.1 L330.3,510.9 L331.7,510.9 L331.7,510.3 L333.0,510.3 L333.0,509.6 L334.3,509.6 L334.3,489.8 L335.6,489.8 L335.6,489.3 L336.9,489.3 L336.9,488.5 L338.3,488.5 L338.3,488.0 L339.6,488.0 L339.6,487.4 L340.9,487.4 L340.9,487.0 L342.2,487.0 L342.2,479.6 L343.5,479.6 L343.5,472.2 L344.9,472.2 L344.9,464.6 L346.2,464.6 L346.2,456.8 L347.5,456.8 L347.5,454.7 L348.8,454.7 L348.8,452.6 L350.2,452.6 L350.2,450.5 L351.5,450.5 L351.5,449.0 L352.8,449.0 L352.8,447.0 L354.4,447.0 L354.4,462.1 L355.7,462.1 L355.7,461.9 L356.9,461.9 L356.9,461.7 L358.2,461.7 L358.2,461.9 L359.5,461.9 L359.5,461.9 L360.8,461.9 L360.8,461.8 L362.0,461.8 L362.0,462.2 L363.3,462.2 L363.3,462.1 L364.6,462.1 L364.6,448.0 L366.5,448.0 L366.5,447.7 L367.6,447.7 L367.6,457.2 L368.8,457.2 L368.8,466.5 L370.0,466.5 L370.0,467.9 L371.3,467.9 L371.3,470.0 L372.5,470.0 L372.5,471.2 L373.8,471.2 L373.8,473.5 L375.0,473.5 L375.0,474.4 L376.3,474.4 L376.3,476.4 L377.5,476.4 L377.5,478.0 L378.7,478.0 L378.7,481.5 L380.0,481.5 L380.0,484.8 L381.2,484.8 L381.2,487.8 L382.4,487.8 L382.4,491.5 L383.6,491.5 L383.6,494.5 L384.9,494.5 L384.9,497.9 L386.1,497.9 L386.1,501.0 L387.3,501.0 L387.3,503.1 L388.6,503.1 L388.6,505.7 L389.8,505.7 L389.8,508.4 L391.1,508.4 L391.1,510.9 L392.3,510.9 L392.3,513.0 L393.6,513.0 L393.6,516.0 L394.8,516.0 L394.8,518.3 L396.2,518.3 L396.2,522.5 L397.6,522.5 L397.6,526.9 L399.1,526.9 L399.1,531.3 L400.5,531.3 L400.5,535.6 L401.9,535.6 L401.9,540.2 L403.4,540.2 L403.4,544.1 L404.9,544.1 L404.9,548.6 L406.3,548.6 L406.3,552.9 L407.7,552.9 L407.7,557.0 L409.2,557.0 L409.2,561.1 L410.6,561.1 L410.6,565.0 L411.8,565.0 L411.8,563.8 L413.1,563.8 L413.1,562.8 L414.3,562.8 L414.3,562.0 L415.5,562.0 L415.5,561.0 L416.8,561.0 L416.8,560.3 L418.1,560.3 L418.1,559.6 L419.4,559.6 L419.4,558.4 L420.8,558.4 L420.8,557.9 L422.1,557.9 L422.1,557.2 L423.4,557.2 L423.4,556.4 L424.7,556.4 L424.7,556.1 L426.0,556.1 L426.0,555.9 L427.3,555.9 L427.3,556.6 L428.6,556.6 L428.6,555.8 L429.9,555.8 L429.9,556.1 L431.3,556.1 L431.3,555.9 L432.6,555.9 L432.6,555.6 L433.9,555.6 L433.9,555.8 L435.2,555.8 L435.2,555.6 L436.5,555.6 L436.5,555.8 L437.8,555.8 L437.8,555.8 L437.8,563.0 L439.0,563.0 L439.0,563.4 L440.3,563.4 L440.3,562.6 L441.5,562.6 L441.5,562.9 L442.8,562.9 L442.8,563.2 L444.0,563.2 L444.0,563.1 L445.2,563.1 L445.2,562.6 L446.5,562.6 L446.5,562.8 L447.7,562.8 L447.7,563.0" fill="none" stroke="#18477f" stroke-width="1.7" stroke-linejoin="round"/>
<path d="M278.8,566.3 L280.1,566.3 L280.1,566.1 L281.4,566.1 L281.4,566.6 L282.8,566.6 L282.8,566.2 L284.1,566.2 L284.1,566.0 L285.4,566.0 L285.4,566.1 L286.7,566.1 L286.7,566.1 L288.1,566.1 L288.1,565.8 L289.4,565.8 L289.4,566.2 L290.7,566.2 L290.7,566.2 L292.0,566.2 L292.0,566.0 L293.3,566.0 L293.3,566.0 L294.7,566.0 L294.7,566.2 L296.0,566.2 L296.0,566.3 L297.3,566.3 L297.3,566.0 L298.6,566.0 L298.6,565.4 L300.0,565.4 L300.0,565.8 L301.3,565.8 L301.3,565.9 L302.6,565.9 L302.6,565.6 L303.9,565.6 L303.9,565.9 L305.2,565.9 L305.2,565.6 L306.6,565.6 L306.6,565.8 L307.9,565.8 L307.9,565.8 L309.2,565.8 L309.2,565.8 L310.5,565.8 L310.5,566.0 L311.9,566.0 L311.9,565.7 L313.2,565.7 L313.2,565.7 L314.5,565.7 L314.5,565.5 L314.5,543.9 L315.8,543.9 L315.8,543.6 L317.1,543.6 L317.1,542.7 L318.4,542.7 L318.4,542.5 L319.8,542.5 L319.8,542.1 L321.1,542.1 L321.1,541.1 L322.4,541.1 L322.4,541.2 L323.7,541.2 L323.7,540.2 L325.0,540.2 L325.0,540.0 L326.3,540.0 L326.3,537.8 L327.7,537.8 L327.7,535.6 L329.0,535.6 L329.0,533.5 L330.3,533.5 L330.3,531.4 L331.7,531.4 L331.7,528.9 L333.0,528.9 L333.0,526.7 L334.3,526.7 L334.3,522.7 L335.6,522.7 L335.6,517.8 L336.9,517.8 L336.9,513.6 L338.3,513.6 L338.3,509.5 L339.6,509.5 L339.6,504.5 L340.9,504.5 L340.9,500.3 L342.2,500.3 L342.2,496.5 L343.5,496.5 L343.5,492.8 L344.9,492.8 L344.9,488.1 L346.2,488.1 L346.2,484.5 L347.5,484.5 L347.5,483.8 L348.8,483.8 L348.8,482.7 L350.1,482.7 L350.1,481.6 L351.4,481.6 L351.4,480.8 L352.8,480.8 L352.8,479.9 L354.1,479.9 L354.1,478.3 L355.4,478.3 L355.4,477.6 L356.7,477.6 L356.7,476.6 L357.3,476.6 L357.3,475.1 L358.5,475.1 L358.5,474.2 L359.8,474.2 L359.8,473.3 L361.0,473.3 L361.0,472.5 L362.3,472.5 L362.3,471.4 L363.5,471.4 L363.5,470.4 L364.8,470.4 L364.8,468.7 L366.0,468.7 L366.0,468.1 L367.4,468.1 L367.4,467.9 L368.7,467.9 L368.7,469.7 L370.0,469.7 L370.0,471.9 L371.3,471.9 L371.3,473.8 L372.6,473.8 L372.6,475.2 L373.8,475.2 L373.8,477.6 L375.1,477.6 L375.1,479.3 L376.3,479.3 L376.3,481.8 L377.5,481.8 L377.5,483.7 L378.7,483.7 L378.7,486.2 L380.0,486.2 L380.0,488.8 L381.2,488.8 L381.2,491.2 L382.4,491.2 L382.4,493.9 L383.6,493.9 L383.6,496.2 L384.9,496.2 L384.9,499.0 L386.1,499.0 L386.1,501.0 L387.6,501.0 L387.6,504.6 L389.0,504.6 L389.0,508.2 L390.4,508.2 L390.4,511.9 L391.9,511.9 L391.9,515.4 L393.3,515.4 L393.3,519.1 L394.8,519.1 L394.8,522.2 L396.2,522.2 L396.2,526.7 L397.6,526.7 L397.6,529.9 L399.1,529.9 L399.1,533.3 L400.5,533.3 L400.5,537.1 L401.9,537.1 L401.9,540.3 L403.4,540.3 L403.4,544.3 L404.6,544.3 L404.6,547.5 L405.8,547.5 L405.8,551.6 L407.0,551.6 L407.0,554.4 L408.2,554.4 L408.2,557.9 L409.4,557.9 L409.4,561.8 L410.6,561.8 L410.6,565.0 L411.8,565.0 L411.8,564.0 L413.1,564.0 L413.1,563.7 L414.3,563.7 L414.3,562.8 L415.5,562.8 L415.5,562.0 L416.8,562.0 L416.8,561.7 L418.1,561.7 L418.1,560.6 L419.4,560.6 L419.4,559.8 L420.8,559.8 L420.8,559.1 L422.1,559.1 L422.1,558.5 L423.4,558.5 L423.4,558.0 L424.7,558.0 L424.7,557.5 L426.0,557.5 L426.0,557.6 L427.3,557.6 L427.3,557.5 L428.6,557.5 L428.6,557.7 L429.9,557.7 L429.9,558.0 L431.3,558.0 L431.3,558.1 L432.6,558.1 L432.6,557.6 L433.9,557.6 L433.9,557.4 L435.2,557.4 L435.2,557.4 L436.5,557.4 L436.5,557.7 L437.8,557.7 L437.8,557.5 L437.8,563.0 L439.0,563.0 L439.0,563.0 L440.3,563.0 L440.3,562.7 L441.5,562.7 L441.5,563.0 L442.8,563.0 L442.8,562.8 L444.0,562.8 L444.0,562.7 L445.2,562.7 L445.2,563.3 L446.5,563.3 L446.5,562.6 L447.7,562.6 L447.7,563.0" fill="none" stroke="#1f6ec2" stroke-width="1.7" stroke-linejoin="round"/>
<path d="M278.8,566.0 L280.1,566.0 L280.1,565.5 L281.5,565.5 L281.5,565.3 L282.8,565.3 L282.8,564.7 L284.1,564.7 L284.1,564.5 L285.4,564.5 L285.4,563.6 L286.8,563.6 L286.8,563.7 L288.1,563.7 L288.1,562.4 L289.4,562.4 L289.4,562.7 L290.7,562.7 L290.7,561.8 L292.1,561.8 L292.1,561.0 L293.4,561.0 L293.4,561.0 L294.7,561.0 L294.7,560.6 L296.0,560.6 L296.0,561.1 L297.3,561.1 L297.3,560.6 L298.7,560.6 L298.7,560.5 L300.0,560.5 L300.0,560.4 L301.3,560.4 L301.3,559.4 L302.6,559.4 L302.6,559.5 L303.9,559.5 L303.9,559.5 L305.2,559.5 L305.2,559.7 L306.5,559.7 L306.5,559.5 L307.9,559.5 L307.9,558.6 L309.2,558.6 L309.2,559.2 L310.5,559.2 L310.5,558.6 L311.8,558.6 L311.8,558.4 L313.1,558.4 L313.1,547.7 L314.5,547.7 L314.5,537.3 L315.8,537.3 L315.8,536.3 L317.1,536.3 L317.1,535.9 L318.4,535.9 L318.4,535.3 L319.8,535.3 L319.8,534.6 L321.1,534.6 L321.1,533.8 L322.4,533.8 L322.4,533.7 L323.7,533.7 L323.7,532.6 L325.0,532.6 L325.0,532.0 L326.3,532.0 L326.3,527.2 L327.6,527.2 L327.6,523.0 L329.0,523.0 L329.0,517.9 L330.3,517.9 L330.3,513.5 L331.6,513.5 L331.6,508.8 L333.0,508.8 L333.0,503.9 L334.3,503.9 L334.3,499.4 L335.6,499.4 L335.6,495.0 L336.9,495.0 L336.9,491.5 L338.2,491.5 L338.2,487.2 L339.6,487.2 L339.6,483.2 L340.9,483.2 L340.9,479.2 L342.2,479.2 L342.2,472.8 L343.5,472.8 L343.5,466.2 L344.9,466.2 L344.9,459.4 L346.2,459.4 L346.2,452.8 L347.5,452.8 L347.5,449.4 L348.8,449.4 L348.8,445.9 L350.1,445.9 L350.1,442.5 L351.4,442.5 L351.4,439.6 L352.7,439.6 L352.7,438.4 L354.1,438.4 L354.1,437.7 L355.4,437.7 L355.4,436.5 L356.7,436.5 L356.7,436.2 L358.1,436.2 L358.1,435.0 L359.4,435.0 L359.4,434.3 L360.7,434.3 L360.7,432.3 L362.0,432.3 L362.0,430.7 L363.4,430.7 L363.4,429.1 L364.7,429.1 L364.7,427.1 L366.0,427.1 L366.0,425.6 L367.3,425.6 L367.3,427.5 L368.6,427.5 L368.6,428.8 L369.9,428.8 L369.9,430.4 L371.7,430.4 L371.7,434.8 L373.1,434.8 L373.1,438.7 L374.6,438.7 L374.6,443.0 L376.1,443.0 L376.1,448.1 L377.5,448.1 L377.5,452.0 L378.9,452.0 L378.9,457.1 L380.4,457.1 L380.4,461.9 L381.8,461.9 L381.8,467.3 L383.2,467.3 L383.2,472.2 L384.7,472.2 L384.7,474.7 L386.1,474.7 L386.1,478.4 L387.6,478.4 L387.6,480.9 L388.8,480.9 L388.8,485.6 L390.0,485.6 L390.0,489.7 L391.2,489.7 L391.2,493.4 L392.4,493.4 L392.4,498.1 L393.6,498.1 L393.6,502.8 L394.8,502.8 L394.8,506.8 L396.2,506.8 L396.2,511.2 L397.6,511.2 L397.6,515.2 L399.1,515.2 L399.1,519.5 L400.5,519.5 L400.5,524.1 L401.9,524.1 L401.9,529.5 L403.4,529.5 L403.4,535.6 L404.9,535.6 L404.9,541.1 L406.3,541.1 L406.3,547.1 L407.7,547.1 L407.7,552.8 L409.2,552.8 L409.2,559.0 L410.6,559.0 L410.6,564.4 L411.8,564.4 L411.8,563.3 L413.1,563.3 L413.1,561.4 L414.3,561.4 L414.3,560.2 L415.5,560.2 L415.5,558.4 L416.8,558.4 L416.8,556.4 L418.1,556.4 L418.1,555.1 L419.4,555.1 L419.4,555.2 L420.8,555.2 L420.8,554.8 L422.1,554.8 L422.1,554.1 L423.4,554.1 L423.4,553.8 L424.7,553.8 L424.7,554.1 L426.0,554.1 L426.0,553.5 L427.3,553.5 L427.3,554.0 L428.6,554.0 L428.6,553.4 L429.9,553.4 L429.9,553.9 L431.3,553.9 L431.3,553.7 L432.6,553.7 L432.6,553.7 L433.9,553.7 L433.9,553.5 L435.2,553.5 L435.2,552.8 L436.5,552.8 L436.5,553.0 L437.8,553.0 L437.8,553.1 L437.8,562.3 L439.0,562.3 L439.0,562.4 L440.3,562.4 L440.3,562.5 L441.5,562.5 L441.5,562.2 L442.8,562.2 L442.8,561.6 L444.0,561.6 L444.0,561.8 L445.2,561.8 L445.2,561.7 L446.5,561.7 L446.5,561.5 L447.7,561.5 L447.7,561.7" fill="none" stroke="#55b4f8" stroke-width="1.7" stroke-linejoin="round"/>
<line x1="230" y1="566.8" x2="243" y2="566.8" stroke="#c8c8c8" stroke-width="0.8"/>
<line x1="447.7" y1="566.9" x2="455.6" y2="566.9" stroke="#d0d0d0" stroke-width="0.8"/>
<rect x="40.2" y="573.3" width="168.7" height="13.8" fill="#d3d3d3"/>
<text x="121.4" y="583.3" font-size="8.1" font-weight="bold" font-style="italic" fill="#000" text-anchor="middle" textLength="49" lengthAdjust="spacingAndGlyphs">TbIncRNA-23</text>
<text x="121.2" y="603" font-size="9.2" font-weight="bold" fill="#000" text-anchor="middle" textLength="66.4" lengthAdjust="spacingAndGlyphs">chromosome 6</text>
<rect x="270.1" y="571.9" width="169.9" height="13.2" fill="#d3d3d3"/>
<text x="351.4" y="581.6" font-size="8.1" font-weight="bold" font-style="italic" fill="#000" text-anchor="middle" textLength="49" lengthAdjust="spacingAndGlyphs">TbIncRNA-23</text>
<text x="362" y="606.6" font-size="9.2" font-weight="bold" fill="#000" text-anchor="middle" textLength="71.2" lengthAdjust="spacingAndGlyphs">chromosome 10</text>
<text x="434.3" y="313" font-size="19.4" font-weight="bold" fill="#000">C</text>
<defs>
<filter id="grain" x="0" y="0" width="100%" height="100%"><feTurbulence type="fractalNoise" baseFrequency="0.9" numOctaves="1" seed="3"/><feColorMatrix type="matrix" values="0 0 0 0 0.5  0 0 0 0 0.5  0 0 0 0 0.5  0 0 0 0.25 0"/><feComposite in2="SourceGraphic" operator="in"/></filter>
<filter id="blur1"><feGaussianBlur stdDeviation="0.8"/></filter>
<filter id="blur2"><feGaussianBlur stdDeviation="1.2"/></filter>
</defs>
<linearGradient id="gelg" x1="0" y1="0" x2="1" y2="0"><stop offset="0" stop-color="#bdbdbd"/><stop offset="0.3" stop-color="#cdcdcd"/><stop offset="1" stop-color="#d7d7d7"/></linearGradient>
<filter id="noise" x="0" y="0" width="100%" height="100%"><feTurbulence type="fractalNoise" baseFrequency="1.1" numOctaves="2" seed="7"/><feColorMatrix type="matrix" values="0 0 0 0 0  0 0 0 0 0  0 0 0 0 0  0.45 0 0 0 -0.17"/><feComposite in2="SourceGraphic" operator="in"/></filter>
<rect x="548" y="353.6" width="81.8" height="41.6" fill="url(#gelg)"/>
<rect x="548" y="353.6" width="81.8" height="41.6" fill="#000" filter="url(#noise)"/>
<rect x="548.3" y="399.5" width="82" height="34.6" fill="#e8e8e8"/>
<rect x="548" y="353.6" width="81.8" height="41.6" fill="none" stroke="#555" stroke-width="0.9" stroke-dasharray="2.6,2"/>
<rect x="548.3" y="399.5" width="82" height="34.6" fill="none" stroke="#555" stroke-width="0.9" stroke-dasharray="2.6,2"/>
<rect x="553.2" y="361.29999999999995" width="16.6" height="4.2" rx="2" fill="#000" filter="url(#blur1)"/>
<rect x="553.2" y="373.2" width="16.6" height="4.2" rx="2" fill="#000" filter="url(#blur1)"/>
<rect x="553.2" y="385.7" width="16.6" height="4.2" rx="2" fill="#000" filter="url(#blur1)"/>
<ellipse cx="587.5" cy="365" rx="6.5" ry="2" fill="#999" filter="url(#blur2)"/>
<ellipse cx="588.2" cy="419.4" rx="7.2" ry="1.7" fill="#4a4a4a" filter="url(#blur1)"/>
<ellipse cx="612.8" cy="420.1" rx="7.4" ry="2" fill="#111" filter="url(#blur1)"/>
<text x="561" y="350" font-size="10" font-weight="bold" fill="#000" text-anchor="middle">M</text>
<text x="586.5" y="350" font-size="10" font-weight="bold" fill="#000" text-anchor="middle">PCF</text>
<text x="612.3" y="350" font-size="10" font-weight="bold" fill="#000" text-anchor="middle">BSF</text>
<text x="457.8" y="364.8" font-size="9.3" font-weight="bold" font-style="italic" fill="#000" textLength="55.5" lengthAdjust="spacingAndGlyphs">TbIncRNA-23</text>
<text x="523.2" y="365.3" font-size="7.8" font-weight="bold" fill="#000" textLength="24.4" lengthAdjust="spacingAndGlyphs">500nt -</text>
<path d="M518.3,363.2 q1.1,-1.6 2.3,-0.3 q1.2,1.3 2.3,-0.3" fill="none" stroke="#000" stroke-width="0.9"/>
<text x="475.5" y="418.8" font-size="8.6" font-weight="bold" font-style="italic" fill="#000" textLength="37.9" lengthAdjust="spacingAndGlyphs">7SL RNA</text>
<text x="522.8" y="418.3" font-size="7.8" font-weight="bold" fill="#000" textLength="24.5" lengthAdjust="spacingAndGlyphs">261nt -</text>
<text x="5.0" y="638.4" font-size="19.4" font-weight="bold" fill="#000">D</text>
<rect x="28.3" y="652.7" width="183.6" height="174" fill="#000"/>
<rect x="216" y="652.9" width="184.7" height="175.6" fill="#000"/>
<path d="M78.0,690.8 C76.5,689.7 71.5,686.3 68.7,684.4 C65.9,682.5 63.4,681.0 61.0,679.3 C58.6,677.6 56.5,675.2 54.4,674.2 C52.3,673.2 50.3,672.8 48.5,673.2 C46.7,673.6 44.6,674.9 43.5,676.5 C42.4,678.1 41.9,680.7 41.6,683.0 C41.4,685.3 41.4,687.8 42.0,690.5 C42.6,693.2 43.7,696.7 45.2,699.2 C46.8,701.7 49.1,703.3 51.3,705.3 C53.5,707.3 56.1,709.2 58.5,711.0 C60.9,712.8 61.9,713.3 65.4,716.1 C68.9,718.9 75.9,724.5 79.4,727.7 C82.9,730.9 84.4,733.3 86.5,735.5 C88.6,737.7 90.3,738.7 92.0,740.9 C93.7,743.1 95.2,746.2 96.6,748.8 C98.0,751.4 99.3,754.1 100.6,756.7 C101.9,759.3 103.3,761.9 104.5,764.6 C105.7,767.4 106.7,770.3 107.8,773.2 C108.9,776.1 110.0,778.9 111.1,781.8 C112.2,784.7 112.9,787.9 114.4,790.4 C115.9,792.9 118.0,795.5 120.3,797.0 C122.6,798.5 125.6,798.7 128.3,799.6 C131.1,800.5 134.0,801.9 136.8,802.6 C139.7,803.3 142.4,803.8 145.4,804.0 C148.4,804.2 151.5,804.2 154.6,803.6 C157.7,803.0 161.1,801.8 163.9,800.3 C166.7,798.8 169.5,796.6 171.2,794.3 C172.8,792.0 173.5,789.1 173.8,786.4 C174.1,783.6 173.7,780.8 173.1,777.8 C172.5,774.8 171.8,771.2 170.5,768.6 C169.2,766.0 167.1,764.2 165.2,762.0 C163.3,759.8 161.1,757.8 159.3,755.4 C157.5,753.0 156.2,750.1 154.6,747.5 C153.0,744.9 151.8,742.1 150.0,739.6 C148.2,737.1 146.1,734.6 144.1,732.3 C142.1,730.0 140.2,728.0 138.2,725.7 C136.2,723.4 134.3,720.6 132.2,718.5 C130.1,716.4 128.0,714.1 125.6,712.8 C123.2,711.5 120.5,711.1 117.7,710.6 C114.9,710.1 111.7,710.0 108.5,709.9 C105.3,709.8 101.9,709.9 98.8,709.7 C95.7,709.5 93.1,709.2 90.1,708.9 C87.1,708.6 83.8,708.5 80.9,707.9 C78.0,707.3 75.3,706.3 72.6,705.1 C69.9,703.9 67.3,702.5 64.9,700.7 C62.5,699.0 59.7,696.5 58.0,694.6 C56.3,692.7 55.0,691.0 54.5,689.5 C54.0,688.0 54.2,686.5 55.0,685.5 C55.8,684.5 57.2,683.4 59.3,683.6 C61.4,683.8 64.6,685.7 67.7,686.9 C70.8,688.1 76.3,690.1 78.0,690.8" fill="none" stroke="#eee" stroke-width="1.6" stroke-dasharray="5.2,3.6"/>
<path d="M381.3,767.5 C380.3,767.9 377.5,768.7 375.4,769.8 C373.2,770.9 371.1,772.2 368.4,773.9 C365.7,775.5 361.9,777.8 359.0,779.7 C356.1,781.6 353.4,784.1 350.9,785.5 C348.4,786.9 346.0,787.6 343.9,787.9 C341.8,788.2 339.7,788.1 338.0,787.3 C336.3,786.5 334.8,785.6 333.9,783.2 C333.0,780.8 332.9,777.0 332.8,772.7 C332.7,768.4 333.1,762.1 333.4,757.5 C333.7,752.9 334.3,749.5 334.5,745.0 C334.7,740.5 335.3,734.8 334.5,730.8 C333.7,726.8 332.1,724.5 329.7,721.3 C327.3,718.1 323.8,714.8 320.3,711.8 C316.8,708.8 313.0,705.7 308.9,703.3 C304.8,700.9 300.0,698.8 295.6,697.6 C291.2,696.4 288.0,696.0 282.3,696.1 C276.6,696.2 268.0,697.1 261.4,698.5 C254.8,699.9 247.9,702.0 242.5,704.2 C237.1,706.4 232.7,709.1 229.2,711.8 C225.7,714.5 223.3,717.4 221.6,720.4 C219.8,723.4 219.0,726.6 218.7,729.8 C218.4,732.9 219.2,736.8 219.7,739.3 C220.2,741.8 220.6,743.8 221.6,745.0 C222.6,746.2 223.8,746.7 225.4,746.4 C227.0,746.1 228.9,744.6 231.1,743.1 C233.3,741.6 235.8,738.9 238.7,737.4 C241.5,735.9 244.4,734.8 248.2,734.0 C252.0,733.2 256.0,732.9 261.4,732.7 C266.8,732.5 274.7,732.4 280.4,732.7 C286.1,733.0 291.2,733.3 295.6,734.6 C300.0,735.9 303.8,738.1 307.0,740.3 C310.2,742.5 312.6,745.0 314.6,747.9 C316.6,750.8 317.7,754.3 318.8,757.5 C319.9,760.7 320.6,764.0 321.1,766.9 C321.6,769.8 321.5,771.9 321.7,775.0 C321.9,778.1 321.7,782.6 322.3,785.5 C322.9,788.4 323.9,790.8 325.2,792.6 C326.5,794.4 328.1,795.3 329.9,796.1 C331.6,796.9 333.2,797.5 335.7,797.2 C338.2,796.9 341.9,795.5 345.0,794.3 C348.1,793.1 351.3,792.1 354.4,790.2 C357.5,788.4 360.6,785.5 363.7,783.2 C366.8,780.9 370.4,778.4 373.1,776.2 C375.8,774.0 378.7,771.2 380.1,769.8 C381.5,768.3 381.1,767.9 381.3,767.5" fill="none" stroke="#eee" stroke-width="1.6" stroke-dasharray="5.2,3.6"/>
<filter id="blurb"><feGaussianBlur stdDeviation="1.0"/></filter>
<g filter="url(#blurb)"><ellipse cx="129.2" cy="755.6" rx="5" ry="10" transform="rotate(18 129.2 755.6)" fill="#c42a00"/><ellipse cx="130.2" cy="755.2" rx="4.2" ry="9" transform="rotate(18 130.2 755.2)" fill="#e07a00"/><ellipse cx="131.5" cy="750" rx="2.4" ry="3.2" fill="#f0a800"/><ellipse cx="128.8" cy="760" rx="2.2" ry="2.8" fill="#eea000"/><ellipse cx="134" cy="748" rx="1.2" ry="2.2" fill="#6a8a00"/><ellipse cx="131.5" cy="763" rx="1.3" ry="1.6" fill="#7a8a00"/></g>
<g filter="url(#blurb)"><ellipse cx="307.5" cy="725.5" rx="4.5" ry="5" fill="#2a9a00"/><ellipse cx="312" cy="726" rx="4.6" ry="4.8" fill="#e02a00"/><ellipse cx="310" cy="725.8" rx="3.6" ry="4" fill="#e89a00"/><ellipse cx="310.5" cy="727" rx="1.8" ry="1.8" fill="#b0b000"/></g>
<text x="33.8" y="803" font-size="13.9" font-weight="bold" fill="#ff3311" textLength="36.2" lengthAdjust="spacingAndGlyphs">NHP2</text>
<text x="33.8" y="820.3" font-size="13.6" font-weight="bold" font-style="italic" fill="#16cc16" textLength="84.5" lengthAdjust="spacingAndGlyphs">TbIncRNA-23</text>
<text x="221.9" y="804" font-size="13.9" font-weight="bold" fill="#ff3311" textLength="36" lengthAdjust="spacingAndGlyphs">NHP2</text>
<text x="221.9" y="821.5" font-size="13.6" font-weight="bold" font-style="italic" fill="#16cc16" textLength="72.9" lengthAdjust="spacingAndGlyphs">TB11Cs3C1</text>
<path d="M156.8,818.7 L156.8,823.2 L202.7,823.2 L202.7,818.7" fill="none" stroke="#eee" stroke-width="0.9"/>
<line x1="166.0" y1="823.2" x2="166.0" y2="820.0" stroke="#eee" stroke-width="0.9"/>
<line x1="175.2" y1="823.2" x2="175.2" y2="820.0" stroke="#eee" stroke-width="0.9"/>
<line x1="184.3" y1="823.2" x2="184.3" y2="820.0" stroke="#eee" stroke-width="0.9"/>
<line x1="193.5" y1="823.2" x2="193.5" y2="820.0" stroke="#eee" stroke-width="0.9"/>
<text x="156.4" y="816.3000000000001" font-size="8.0" font-weight="normal" fill="#eee">0</text>
<text x="182.15" y="816.3000000000001" font-size="8.0" font-weight="normal" fill="#eee" text-anchor="middle">µm</text>
<text x="205.7" y="816.3000000000001" font-size="8.0" font-weight="normal" fill="#eee" text-anchor="middle">3</text>
<path d="M340.5,819.4 L340.5,823.9 L385.8,823.9 L385.8,819.4" fill="none" stroke="#eee" stroke-width="0.9"/>
<line x1="349.6" y1="823.9" x2="349.6" y2="820.6999999999999" stroke="#eee" stroke-width="0.9"/>
<line x1="358.6" y1="823.9" x2="358.6" y2="820.6999999999999" stroke="#eee" stroke-width="0.9"/>
<line x1="367.7" y1="823.9" x2="367.7" y2="820.6999999999999" stroke="#eee" stroke-width="0.9"/>
<line x1="376.7" y1="823.9" x2="376.7" y2="820.6999999999999" stroke="#eee" stroke-width="0.9"/>
<text x="340.1" y="817.0" font-size="8.0" font-weight="normal" fill="#eee">0</text>
<text x="365.54999999999995" y="817.0" font-size="8.0" font-weight="normal" fill="#eee" text-anchor="middle">µm</text>
<text x="388.8" y="817.0" font-size="8.0" font-weight="normal" fill="#eee" text-anchor="middle">5</text>
<text x="420.0" y="638.2" font-size="18.6" font-weight="bold" fill="#000">E</text>
<line x1="464.9" y1="562" x2="464.9" y2="702.8" stroke="#333" stroke-width="1"/>
<line x1="464.4" y1="702.3" x2="653.9" y2="702.3" stroke="#333" stroke-width="1"/>
<path d="M654.2,705 L659.3,707.4 L654.2,709.9 Z" fill="#000"/>
<text x="459.6" y="628.5" font-size="10.6" font-weight="bold" fill="#000" text-anchor="middle" textLength="65.3" lengthAdjust="spacingAndGlyphs" transform="rotate(-90 459.6 628.5)">O.D (254nm)</text>
<path d="M464.6,693.5 L470.7,692.7 L476.7,691.8 L477.1,687.5 L477.2,673.6 L477.4,658.1 L477.7,642.5 L478.1,628.7 L478.4,618.3 L478.8,609.6 L479.3,602.7 L480.2,593.2 L481.0,586.3 L482.2,580.2 L483.6,573.3 L485.0,567.2 L485.9,563.8 L486.7,566.4 L488.0,573.3 L488.8,583.7 L489.7,590.6 L490.5,599.3 L491.4,607.9 L492.3,620.0 L493.1,630.4 L494.0,640.8 L495.7,647.7 L497.5,654.6 L500.1,661.5 L503.5,665.9 L507.0,669.3 L509.6,672.8 L514.7,678.0 L519.1,680.9 L522.0,680.5 L525.7,676.5 L529.3,670.7 L532.2,663.4 L534.8,658.2 L537.3,661.2 L540.3,667.7 L541.7,671.9 L544.3,677.1 L547.8,682.3 L550.4,684.4 L553.8,683.7 L557.3,681.4 L560.8,678.8 L564.2,677.5 L567.7,678.0 L572.0,677.1 L575.5,675.4 L578.9,673.6 L581.5,670.2 L584.1,665.0 L585.3,658.1 L586.2,649.4 L586.7,640.8 L587.2,630.4 L587.8,620.0 L588.4,609.6 L589.3,599.3 L590.2,590.6 L591.0,583.7 L592.2,578.5 L593.6,573.3 L595.4,568.1 L596.5,565.0 L598.4,562.6 L600.9,563.5 L602.6,571.9 L604.3,582.0 L606.0,592.1 L607.7,603.9 L609.4,615.7 L611.0,625.8 L613.6,637.5 L616.1,647.6 L618.6,657.7 L621.1,666.2 L623.7,671.2 L627.0,674.6 L630.4,676.6 L633.8,674.2 L638.0,672.9 L642.2,671.2 L645.6,667.8 L648.1,661.1 L649.3,651.9 L650.3,659.4 L651.2,663.0 L652.3,658.6 L653.1,657.7" fill="none" stroke="#a9d585" stroke-width="0.6" stroke-linejoin="round"/>
<path d="M464.8,693.4h0M465.1,694.2h0M465.4,693.4h0M465.6,692.8h0M466.0,693.6h0M466.2,692.5h0M466.5,692.5h0M466.7,693.6h0M467.1,694.1h0M467.3,693.4h0M467.5,692.5h0M467.8,693.1h0M468.1,692.4h0M468.4,692.1h0M468.8,692.8h0M469.0,693.0h0M469.3,692.9h0M469.5,692.8h0M469.9,693.8h0M470.2,693.4h0M470.3,692.4h0M470.6,692.3h0M470.9,693.2h0M471.2,693.3h0M471.6,693.4h0M471.7,691.6h0M472.1,693.3h0M472.3,693.4h0M472.7,691.6h0M472.9,692.9h0M473.2,691.5h0M473.5,693.2h0M473.7,691.5h0M474.0,691.4h0M474.3,692.7h0M474.6,692.2h0M474.9,691.5h0M475.2,691.3h0M475.4,691.3h0M475.7,691.4h0M476.1,692.8h0M476.4,691.5h0M476.5,691.3h0M476.9,691.0h0M477.2,684.0h0M477.4,657.6h0M477.6,644.1h0M477.9,633.1h0M478.3,623.1h0M478.5,615.2h0M478.8,609.4h0M479.1,606.6h0M479.4,602.2h0M479.6,598.5h0M480.0,596.9h0M480.1,592.7h0M480.6,591.2h0M480.9,587.8h0M481.1,586.8h0M481.2,584.5h0M481.7,582.4h0M481.9,581.3h0M482.2,579.9h0M482.4,579.2h0M482.8,577.0h0M482.9,575.4h0M483.4,575.0h0M483.5,573.7h0M483.8,573.0h0M484.1,570.1h0M484.3,569.7h0M484.7,568.0h0M484.9,567.5h0M485.3,566.0h0M485.6,566.1h0M485.8,564.5h0M486.0,563.7h0M486.4,564.4h0M486.7,566.6h0M486.9,566.7h0M487.2,569.0h0M487.6,570.2h0M487.8,571.2h0M488.1,574.3h0M488.4,577.9h0M488.7,581.7h0M488.9,584.0h0M489.2,587.2h0M489.5,588.4h0M489.7,591.5h0M490.0,594.1h0M490.3,597.1h0M490.6,599.1h0M490.9,603.5h0M491.1,605.7h0M491.4,608.3h0M491.7,611.6h0M492.0,614.6h0M492.3,618.3h0M492.5,622.8h0M492.8,626.9h0M493.2,630.4h0M493.3,632.9h0M493.7,636.3h0M493.9,639.3h0M494.2,642.4h0M494.6,642.6h0M494.8,643.6h0M495.0,644.4h0M495.4,646.7h0M495.6,648.0h0M495.8,648.5h0M496.2,648.8h0M496.5,651.2h0M496.8,652.0h0M496.9,652.3h0M497.2,653.7h0M497.5,654.2h0M497.8,655.7h0M498.2,655.9h0M498.4,657.9h0M498.6,656.9h0M498.9,659.2h0M499.3,659.6h0M499.6,659.6h0M499.7,659.8h0M500.0,661.4h0M500.3,662.5h0M500.5,661.5h0M500.9,662.8h0M501.2,663.2h0M501.6,663.9h0M501.7,664.0h0M502.0,664.0h0M502.3,663.4h0M502.5,665.1h0M502.8,664.7h0M503.2,665.8h0M503.5,666.0h0M503.8,665.9h0M503.9,667.2h0M504.3,667.5h0M504.6,666.2h0M504.9,667.4h0M505.1,667.2h0M505.5,668.5h0M505.7,668.9h0M505.9,668.6h0M506.3,669.0h0M506.6,669.1h0M506.9,668.6h0M507.2,670.3h0M507.4,669.9h0M507.7,669.8h0M507.9,671.2h0M508.2,670.1h0M508.5,671.4h0M508.7,671.6h0M509.0,672.6h0M509.3,673.0h0M509.7,672.5h0M509.8,672.4h0M510.2,673.4h0M510.5,674.3h0M510.7,674.8h0M510.9,675.1h0M511.3,674.0h0M511.6,674.4h0M511.8,675.3h0M512.1,676.0h0M512.4,675.3h0M512.8,676.6h0M513.0,675.7h0M513.2,677.4h0M513.5,676.9h0M513.8,677.2h0M514.0,677.6h0M514.4,678.5h0M514.7,677.7h0M514.9,678.3h0M515.1,678.7h0M515.5,678.6h0M515.8,679.6h0M516.0,678.4h0M516.3,678.4h0M516.7,679.9h0M516.8,679.4h0M517.2,679.0h0M517.4,680.6h0M517.6,680.5h0M517.9,679.6h0M518.2,680.7h0M518.6,680.3h0M518.9,680.0h0M519.1,680.2h0M519.3,680.4h0M519.7,680.9h0M519.9,680.5h0M520.2,680.8h0M520.5,680.1h0M520.8,680.9h0M521.1,681.3h0M521.3,681.3h0M521.7,681.0h0M521.9,681.3h0M522.3,679.9h0M522.6,679.4h0M522.7,680.4h0M523.1,678.9h0M523.2,678.6h0M523.6,679.4h0M523.8,679.0h0M524.2,678.0h0M524.4,676.9h0M524.8,677.9h0M524.9,678.1h0M525.3,677.0h0M525.6,676.7h0M525.8,675.7h0M526.0,675.1h0M526.4,675.5h0M526.6,675.1h0M526.9,673.9h0M527.3,674.7h0M527.4,674.4h0M527.9,672.3h0M528.1,672.6h0M528.4,671.9h0M528.6,671.8h0M528.8,671.5h0M529.3,671.2h0M529.5,669.6h0M529.7,670.0h0M530.0,668.3h0M530.2,668.2h0M530.7,668.2h0M531.0,667.1h0M531.1,666.3h0M531.4,665.5h0M531.8,665.5h0M532.1,663.4h0M532.3,663.7h0M532.5,663.3h0M532.9,662.9h0M533.2,661.9h0M533.4,661.5h0M533.6,660.9h0M534.0,659.6h0M534.2,658.4h0M534.5,659.0h0M534.9,657.7h0M535.0,658.9h0M535.4,659.2h0M535.6,659.3h0M535.9,660.5h0M536.3,660.3h0M536.4,661.1h0M536.8,660.8h0M537.0,660.4h0M537.3,660.4h0M537.5,661.6h0M538.0,662.0h0M538.2,663.2h0M538.5,664.6h0M538.7,665.2h0M538.9,665.5h0M539.3,665.7h0M539.6,665.2h0M539.8,666.1h0M540.1,666.7h0M540.3,668.2h0M540.7,669.7h0M541.0,669.7h0M541.2,670.3h0M541.5,671.7h0M541.8,671.7h0M542.0,672.3h0M542.3,672.7h0M542.7,673.1h0M543.0,674.1h0M543.1,675.4h0M543.6,676.4h0M543.8,675.2h0M544.0,676.4h0M544.3,678.0h0M544.7,677.6h0M544.9,678.4h0M545.2,679.3h0M545.4,679.0h0M545.7,679.4h0M545.9,679.1h0M546.2,680.1h0M546.6,680.3h0M546.8,680.8h0M547.1,681.4h0M547.4,682.2h0M547.8,683.1h0M547.9,682.9h0M548.3,681.9h0M548.5,683.4h0M548.8,682.8h0M549.1,683.7h0M549.4,683.7h0M549.6,684.3h0M550.0,683.5h0M550.3,685.0h0M550.4,683.5h0M550.7,683.9h0M551.0,684.5h0M551.2,684.3h0M551.6,683.4h0M551.9,684.2h0M552.2,683.8h0M552.4,683.4h0M552.8,684.4h0M552.9,683.1h0M553.3,684.4h0M553.5,684.3h0M553.8,683.5h0M554.1,684.1h0M554.5,683.6h0M554.7,682.8h0M555.0,683.4h0M555.2,682.6h0M555.6,681.8h0M555.7,681.6h0M556.1,682.3h0M556.3,682.4h0M556.6,682.4h0M557.0,681.1h0M557.2,680.7h0M557.5,681.7h0M557.7,680.6h0M558.1,680.6h0M558.2,680.4h0M558.6,680.8h0M559.0,681.0h0M559.1,680.8h0M559.4,680.4h0M559.7,679.3h0M560.1,680.2h0M560.3,678.7h0M560.5,678.7h0M560.8,678.6h0M561.1,678.1h0M561.4,679.1h0M561.7,679.1h0M562.0,677.7h0M562.2,679.0h0M562.5,677.2h0M562.8,678.1h0M563.1,678.8h0M563.3,678.4h0M563.7,677.8h0M563.8,676.8h0M564.3,678.0h0M564.5,676.8h0M564.8,676.9h0M565.0,677.9h0M565.4,677.1h0M565.7,677.7h0M565.8,677.5h0M566.2,678.7h0M566.4,677.8h0M566.8,678.3h0M567.0,678.7h0M567.3,678.6h0M567.6,678.7h0M567.9,678.6h0M568.1,678.8h0M568.4,677.9h0M568.7,678.4h0M568.9,677.6h0M569.3,678.1h0M569.5,677.4h0M569.8,677.0h0M570.2,677.1h0M570.3,676.6h0M570.7,676.7h0M570.9,677.9h0M571.2,676.4h0M571.6,677.4h0M571.7,676.3h0M572.0,676.5h0M572.4,676.4h0M572.5,677.0h0M572.8,676.1h0M573.2,675.9h0M573.4,676.0h0M573.7,676.9h0M574.1,675.7h0M574.2,676.8h0M574.7,675.9h0M574.8,675.7h0M575.2,674.7h0M575.4,676.0h0M575.7,675.4h0M576.1,674.7h0M576.2,675.3h0M576.5,673.9h0M576.9,674.5h0M577.1,675.0h0M577.3,673.8h0M577.6,673.9h0M577.9,674.8h0M578.3,674.2h0M578.5,673.4h0M578.8,673.0h0M579.1,672.5h0M579.4,673.7h0M579.6,671.9h0M579.8,672.7h0M580.2,671.9h0M580.5,672.5h0M580.7,671.9h0M581.0,671.4h0M581.2,671.3h0M581.5,670.7h0M581.8,669.6h0M582.2,668.3h0M582.4,668.0h0M582.6,667.0h0M583.0,667.2h0M583.3,666.5h0M583.5,665.4h0M583.9,665.5h0M584.1,665.7h0M584.3,662.6h0M584.6,662.3h0M584.9,660.4h0M585.3,657.7h0M585.4,656.9h0M585.7,653.9h0M586.0,650.7h0M586.3,647.0h0M586.6,642.3h0M586.8,636.6h0M587.1,631.7h0M587.5,627.1h0M587.7,621.8h0M587.9,617.2h0M588.2,611.0h0M588.6,608.1h0M588.8,604.0h0M589.1,602.0h0M589.3,597.6h0M589.6,595.0h0M589.9,592.7h0M590.2,591.1h0M590.5,587.9h0M590.9,585.9h0M591.0,583.1h0M591.3,582.0h0M591.7,580.7h0M592.0,580.6h0M592.2,578.8h0M592.4,576.5h0M592.8,576.1h0M593.0,574.6h0M593.4,574.4h0M593.6,573.9h0M593.9,571.8h0M594.2,572.4h0M594.4,570.6h0M594.8,569.4h0M595.0,570.2h0M595.3,568.9h0M595.6,567.1h0M595.8,567.1h0M596.1,565.3h0M596.4,565.4h0M596.8,564.4h0M597.0,564.2h0M597.3,563.4h0M597.6,563.0h0M597.8,563.4h0M598.0,563.1h0M598.5,563.4h0M598.7,563.3h0M599.0,562.1h0M599.3,562.5h0M599.5,562.5h0M599.7,563.7h0M600.0,563.3h0M600.3,562.4h0M600.7,564.3h0M600.8,563.8h0M601.2,565.1h0M601.5,565.9h0M601.6,568.1h0M602.0,568.4h0M602.3,569.6h0M602.5,571.8h0M602.8,573.4h0M603.1,575.1h0M603.3,576.9h0M603.6,578.6h0M604.0,580.9h0M604.2,581.6h0M604.6,583.5h0M604.9,585.5h0M605.2,586.6h0M605.4,588.9h0M605.6,589.8h0M606.0,591.8h0M606.2,593.5h0M606.6,595.3h0M606.7,597.0h0M607.1,599.7h0M607.3,601.7h0M607.6,603.7h0M607.8,605.3h0M608.1,606.4h0M608.4,609.0h0M608.8,610.1h0M608.9,613.0h0M609.3,614.5h0M609.5,616.2h0M609.9,619.3h0M610.2,620.6h0M610.5,621.9h0M610.7,623.3h0M611.0,625.7h0M611.3,626.1h0M611.5,627.4h0M611.7,630.3h0M612.0,630.2h0M612.3,631.6h0M612.7,633.9h0M612.9,634.2h0M613.1,635.9h0M613.6,636.1h0M613.8,637.8h0M614.1,640.1h0M614.3,640.4h0M614.7,641.2h0M614.8,643.4h0M615.1,644.4h0M615.4,644.9h0M615.8,646.8h0M616.0,646.6h0M616.4,647.7h0M616.5,648.6h0M616.8,651.0h0M617.2,652.5h0M617.3,653.3h0M617.8,654.4h0M617.9,655.0h0M618.2,655.7h0M618.5,657.8h0M618.7,657.8h0M619.1,659.6h0M619.4,660.0h0M619.7,662.0h0M619.9,661.7h0M620.2,664.0h0M620.5,663.7h0M620.9,664.3h0M621.0,665.9h0M621.2,666.7h0M621.6,667.4h0M621.9,667.2h0M622.1,667.5h0M622.4,669.3h0M622.7,668.9h0M623.1,669.3h0M623.2,671.3h0M623.6,670.9h0M623.9,671.1h0M624.1,671.6h0M624.4,672.0h0M624.7,671.9h0M625.0,673.0h0M625.3,672.8h0M625.5,673.4h0M625.7,674.2h0M626.0,674.2h0M626.3,674.1h0M626.7,674.1h0M627.0,675.1h0M627.2,674.2h0M627.5,674.4h0M627.7,675.0h0M628.1,675.4h0M628.4,675.5h0M628.5,674.9h0M628.9,674.8h0M629.1,675.7h0M629.5,675.6h0M629.8,675.4h0M630.0,676.5h0M630.2,677.1h0M630.5,675.8h0M630.8,675.4h0M631.1,676.3h0M631.4,675.4h0M631.7,674.9h0M631.9,674.9h0M632.3,674.7h0M632.6,675.7h0M632.8,674.1h0M633.0,674.5h0M633.3,675.4h0M633.7,674.3h0M633.8,675.1h0M634.2,674.0h0M634.4,673.1h0M634.7,674.6h0M635.0,673.6h0M635.2,673.6h0M635.7,672.8h0M635.9,674.1h0M636.1,673.0h0M636.4,673.5h0M636.8,673.2h0M637.0,673.0h0M637.3,674.0h0M637.5,672.2h0M637.8,673.2h0M638.2,672.6h0M638.4,673.4h0M638.7,673.4h0M639.0,672.3h0M639.3,672.2h0M639.5,671.7h0M639.8,671.6h0M640.0,671.4h0M640.4,671.4h0M640.6,671.5h0M641.0,672.7h0M641.1,672.3h0M641.4,671.3h0M641.7,671.7h0M641.9,670.8h0M642.3,670.5h0M642.7,670.6h0M642.8,670.9h0M643.1,670.0h0M643.4,670.8h0M643.8,670.2h0M643.9,670.2h0M644.3,668.8h0M644.6,668.0h0M644.9,668.2h0M645.0,668.3h0M645.3,667.8h0M645.6,666.7h0M645.9,667.0h0M646.2,665.7h0M646.4,665.4h0M646.8,665.0h0M647.1,664.3h0M647.3,662.4h0M647.7,661.9h0M647.9,661.4h0M648.1,661.0h0M648.4,657.8h0M648.7,655.5h0M649.1,653.0h0M649.4,652.2h0M649.6,655.1h0M650.0,656.6h0M650.2,657.8h0M650.5,660.3h0M650.7,661.8h0M650.9,662.5h0M651.3,662.5h0M651.5,660.7h0M651.8,660.1h0M652.1,658.9h0M652.4,658.3h0M652.7,657.5h0M652.9,657.4h0" fill="none" stroke="#74b63c" stroke-width="1.8" stroke-linecap="round"/>
<text x="533.5" y="653.6" font-size="8.8" font-weight="normal" fill="#000" text-anchor="middle" stroke="#000" stroke-width="0.4">40S</text>
<text x="598.4" y="558.3" font-size="8.8" font-weight="normal" fill="#000" text-anchor="middle" stroke="#000" stroke-width="0.4">80S</text>
<text x="566.7" y="668.9" font-size="8.8" font-weight="normal" fill="#000" text-anchor="middle" stroke="#000" stroke-width="0.4">60S</text>
<text x="622.9" y="646.1" font-size="8.8" font-weight="normal" fill="#000" textLength="38.9" lengthAdjust="spacingAndGlyphs" stroke="#000" stroke-width="0.4">Polysome</text>
<text x="637.9" y="716.9" font-size="8.8" font-weight="normal" fill="#000" textLength="16" lengthAdjust="spacingAndGlyphs" stroke="#000" stroke-width="0.4">30%</text>
<text x="537.8" y="725.2" font-size="11.3" font-weight="normal" fill="#000" textLength="43.5" lengthAdjust="spacingAndGlyphs" stroke="#000" stroke-width="0.35">Fractions</text>
<text x="461.1" y="736.4" font-size="8.5" font-weight="normal" fill="#000" textLength="15.8" lengthAdjust="spacingAndGlyphs" stroke="#000" stroke-width="0.4">10%</text>
<path d="M466.4,739.6 L652.7,719.6 L652.7,739.6 Z" fill="#e88a00"/>
<text x="486.6" y="756.7" font-size="9.4" font-weight="bold" fill="#000" text-anchor="middle">T</text>
<text x="496.1" y="756.7" font-size="9.4" font-weight="bold" fill="#000" text-anchor="middle">1</text>
<text x="509" y="756.7" font-size="9.4" font-weight="bold" fill="#000" text-anchor="middle">3</text>
<text x="521.4" y="756.7" font-size="9.4" font-weight="bold" fill="#000" text-anchor="middle">5</text>
<text x="533.3" y="756.7" font-size="9.4" font-weight="bold" fill="#000" text-anchor="middle">7</text>
<text x="545.7" y="756.7" font-size="9.4" font-weight="bold" fill="#000" text-anchor="middle">9</text>
<text x="557.3" y="756.7" font-size="9.4" font-weight="bold" fill="#000" text-anchor="middle">11</text>
<text x="570.1" y="756.7" font-size="9.4" font-weight="bold" fill="#000" text-anchor="middle">13</text>
<text x="582.5" y="756.7" font-size="9.4" font-weight="bold" fill="#000" text-anchor="middle">15</text>
<text x="595.2" y="756.7" font-size="9.4" font-weight="bold" fill="#000" text-anchor="middle">17</text>
<text x="607.6" y="756.7" font-size="9.4" font-weight="bold" fill="#000" text-anchor="middle">19</text>
<text x="620" y="756.7" font-size="9.4" font-weight="bold" fill="#000" text-anchor="middle">21</text>
<text x="632" y="756.7" font-size="9.4" font-weight="bold" fill="#000" text-anchor="middle">23</text>
<text x="644.4" y="756.7" font-size="9.4" font-weight="bold" fill="#000" text-anchor="middle">25</text>
<rect x="479.4" y="759.9" width="174.6" height="20.6" fill="#f9f9f9"/>
<rect x="479.4" y="759.9" width="174.6" height="20.6" fill="none" stroke="#555" stroke-width="0.9" stroke-dasharray="2.6,2"/>
<rect x="479.4" y="786.3" width="174.6" height="21.2" fill="#f7f7f7"/>
<rect x="479.4" y="786.3" width="174.6" height="21.2" fill="none" stroke="#555" stroke-width="0.9" stroke-dasharray="2.6,2"/>
<rect x="479.4" y="811.2" width="174.6" height="20.8" fill="#f9f9f9"/>
<rect x="479.4" y="811.2" width="174.6" height="20.8" fill="none" stroke="#555" stroke-width="0.9" stroke-dasharray="2.6,2"/>
<text x="474.3" y="775" font-size="10.0" font-weight="bold" font-style="italic" fill="#000" text-anchor="end" textLength="63.1" lengthAdjust="spacingAndGlyphs">TbIncRNA-23</text>
<text x="474.3" y="800" font-size="10.0" font-weight="bold" font-style="italic" fill="#000" text-anchor="end" textLength="55.6" lengthAdjust="spacingAndGlyphs">TB11Cs2C2</text>
<text x="474.3" y="825.5" font-size="10.0" font-weight="bold" font-style="italic" fill="#000" text-anchor="end" textLength="66.8" lengthAdjust="spacingAndGlyphs">GPEET mRNA</text>
<text x="653.8" y="772.6" font-size="7.8" font-weight="bold" fill="#000">-</text>
<text x="663.4" y="772.6" font-size="7.8" font-weight="bold" fill="#000" textLength="20" lengthAdjust="spacingAndGlyphs">500nt</text>
<path d="M658.5,770.5 q1.1,-1.6 2.3,-0.3 q1.2,1.3 2.3,-0.3" fill="none" stroke="#000" stroke-width="0.9"/>
<text x="653.8" y="798.8" font-size="7.8" font-weight="bold" fill="#000">- 92nt</text>
<text x="653.8" y="824.7" font-size="7.8" font-weight="bold" fill="#000">- 675nt</text>
<rect x="482.9" y="765.0" width="8" height="3" rx="1.5" fill="#bbb" filter="url(#blur1)"/>
<rect x="482.9" y="771.1" width="8" height="2.6" rx="1.3" fill="#999" filter="url(#blur1)"/>
<rect x="506.4" y="767.8" width="9" height="2.6" rx="1.3" fill="#bbb" filter="url(#blur1)"/>
<rect x="506.4" y="772.0" width="9" height="6" rx="3.0" fill="#e0e0e0" filter="url(#blur1)"/>
<rect x="517.5" y="768.0" width="10.5" height="7" rx="3.5" fill="#000" filter="url(#blur1)"/>
<rect x="518.2" y="775.0" width="9" height="5" rx="2.5" fill="#555" filter="url(#blur1)"/>
<rect x="530.3" y="770.2" width="9" height="3.5" rx="1.8" fill="#1a1a1a" filter="url(#blur1)"/>
<rect x="530.3" y="774.0" width="9" height="5" rx="2.5" fill="#aaa" filter="url(#blur1)"/>
<rect x="542.1" y="770.9" width="9" height="3" rx="1.5" fill="#999" filter="url(#blur1)"/>
<rect x="542.1" y="774.0" width="9" height="5" rx="2.5" fill="#ccc" filter="url(#blur1)"/>
<rect x="554.7" y="771.1" width="9" height="2.6" rx="1.3" fill="#c8c8c8" filter="url(#blur1)"/>
<rect x="554.7" y="774.0" width="9" height="5" rx="2.5" fill="#ddd" filter="url(#blur1)"/>
<rect x="565.7" y="769.3" width="9" height="2.6" rx="1.3" fill="#b0b0b0" filter="url(#blur1)"/>
<rect x="565.7" y="773.0" width="9" height="5" rx="2.5" fill="#d8d8d8" filter="url(#blur1)"/>
<rect x="578.0" y="770.2" width="9" height="2.6" rx="1.3" fill="#c4c4c4" filter="url(#blur1)"/>
<rect x="578.0" y="773.0" width="9" height="5" rx="2.5" fill="#dcdcdc" filter="url(#blur1)"/>
<rect x="590.7" y="769.8" width="9" height="2.4" rx="1.2" fill="#d4d4d4" filter="url(#blur1)"/>
<rect x="603.1" y="769.9" width="9" height="2.2" rx="1.1" fill="#e0e0e0" filter="url(#blur1)"/>
<rect x="615.5" y="769.2" width="9" height="2.6" rx="1.3" fill="#c0c0c0" filter="url(#blur1)"/>
<rect x="627.5" y="768.9" width="9" height="2.2" rx="1.1" fill="#e4e4e4" filter="url(#blur1)"/>
<rect x="640.1" y="768.7" width="9" height="2.6" rx="1.3" fill="#c4c4c4" filter="url(#blur1)"/>
<rect x="482.0" y="794.5" width="10" height="4.4" rx="2.2" fill="#000" filter="url(#blur1)"/>
<rect x="483.5" y="789.5" width="7" height="5" rx="2.5" fill="#aaa" filter="url(#blur1)"/>
<rect x="493.9" y="796.5" width="9" height="3" rx="1.5" fill="#999" filter="url(#blur1)"/>
<rect x="505.9" y="795.8" width="10" height="4" rx="2.0" fill="#000" filter="url(#blur1)"/>
<rect x="506.4" y="800.5" width="9" height="3" rx="1.5" fill="#bbb" filter="url(#blur1)"/>
<rect x="518.2" y="795.4" width="9" height="3.2" rx="1.6" fill="#333" filter="url(#blur1)"/>
<rect x="530.7" y="796.0" width="9" height="3" rx="1.5" fill="#777" filter="url(#blur1)"/>
<rect x="542.5" y="796.0" width="9" height="3" rx="1.5" fill="#888" filter="url(#blur1)"/>
<rect x="555.0" y="796.0" width="9" height="3" rx="1.5" fill="#999" filter="url(#blur1)"/>
<rect x="565.7" y="796.6" width="9" height="2.8" rx="1.4" fill="#999" filter="url(#blur1)"/>
<rect x="578.0" y="796.6" width="9" height="2.8" rx="1.4" fill="#a8a8a8" filter="url(#blur1)"/>
<rect x="590.7" y="796.7" width="9" height="2.6" rx="1.3" fill="#cccccc" filter="url(#blur1)"/>
<rect x="603.1" y="796.8" width="9" height="2.4" rx="1.2" fill="#dddddd" filter="url(#blur1)"/>
<rect x="615.5" y="796.7" width="9" height="2.6" rx="1.3" fill="#b8b8b8" filter="url(#blur1)"/>
<rect x="627.5" y="796.3" width="9" height="2.4" rx="1.2" fill="#cccccc" filter="url(#blur1)"/>
<rect x="639.5" y="796.0" width="10" height="4.5" rx="2.2" fill="#000" filter="url(#blur1)"/>
<rect x="640.5" y="791.0" width="8" height="4" rx="2.0" fill="#bbb" filter="url(#blur1)"/>
<rect x="482.5" y="819.8" width="9" height="3" rx="1.5" fill="#111" filter="url(#blur1)"/>
<rect x="483.0" y="814.0" width="8" height="4" rx="2.0" fill="#ddd" filter="url(#blur1)"/>
<rect x="506.4" y="819.9" width="9" height="2.2" rx="1.1" fill="#dcdcdc" filter="url(#blur1)"/>
<rect x="518.2" y="819.8" width="9" height="3" rx="1.5" fill="#aaa" filter="url(#blur1)"/>
<rect x="518.2" y="824.0" width="9" height="4" rx="2.0" fill="#e0e0e0" filter="url(#blur1)"/>
<rect x="530.7" y="820.4" width="9" height="2.2" rx="1.1" fill="#d4d4d4" filter="url(#blur1)"/>
<rect x="542.5" y="820.2" width="9" height="2.6" rx="1.3" fill="#c4c4c4" filter="url(#blur1)"/>
<rect x="555.0" y="820.5" width="9" height="2" rx="1.0" fill="#e0e0e0" filter="url(#blur1)"/>
<rect x="565.7" y="820.5" width="9" height="2" rx="1.0" fill="#dddddd" filter="url(#blur1)"/>
<rect x="590.7" y="820.7" width="9" height="2.6" rx="1.3" fill="#cccccc" filter="url(#blur1)"/>
<rect x="602.2" y="820.9" width="9" height="3" rx="1.5" fill="#aaa" filter="url(#blur1)"/>
<rect x="615.5" y="821.0" width="9" height="10" rx="4.5" fill="#bbb" filter="url(#blur1)"/>
<rect x="615.5" y="820.5" width="9" height="3" rx="1.5" fill="#999" filter="url(#blur1)"/>
<rect x="626.5" y="822.1" width="10" height="3.5" rx="1.8" fill="#222" filter="url(#blur1)"/>
<rect x="627.5" y="815.0" width="8" height="6" rx="3.0" fill="#ddd" filter="url(#blur1)"/>
<rect x="640.0" y="822.4" width="9" height="3" rx="1.5" fill="#555" filter="url(#blur1)"/>
</svg>
</body></html>
